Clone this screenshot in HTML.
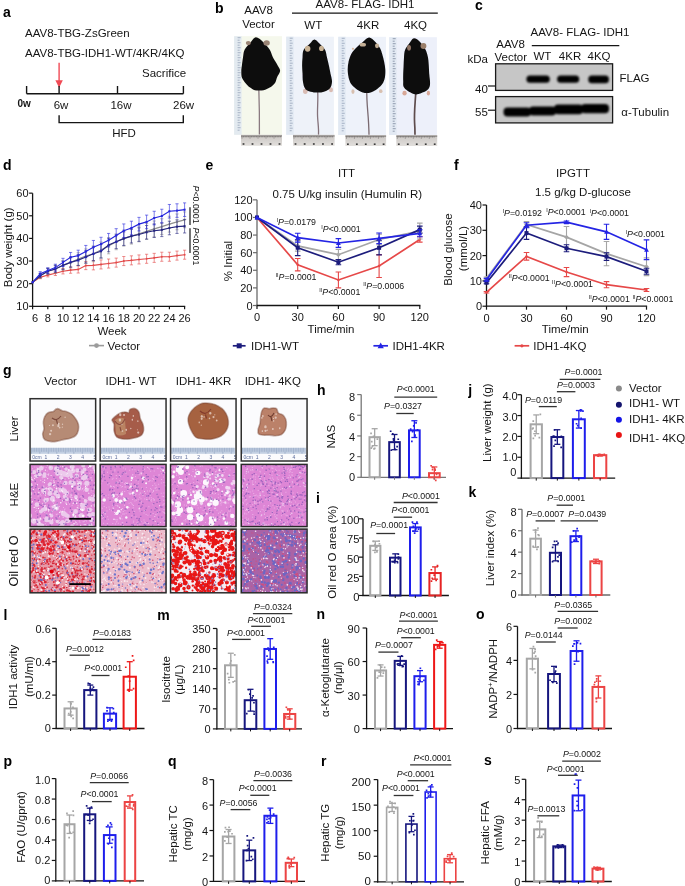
<!DOCTYPE html>
<html><head><meta charset="utf-8"><style>html,body{margin:0;padding:0;background:#fff;}svg{display:block;will-change:transform;}</style></head>
<body>
<svg width="685" height="886" viewBox="0 0 685 886" font-family="'Liberation Sans', sans-serif" fill="#151515">
<rect width="685" height="886" fill="#fff"/>
<defs>
<filter id="blur1" x="-20%" y="-50%" width="140%" height="200%"><feGaussianBlur stdDeviation="0.9"/></filter>
<filter id="blur05"><feGaussianBlur stdDeviation="0.5"/></filter>
<filter id="blur2" x="-20%" y="-50%" width="140%" height="200%"><feGaussianBlur stdDeviation="1.6"/></filter>
<linearGradient id="ruler" x1="0" y1="0" x2="0" y2="1"><stop offset="0" stop-color="#c9c5c2"/><stop offset="1" stop-color="#e2dfdc"/></linearGradient>
</defs>
<text x="3" y="16.8" font-size="14" font-weight="bold" fill="#000">a</text>
<text x="25" y="36.5" font-size="11.5">AAV8-TBG-ZsGreen</text>
<text x="25" y="57" font-size="11.5">AAV8-TBG-IDH1-WT/4KR/4KQ</text>
<line x1="59.1" y1="62.8" x2="59.1" y2="81" stroke="#f04a55" stroke-width="1.4"/>
<path d="M55.4,80.2 L62.8,80.2 L59.1,87.8 Z" fill="#f04a55"/>
<text x="142" y="77" font-size="11.5">Sacrifice</text>
<line x1="26.6" y1="93.7" x2="183.4" y2="93.7" stroke="#151515" stroke-width="1.4"/>
<line x1="26.6" y1="86" x2="26.6" y2="93.7" stroke="#151515" stroke-width="1.4"/>
<line x1="59.1" y1="86" x2="59.1" y2="93.7" stroke="#151515" stroke-width="1.4"/>
<line x1="117.5" y1="86" x2="117.5" y2="93.7" stroke="#151515" stroke-width="1.4"/>
<line x1="183.4" y1="86" x2="183.4" y2="93.7" stroke="#151515" stroke-width="1.4"/>
<text x="17.5" y="107" font-size="10" font-weight="bold">0w</text>
<text x="61" y="108.5" font-size="11.5" text-anchor="middle">6w</text>
<text x="121" y="108.5" font-size="11.5" text-anchor="middle">16w</text>
<text x="183.6" y="108.5" font-size="11.5" text-anchor="middle">26w</text>
<path d="M59.1,115.2 V122.6 H183.3 V115.2" fill="none" stroke="#151515" stroke-width="1.4"/>
<text x="124" y="137.4" font-size="11.5" text-anchor="middle">HFD</text>
<text x="215" y="13.2" font-size="14" font-weight="bold" fill="#000">b</text>
<text x="258.5" y="14.2" font-size="11.5" text-anchor="middle">AAV8</text>
<text x="258.5" y="27.7" font-size="11.5" text-anchor="middle">Vector</text>
<text x="365" y="8.3" font-size="11.5" text-anchor="middle">AAV8- FLAG- IDH1</text>
<line x1="292" y1="13.2" x2="437.8" y2="13.2" stroke="#151515" stroke-width="1.3"/>
<text x="313.3" y="29.2" font-size="11.5" text-anchor="middle">WT</text>
<text x="368" y="29.2" font-size="11.5" text-anchor="middle">4KR</text>
<text x="415.5" y="29.2" font-size="11.5" text-anchor="middle">4KQ</text>
<defs><filter id="msoft" x="-5%" y="-5%" width="110%" height="110%"><feGaussianBlur stdDeviation="0.45"/></filter></defs><rect x="234.1" y="36.2" width="47.9" height="98.6" fill="#f5f8ec"/>
<rect x="234.1" y="36.2" width="7.5" height="98.6" fill="#dfe7f1" opacity="0.85"/>
<line x1="237.6" y1="37.7" x2="240.6" y2="37.7" stroke="#8d9bb2" stroke-width="0.7"/>
<line x1="237.6" y1="40.2" x2="239.6" y2="40.2" stroke="#8d9bb2" stroke-width="0.7"/>
<line x1="237.6" y1="42.7" x2="240.6" y2="42.7" stroke="#8d9bb2" stroke-width="0.7"/>
<line x1="237.6" y1="45.2" x2="239.6" y2="45.2" stroke="#8d9bb2" stroke-width="0.7"/>
<line x1="237.6" y1="47.7" x2="240.6" y2="47.7" stroke="#8d9bb2" stroke-width="0.7"/>
<line x1="237.6" y1="50.2" x2="239.6" y2="50.2" stroke="#8d9bb2" stroke-width="0.7"/>
<line x1="237.6" y1="52.7" x2="240.6" y2="52.7" stroke="#8d9bb2" stroke-width="0.7"/>
<line x1="237.6" y1="55.2" x2="239.6" y2="55.2" stroke="#8d9bb2" stroke-width="0.7"/>
<line x1="237.6" y1="57.7" x2="240.6" y2="57.7" stroke="#8d9bb2" stroke-width="0.7"/>
<line x1="237.6" y1="60.2" x2="239.6" y2="60.2" stroke="#8d9bb2" stroke-width="0.7"/>
<line x1="237.6" y1="62.7" x2="240.6" y2="62.7" stroke="#8d9bb2" stroke-width="0.7"/>
<line x1="237.6" y1="65.2" x2="239.6" y2="65.2" stroke="#8d9bb2" stroke-width="0.7"/>
<line x1="237.6" y1="67.7" x2="240.6" y2="67.7" stroke="#8d9bb2" stroke-width="0.7"/>
<line x1="237.6" y1="70.2" x2="239.6" y2="70.2" stroke="#8d9bb2" stroke-width="0.7"/>
<line x1="237.6" y1="72.7" x2="240.6" y2="72.7" stroke="#8d9bb2" stroke-width="0.7"/>
<line x1="237.6" y1="75.2" x2="239.6" y2="75.2" stroke="#8d9bb2" stroke-width="0.7"/>
<line x1="237.6" y1="77.7" x2="240.6" y2="77.7" stroke="#8d9bb2" stroke-width="0.7"/>
<line x1="237.6" y1="80.2" x2="239.6" y2="80.2" stroke="#8d9bb2" stroke-width="0.7"/>
<line x1="237.6" y1="82.7" x2="240.6" y2="82.7" stroke="#8d9bb2" stroke-width="0.7"/>
<line x1="237.6" y1="85.2" x2="239.6" y2="85.2" stroke="#8d9bb2" stroke-width="0.7"/>
<line x1="237.6" y1="87.7" x2="240.6" y2="87.7" stroke="#8d9bb2" stroke-width="0.7"/>
<line x1="237.6" y1="90.2" x2="239.6" y2="90.2" stroke="#8d9bb2" stroke-width="0.7"/>
<line x1="237.6" y1="92.7" x2="240.6" y2="92.7" stroke="#8d9bb2" stroke-width="0.7"/>
<line x1="237.6" y1="95.2" x2="239.6" y2="95.2" stroke="#8d9bb2" stroke-width="0.7"/>
<line x1="237.6" y1="97.7" x2="240.6" y2="97.7" stroke="#8d9bb2" stroke-width="0.7"/>
<line x1="237.6" y1="100.2" x2="239.6" y2="100.2" stroke="#8d9bb2" stroke-width="0.7"/>
<line x1="237.6" y1="102.7" x2="240.6" y2="102.7" stroke="#8d9bb2" stroke-width="0.7"/>
<line x1="237.6" y1="105.2" x2="239.6" y2="105.2" stroke="#8d9bb2" stroke-width="0.7"/>
<line x1="237.6" y1="107.7" x2="240.6" y2="107.7" stroke="#8d9bb2" stroke-width="0.7"/>
<line x1="237.6" y1="110.2" x2="239.6" y2="110.2" stroke="#8d9bb2" stroke-width="0.7"/>
<line x1="237.6" y1="112.7" x2="240.6" y2="112.7" stroke="#8d9bb2" stroke-width="0.7"/>
<line x1="237.6" y1="115.2" x2="239.6" y2="115.2" stroke="#8d9bb2" stroke-width="0.7"/>
<line x1="237.6" y1="117.7" x2="240.6" y2="117.7" stroke="#8d9bb2" stroke-width="0.7"/>
<line x1="237.6" y1="120.2" x2="239.6" y2="120.2" stroke="#8d9bb2" stroke-width="0.7"/>
<line x1="237.6" y1="122.7" x2="240.6" y2="122.7" stroke="#8d9bb2" stroke-width="0.7"/>
<line x1="237.6" y1="125.2" x2="239.6" y2="125.2" stroke="#8d9bb2" stroke-width="0.7"/>
<line x1="237.6" y1="127.7" x2="240.6" y2="127.7" stroke="#8d9bb2" stroke-width="0.7"/>
<line x1="237.6" y1="130.2" x2="239.6" y2="130.2" stroke="#8d9bb2" stroke-width="0.7"/>
<rect x="241" y="134.8" width="41" height="11" fill="url(#ruler)"/>
<line x1="241" y1="136" x2="282" y2="136" stroke="#6a6664" stroke-width="0.8"/>
<path d="M242.0 136.0v2.6M243.6 136.0v1.4M245.2 136.0v1.4M246.8 136.0v1.4M248.4 136.0v1.4M250.0 136.0v2.6M251.6 136.0v1.4M253.2 136.0v1.4M254.8 136.0v1.4M256.4 136.0v1.4M258.0 136.0v2.6M259.6 136.0v1.4M261.2 136.0v1.4M262.8 136.0v1.4M264.4 136.0v1.4M266.0 136.0v2.6M267.6 136.0v1.4M269.2 136.0v1.4M270.8 136.0v1.4M272.4 136.0v1.4M274.0 136.0v2.6M275.6 136.0v1.4M277.2 136.0v1.4M278.8 136.0v1.4M280.4 136.0v1.4" stroke="#5e5a58" stroke-width="0.5"/>
<rect x="242.6" y="143.2" width="1.8" height="1.6" fill="#3a3a3a"/>
<rect x="251.6" y="143.2" width="1.8" height="1.6" fill="#3a3a3a"/>
<rect x="260.6" y="143.2" width="1.8" height="1.6" fill="#3a3a3a"/>
<rect x="269.6" y="143.2" width="1.8" height="1.6" fill="#3a3a3a"/>
<rect x="278.6" y="143.2" width="1.8" height="1.6" fill="#3a3a3a"/>
<rect x="286.2" y="36.7" width="47.7" height="98.1" fill="#eef2f9"/>
<rect x="286.2" y="36.7" width="7.5" height="98.1" fill="#dfe7f1" opacity="0.85"/>
<line x1="289.7" y1="38.2" x2="292.7" y2="38.2" stroke="#8d9bb2" stroke-width="0.7"/>
<line x1="289.7" y1="40.7" x2="291.7" y2="40.7" stroke="#8d9bb2" stroke-width="0.7"/>
<line x1="289.7" y1="43.2" x2="292.7" y2="43.2" stroke="#8d9bb2" stroke-width="0.7"/>
<line x1="289.7" y1="45.7" x2="291.7" y2="45.7" stroke="#8d9bb2" stroke-width="0.7"/>
<line x1="289.7" y1="48.2" x2="292.7" y2="48.2" stroke="#8d9bb2" stroke-width="0.7"/>
<line x1="289.7" y1="50.7" x2="291.7" y2="50.7" stroke="#8d9bb2" stroke-width="0.7"/>
<line x1="289.7" y1="53.2" x2="292.7" y2="53.2" stroke="#8d9bb2" stroke-width="0.7"/>
<line x1="289.7" y1="55.7" x2="291.7" y2="55.7" stroke="#8d9bb2" stroke-width="0.7"/>
<line x1="289.7" y1="58.2" x2="292.7" y2="58.2" stroke="#8d9bb2" stroke-width="0.7"/>
<line x1="289.7" y1="60.7" x2="291.7" y2="60.7" stroke="#8d9bb2" stroke-width="0.7"/>
<line x1="289.7" y1="63.2" x2="292.7" y2="63.2" stroke="#8d9bb2" stroke-width="0.7"/>
<line x1="289.7" y1="65.7" x2="291.7" y2="65.7" stroke="#8d9bb2" stroke-width="0.7"/>
<line x1="289.7" y1="68.2" x2="292.7" y2="68.2" stroke="#8d9bb2" stroke-width="0.7"/>
<line x1="289.7" y1="70.7" x2="291.7" y2="70.7" stroke="#8d9bb2" stroke-width="0.7"/>
<line x1="289.7" y1="73.2" x2="292.7" y2="73.2" stroke="#8d9bb2" stroke-width="0.7"/>
<line x1="289.7" y1="75.7" x2="291.7" y2="75.7" stroke="#8d9bb2" stroke-width="0.7"/>
<line x1="289.7" y1="78.2" x2="292.7" y2="78.2" stroke="#8d9bb2" stroke-width="0.7"/>
<line x1="289.7" y1="80.7" x2="291.7" y2="80.7" stroke="#8d9bb2" stroke-width="0.7"/>
<line x1="289.7" y1="83.2" x2="292.7" y2="83.2" stroke="#8d9bb2" stroke-width="0.7"/>
<line x1="289.7" y1="85.7" x2="291.7" y2="85.7" stroke="#8d9bb2" stroke-width="0.7"/>
<line x1="289.7" y1="88.2" x2="292.7" y2="88.2" stroke="#8d9bb2" stroke-width="0.7"/>
<line x1="289.7" y1="90.7" x2="291.7" y2="90.7" stroke="#8d9bb2" stroke-width="0.7"/>
<line x1="289.7" y1="93.2" x2="292.7" y2="93.2" stroke="#8d9bb2" stroke-width="0.7"/>
<line x1="289.7" y1="95.7" x2="291.7" y2="95.7" stroke="#8d9bb2" stroke-width="0.7"/>
<line x1="289.7" y1="98.2" x2="292.7" y2="98.2" stroke="#8d9bb2" stroke-width="0.7"/>
<line x1="289.7" y1="100.7" x2="291.7" y2="100.7" stroke="#8d9bb2" stroke-width="0.7"/>
<line x1="289.7" y1="103.2" x2="292.7" y2="103.2" stroke="#8d9bb2" stroke-width="0.7"/>
<line x1="289.7" y1="105.7" x2="291.7" y2="105.7" stroke="#8d9bb2" stroke-width="0.7"/>
<line x1="289.7" y1="108.2" x2="292.7" y2="108.2" stroke="#8d9bb2" stroke-width="0.7"/>
<line x1="289.7" y1="110.7" x2="291.7" y2="110.7" stroke="#8d9bb2" stroke-width="0.7"/>
<line x1="289.7" y1="113.2" x2="292.7" y2="113.2" stroke="#8d9bb2" stroke-width="0.7"/>
<line x1="289.7" y1="115.7" x2="291.7" y2="115.7" stroke="#8d9bb2" stroke-width="0.7"/>
<line x1="289.7" y1="118.2" x2="292.7" y2="118.2" stroke="#8d9bb2" stroke-width="0.7"/>
<line x1="289.7" y1="120.7" x2="291.7" y2="120.7" stroke="#8d9bb2" stroke-width="0.7"/>
<line x1="289.7" y1="123.2" x2="292.7" y2="123.2" stroke="#8d9bb2" stroke-width="0.7"/>
<line x1="289.7" y1="125.7" x2="291.7" y2="125.7" stroke="#8d9bb2" stroke-width="0.7"/>
<line x1="289.7" y1="128.2" x2="292.7" y2="128.2" stroke="#8d9bb2" stroke-width="0.7"/>
<line x1="289.7" y1="130.7" x2="291.7" y2="130.7" stroke="#8d9bb2" stroke-width="0.7"/>
<rect x="293" y="134.8" width="41.6" height="11" fill="url(#ruler)"/>
<line x1="293" y1="136" x2="334.6" y2="136" stroke="#6a6664" stroke-width="0.8"/>
<path d="M294.0 136.0v2.6M295.6 136.0v1.4M297.2 136.0v1.4M298.8 136.0v1.4M300.4 136.0v1.4M302.0 136.0v2.6M303.6 136.0v1.4M305.2 136.0v1.4M306.8 136.0v1.4M308.4 136.0v1.4M310.0 136.0v2.6M311.6 136.0v1.4M313.2 136.0v1.4M314.8 136.0v1.4M316.4 136.0v1.4M318.0 136.0v2.6M319.6 136.0v1.4M321.2 136.0v1.4M322.8 136.0v1.4M324.4 136.0v1.4M326.0 136.0v2.6M327.6 136.0v1.4M329.2 136.0v1.4M330.8 136.0v1.4M332.4 136.0v1.4" stroke="#5e5a58" stroke-width="0.5"/>
<rect x="294.6" y="143.2" width="1.8" height="1.6" fill="#3a3a3a"/>
<rect x="303.75" y="143.2" width="1.8" height="1.6" fill="#3a3a3a"/>
<rect x="312.9" y="143.2" width="1.8" height="1.6" fill="#3a3a3a"/>
<rect x="322.05" y="143.2" width="1.8" height="1.6" fill="#3a3a3a"/>
<rect x="331.2" y="143.2" width="1.8" height="1.6" fill="#3a3a3a"/>
<rect x="338.2" y="36.8" width="47.8" height="98.2" fill="#eef2fa"/>
<rect x="338.2" y="36.8" width="7.5" height="98.2" fill="#dfe7f1" opacity="0.85"/>
<line x1="341.7" y1="38.3" x2="344.7" y2="38.3" stroke="#8d9bb2" stroke-width="0.7"/>
<line x1="341.7" y1="40.8" x2="343.7" y2="40.8" stroke="#8d9bb2" stroke-width="0.7"/>
<line x1="341.7" y1="43.3" x2="344.7" y2="43.3" stroke="#8d9bb2" stroke-width="0.7"/>
<line x1="341.7" y1="45.8" x2="343.7" y2="45.8" stroke="#8d9bb2" stroke-width="0.7"/>
<line x1="341.7" y1="48.3" x2="344.7" y2="48.3" stroke="#8d9bb2" stroke-width="0.7"/>
<line x1="341.7" y1="50.8" x2="343.7" y2="50.8" stroke="#8d9bb2" stroke-width="0.7"/>
<line x1="341.7" y1="53.3" x2="344.7" y2="53.3" stroke="#8d9bb2" stroke-width="0.7"/>
<line x1="341.7" y1="55.8" x2="343.7" y2="55.8" stroke="#8d9bb2" stroke-width="0.7"/>
<line x1="341.7" y1="58.3" x2="344.7" y2="58.3" stroke="#8d9bb2" stroke-width="0.7"/>
<line x1="341.7" y1="60.8" x2="343.7" y2="60.8" stroke="#8d9bb2" stroke-width="0.7"/>
<line x1="341.7" y1="63.3" x2="344.7" y2="63.3" stroke="#8d9bb2" stroke-width="0.7"/>
<line x1="341.7" y1="65.8" x2="343.7" y2="65.8" stroke="#8d9bb2" stroke-width="0.7"/>
<line x1="341.7" y1="68.3" x2="344.7" y2="68.3" stroke="#8d9bb2" stroke-width="0.7"/>
<line x1="341.7" y1="70.8" x2="343.7" y2="70.8" stroke="#8d9bb2" stroke-width="0.7"/>
<line x1="341.7" y1="73.3" x2="344.7" y2="73.3" stroke="#8d9bb2" stroke-width="0.7"/>
<line x1="341.7" y1="75.8" x2="343.7" y2="75.8" stroke="#8d9bb2" stroke-width="0.7"/>
<line x1="341.7" y1="78.3" x2="344.7" y2="78.3" stroke="#8d9bb2" stroke-width="0.7"/>
<line x1="341.7" y1="80.8" x2="343.7" y2="80.8" stroke="#8d9bb2" stroke-width="0.7"/>
<line x1="341.7" y1="83.3" x2="344.7" y2="83.3" stroke="#8d9bb2" stroke-width="0.7"/>
<line x1="341.7" y1="85.8" x2="343.7" y2="85.8" stroke="#8d9bb2" stroke-width="0.7"/>
<line x1="341.7" y1="88.3" x2="344.7" y2="88.3" stroke="#8d9bb2" stroke-width="0.7"/>
<line x1="341.7" y1="90.8" x2="343.7" y2="90.8" stroke="#8d9bb2" stroke-width="0.7"/>
<line x1="341.7" y1="93.3" x2="344.7" y2="93.3" stroke="#8d9bb2" stroke-width="0.7"/>
<line x1="341.7" y1="95.8" x2="343.7" y2="95.8" stroke="#8d9bb2" stroke-width="0.7"/>
<line x1="341.7" y1="98.3" x2="344.7" y2="98.3" stroke="#8d9bb2" stroke-width="0.7"/>
<line x1="341.7" y1="100.8" x2="343.7" y2="100.8" stroke="#8d9bb2" stroke-width="0.7"/>
<line x1="341.7" y1="103.3" x2="344.7" y2="103.3" stroke="#8d9bb2" stroke-width="0.7"/>
<line x1="341.7" y1="105.8" x2="343.7" y2="105.8" stroke="#8d9bb2" stroke-width="0.7"/>
<line x1="341.7" y1="108.3" x2="344.7" y2="108.3" stroke="#8d9bb2" stroke-width="0.7"/>
<line x1="341.7" y1="110.8" x2="343.7" y2="110.8" stroke="#8d9bb2" stroke-width="0.7"/>
<line x1="341.7" y1="113.3" x2="344.7" y2="113.3" stroke="#8d9bb2" stroke-width="0.7"/>
<line x1="341.7" y1="115.8" x2="343.7" y2="115.8" stroke="#8d9bb2" stroke-width="0.7"/>
<line x1="341.7" y1="118.3" x2="344.7" y2="118.3" stroke="#8d9bb2" stroke-width="0.7"/>
<line x1="341.7" y1="120.8" x2="343.7" y2="120.8" stroke="#8d9bb2" stroke-width="0.7"/>
<line x1="341.7" y1="123.3" x2="344.7" y2="123.3" stroke="#8d9bb2" stroke-width="0.7"/>
<line x1="341.7" y1="125.8" x2="343.7" y2="125.8" stroke="#8d9bb2" stroke-width="0.7"/>
<line x1="341.7" y1="128.3" x2="344.7" y2="128.3" stroke="#8d9bb2" stroke-width="0.7"/>
<line x1="341.7" y1="130.8" x2="343.7" y2="130.8" stroke="#8d9bb2" stroke-width="0.7"/>
<rect x="345.4" y="135" width="40.7" height="11" fill="url(#ruler)"/>
<line x1="345.4" y1="136.2" x2="386.1" y2="136.2" stroke="#6a6664" stroke-width="0.8"/>
<path d="M346.4 136.2v2.6M348.0 136.2v1.4M349.6 136.2v1.4M351.2 136.2v1.4M352.8 136.2v1.4M354.4 136.2v2.6M356.0 136.2v1.4M357.6 136.2v1.4M359.2 136.2v1.4M360.8 136.2v1.4M362.4 136.2v2.6M364.0 136.2v1.4M365.6 136.2v1.4M367.2 136.2v1.4M368.8 136.2v1.4M370.4 136.2v2.6M372.0 136.2v1.4M373.6 136.2v1.4M375.2 136.2v1.4M376.8 136.2v1.4M378.4 136.2v2.6M380.0 136.2v1.4M381.6 136.2v1.4M383.2 136.2v1.4" stroke="#5e5a58" stroke-width="0.5"/>
<rect x="347" y="143.4" width="1.8" height="1.6" fill="#3a3a3a"/>
<rect x="355.93" y="143.4" width="1.8" height="1.6" fill="#3a3a3a"/>
<rect x="364.85" y="143.4" width="1.8" height="1.6" fill="#3a3a3a"/>
<rect x="373.78" y="143.4" width="1.8" height="1.6" fill="#3a3a3a"/>
<rect x="382.7" y="143.4" width="1.8" height="1.6" fill="#3a3a3a"/>
<rect x="389.2" y="37.2" width="47.7" height="97.8" fill="#edf0fa"/>
<rect x="389.2" y="37.2" width="7.5" height="97.8" fill="#dfe7f1" opacity="0.85"/>
<line x1="392.7" y1="38.7" x2="395.7" y2="38.7" stroke="#6f7b92" stroke-width="0.7"/>
<line x1="392.7" y1="41.2" x2="394.7" y2="41.2" stroke="#6f7b92" stroke-width="0.7"/>
<line x1="392.7" y1="43.7" x2="395.7" y2="43.7" stroke="#6f7b92" stroke-width="0.7"/>
<line x1="392.7" y1="46.2" x2="394.7" y2="46.2" stroke="#6f7b92" stroke-width="0.7"/>
<line x1="392.7" y1="48.7" x2="395.7" y2="48.7" stroke="#6f7b92" stroke-width="0.7"/>
<line x1="392.7" y1="51.2" x2="394.7" y2="51.2" stroke="#6f7b92" stroke-width="0.7"/>
<line x1="392.7" y1="53.7" x2="395.7" y2="53.7" stroke="#6f7b92" stroke-width="0.7"/>
<line x1="392.7" y1="56.2" x2="394.7" y2="56.2" stroke="#6f7b92" stroke-width="0.7"/>
<line x1="392.7" y1="58.7" x2="395.7" y2="58.7" stroke="#6f7b92" stroke-width="0.7"/>
<line x1="392.7" y1="61.2" x2="394.7" y2="61.2" stroke="#6f7b92" stroke-width="0.7"/>
<line x1="392.7" y1="63.7" x2="395.7" y2="63.7" stroke="#6f7b92" stroke-width="0.7"/>
<line x1="392.7" y1="66.2" x2="394.7" y2="66.2" stroke="#6f7b92" stroke-width="0.7"/>
<line x1="392.7" y1="68.7" x2="395.7" y2="68.7" stroke="#6f7b92" stroke-width="0.7"/>
<line x1="392.7" y1="71.2" x2="394.7" y2="71.2" stroke="#6f7b92" stroke-width="0.7"/>
<line x1="392.7" y1="73.7" x2="395.7" y2="73.7" stroke="#6f7b92" stroke-width="0.7"/>
<line x1="392.7" y1="76.2" x2="394.7" y2="76.2" stroke="#6f7b92" stroke-width="0.7"/>
<line x1="392.7" y1="78.7" x2="395.7" y2="78.7" stroke="#6f7b92" stroke-width="0.7"/>
<line x1="392.7" y1="81.2" x2="394.7" y2="81.2" stroke="#6f7b92" stroke-width="0.7"/>
<line x1="392.7" y1="83.7" x2="395.7" y2="83.7" stroke="#6f7b92" stroke-width="0.7"/>
<line x1="392.7" y1="86.2" x2="394.7" y2="86.2" stroke="#6f7b92" stroke-width="0.7"/>
<line x1="392.7" y1="88.7" x2="395.7" y2="88.7" stroke="#6f7b92" stroke-width="0.7"/>
<line x1="392.7" y1="91.2" x2="394.7" y2="91.2" stroke="#6f7b92" stroke-width="0.7"/>
<line x1="392.7" y1="93.7" x2="395.7" y2="93.7" stroke="#6f7b92" stroke-width="0.7"/>
<line x1="392.7" y1="96.2" x2="394.7" y2="96.2" stroke="#6f7b92" stroke-width="0.7"/>
<line x1="392.7" y1="98.7" x2="395.7" y2="98.7" stroke="#6f7b92" stroke-width="0.7"/>
<line x1="392.7" y1="101.2" x2="394.7" y2="101.2" stroke="#6f7b92" stroke-width="0.7"/>
<line x1="392.7" y1="103.7" x2="395.7" y2="103.7" stroke="#6f7b92" stroke-width="0.7"/>
<line x1="392.7" y1="106.2" x2="394.7" y2="106.2" stroke="#6f7b92" stroke-width="0.7"/>
<line x1="392.7" y1="108.7" x2="395.7" y2="108.7" stroke="#6f7b92" stroke-width="0.7"/>
<line x1="392.7" y1="111.2" x2="394.7" y2="111.2" stroke="#6f7b92" stroke-width="0.7"/>
<line x1="392.7" y1="113.7" x2="395.7" y2="113.7" stroke="#6f7b92" stroke-width="0.7"/>
<line x1="392.7" y1="116.2" x2="394.7" y2="116.2" stroke="#6f7b92" stroke-width="0.7"/>
<line x1="392.7" y1="118.7" x2="395.7" y2="118.7" stroke="#6f7b92" stroke-width="0.7"/>
<line x1="392.7" y1="121.2" x2="394.7" y2="121.2" stroke="#6f7b92" stroke-width="0.7"/>
<line x1="392.7" y1="123.7" x2="395.7" y2="123.7" stroke="#6f7b92" stroke-width="0.7"/>
<line x1="392.7" y1="126.2" x2="394.7" y2="126.2" stroke="#6f7b92" stroke-width="0.7"/>
<line x1="392.7" y1="128.7" x2="395.7" y2="128.7" stroke="#6f7b92" stroke-width="0.7"/>
<line x1="392.7" y1="131.2" x2="394.7" y2="131.2" stroke="#6f7b92" stroke-width="0.7"/>
<rect x="396.3" y="135" width="40.9" height="11" fill="url(#ruler)"/>
<line x1="396.3" y1="136.2" x2="437.2" y2="136.2" stroke="#6a6664" stroke-width="0.8"/>
<path d="M397.3 136.2v2.6M398.9 136.2v1.4M400.5 136.2v1.4M402.1 136.2v1.4M403.7 136.2v1.4M405.3 136.2v2.6M406.9 136.2v1.4M408.5 136.2v1.4M410.1 136.2v1.4M411.7 136.2v1.4M413.3 136.2v2.6M414.9 136.2v1.4M416.5 136.2v1.4M418.1 136.2v1.4M419.7 136.2v1.4M421.3 136.2v2.6M422.9 136.2v1.4M424.5 136.2v1.4M426.1 136.2v1.4M427.7 136.2v1.4M429.3 136.2v2.6M430.9 136.2v1.4M432.5 136.2v1.4M434.1 136.2v1.4" stroke="#5e5a58" stroke-width="0.5"/>
<rect x="397.9" y="143.4" width="1.8" height="1.6" fill="#3a3a3a"/>
<rect x="406.88" y="143.4" width="1.8" height="1.6" fill="#3a3a3a"/>
<rect x="415.85" y="143.4" width="1.8" height="1.6" fill="#3a3a3a"/>
<rect x="424.83" y="143.4" width="1.8" height="1.6" fill="#3a3a3a"/>
<rect x="433.8" y="143.4" width="1.8" height="1.6" fill="#3a3a3a"/>
<path d="M258.8,88 C259.2,100 259.6,115 259.4,134.6" fill="none" stroke="#8a7a80" stroke-width="1.3"/>
<path d="M317.6,90 C318.5,100 316.8,110 317.8,120 C318.3,126 318.8,130 318.5,134.6" fill="none" stroke="#84727a" stroke-width="1.3"/>
<path d="M366.8,90 C366.5,102 368,112 368.5,122 C368.8,128 369,131 369,134.8" fill="none" stroke="#7a6a70" stroke-width="1.3"/>
<path d="M415.8,92 C415.2,103 414,113 414.6,123 C415,128 415,131 415,134.8" fill="none" stroke="#5e4c4c" stroke-width="1.7"/>
<ellipse cx="305.3" cy="91.2" rx="2.3" ry="2.8" fill="#d9bcb4"/>
<ellipse cx="331" cy="89.95" rx="2" ry="2.35" fill="#d9bcb4"/>
<ellipse cx="352.95" cy="91.6" rx="1.55" ry="2.4" fill="#d8c0b0"/>
<ellipse cx="380.75" cy="91.15" rx="1.75" ry="1.95" fill="#d8c0b0"/>
<ellipse cx="404.55" cy="93.15" rx="2.15" ry="2.35" fill="#d8a898"/>
<ellipse cx="428.4" cy="93.15" rx="1.6" ry="2.35" fill="#d8a898"/>
<ellipse cx="352.95" cy="48.8" rx="1.15" ry="1" fill="#d8b8a0"/>
<g filter="url(#msoft)">
<path d="M256,37.2 C258.03,37.2 260.8,39.8 263.1,41.9 C265.4,44 268.15,47.18 269.8,49.8 C271.45,52.42 271.68,54.98 273,57.6 C274.32,60.22 276.52,63.27 277.7,65.5 C278.88,67.73 280.22,69.02 280.1,71 C279.98,72.98 277.85,75.42 277,77.4 C276.15,79.38 276.2,81.2 275,82.9 C273.8,84.6 271.72,86.38 269.8,87.6 C267.88,88.82 265.98,89.77 263.5,90.2 C261.02,90.63 257.13,90.63 254.9,90.2 C252.67,89.77 251.68,88.82 250.1,87.6 C248.52,86.38 246.77,84.6 245.4,82.9 C244.03,81.2 242.58,79.38 241.9,77.4 C241.22,75.42 241.3,72.98 241.3,71 C241.3,69.02 241.62,67.73 241.9,65.5 C242.18,63.27 242.55,60.22 243,57.6 C243.45,54.98 243.28,52.42 244.6,49.8 C245.92,47.18 249,44 250.9,41.9 C252.8,39.8 253.97,37.2 256,37.2Z" fill="#100e11"/>
<path d="M314.4,39.5 C315.98,39.5 317.73,41.78 319.5,43.5 C321.27,45.22 323.75,47.45 325,49.8 C326.25,52.15 326.35,54.98 327,57.6 C327.65,60.22 328.32,62.87 328.9,65.5 C329.48,68.13 329.98,70.77 330.5,73.4 C331.02,76.03 332,78.93 332,81.3 C332,83.67 331.4,86.02 330.5,87.6 C329.6,89.18 328.18,90 326.6,90.8 C325.02,91.6 323.1,92.13 321,92.4 C318.9,92.67 316.23,92.67 314,92.4 C311.77,92.13 309.18,91.6 307.6,90.8 C306.02,90 305.28,89.18 304.5,87.6 C303.72,86.02 303.23,83.67 302.9,81.3 C302.57,78.93 302.63,76.03 302.5,73.4 C302.37,70.77 302.1,68.13 302.1,65.5 C302.1,62.87 302.23,60.22 302.5,57.6 C302.77,54.98 302.45,52.15 303.7,49.8 C304.95,47.45 308.22,45.22 310,43.5 C311.78,41.78 312.82,39.5 314.4,39.5Z" fill="#100e11"/>
<path d="M369.1,37.5 C371.2,37.5 373.57,40.12 375.4,41.9 C377.23,43.68 378.98,46.23 380.1,48.2 C381.22,50.17 381.43,51.47 382.1,53.7 C382.77,55.93 383.57,58.97 384.1,61.6 C384.63,64.23 385.17,66.87 385.3,69.5 C385.43,72.13 385.37,75.03 384.9,77.4 C384.43,79.77 383.68,81.87 382.5,83.7 C381.32,85.53 379.77,86.95 377.8,88.4 C375.83,89.85 373.2,91.73 370.7,92.4 C368.2,93.07 365.3,93.07 362.8,92.4 C360.3,91.73 357.67,89.85 355.7,88.4 C353.73,86.95 352.18,85.53 351,83.7 C349.82,81.87 349.15,79.77 348.6,77.4 C348.05,75.03 347.7,72.13 347.7,69.5 C347.7,66.87 347.98,64.23 348.6,61.6 C349.22,58.97 350.22,55.93 351.4,53.7 C352.58,51.47 353.8,50.17 355.7,48.2 C357.6,46.23 360.57,43.68 362.8,41.9 C365.03,40.12 367,37.5 369.1,37.5Z" fill="#100e11"/>
<path d="M414.2,38.3 C415.83,38.3 418.2,39.98 420.1,41.9 C422,43.82 424.28,47.18 425.6,49.8 C426.92,52.42 427.47,54.98 428,57.6 C428.53,60.22 428.6,62.87 428.8,65.5 C429,68.13 429,70.77 429.2,73.4 C429.4,76.03 429.93,79.07 430,81.3 C430.07,83.53 430.2,85.22 429.6,86.8 C429,88.38 428.25,89.6 426.4,90.8 C424.55,92 420.6,93.47 418.5,94 C416.4,94.53 415.63,94.53 413.8,94 C411.97,93.47 409.2,92 407.5,90.8 C405.8,89.6 404.32,88.38 403.6,86.8 C402.88,85.22 403.27,83.53 403.2,81.3 C403.13,79.07 403.13,76.03 403.2,73.4 C403.27,70.77 403.47,68.13 403.6,65.5 C403.73,62.87 403.75,60.22 404,57.6 C404.25,54.98 404.05,52.42 405.1,49.8 C406.15,47.18 408.78,43.82 410.3,41.9 C411.82,39.98 412.57,38.3 414.2,38.3Z" fill="#100e11"/>
<ellipse cx="248.3" cy="43.1" rx="2.5" ry="2.1" fill="#9a8474"/>
<ellipse cx="266.65" cy="42.9" rx="3.15" ry="2.6" fill="#9a8474"/>
<ellipse cx="307.65" cy="48.75" rx="2.75" ry="2.95" fill="#c8b294"/>
<ellipse cx="321.45" cy="48.4" rx="2.35" ry="2.6" fill="#c8b294"/>
<ellipse cx="362.8" cy="44.65" rx="3.2" ry="1.95" fill="#c4b096"/>
<ellipse cx="377" cy="45.85" rx="2" ry="2.35" fill="#c4b096"/>
<ellipse cx="409.05" cy="47.8" rx="1.95" ry="2.8" fill="#8e7262"/>
<ellipse cx="423.45" cy="46" rx="2.95" ry="3" fill="#9a7e6a"/>
</g>
<text x="475" y="9.8" font-size="14" font-weight="bold" fill="#000">c</text>
<text x="580" y="36.4" font-size="11.5" text-anchor="middle">AAV8- FLAG- IDH1</text>
<line x1="531.8" y1="45.7" x2="619.3" y2="45.7" stroke="#151515" stroke-width="1.3"/>
<text x="510.5" y="47.7" font-size="11.5" text-anchor="middle">AAV8</text>
<text x="510.8" y="61.3" font-size="11.5" text-anchor="middle">Vector</text>
<text x="467.5" y="63.1" font-size="11.5">kDa</text>
<text x="542.4" y="59.6" font-size="11.5" text-anchor="middle">WT</text>
<text x="570" y="59.6" font-size="11.5" text-anchor="middle">4KR</text>
<text x="599" y="59.6" font-size="11.5" text-anchor="middle">4KQ</text>
<rect x="495.6" y="63.8" width="117" height="26.6" fill="#c6c6c6" stroke="#1a1a1a" stroke-width="1.3"/>
<rect x="495.6" y="96.6" width="117" height="26.3" fill="#c6c6c6" stroke="#1a1a1a" stroke-width="1.3"/>
<g filter="url(#blur1)" fill="#050505"><rect x="526.4" y="75.6" width="23.4" height="7.1" rx="3.5"/><rect x="557.1" y="75.4" width="22.1" height="7.3" rx="3.5"/><rect x="588.3" y="75.6" width="20.6" height="7.6" rx="3.5"/><rect x="503.5" y="107.4" width="27.5" height="9" rx="4"/><rect x="529" y="106.4" width="27" height="9" rx="4"/><rect x="554" y="104.6" width="29" height="9.6" rx="4"/><rect x="581" y="104" width="28" height="9.2" rx="4"/></g>
<text x="619.5" y="82.4" font-size="11.5">FLAG</text>
<text x="621.3" y="116.1" font-size="11.5">α-Tubulin</text>
<text x="487.8" y="92.7" font-size="11.5" text-anchor="end">40</text>
<text x="487.8" y="116.3" font-size="11.5" text-anchor="end">55</text>
<line x1="488" y1="86" x2="495" y2="86" stroke="#151515" stroke-width="1.2"/>
<line x1="488" y1="110.2" x2="495" y2="110.2" stroke="#151515" stroke-width="1.2"/>
<text x="3" y="169.8" font-size="14" font-weight="bold" fill="#000">d</text>
<line x1="32.6" y1="193.2" x2="32.6" y2="306.9" stroke="#151515" stroke-width="1.3"/>
<line x1="32" y1="306.3" x2="185.2" y2="306.3" stroke="#151515" stroke-width="1.3"/>
<line x1="29.1" y1="306.3" x2="32.6" y2="306.3" stroke="#151515" stroke-width="1.2"/>
<text x="28.6" y="310.3" font-size="11" text-anchor="end">10</text>
<line x1="29.1" y1="283.67" x2="32.6" y2="283.67" stroke="#151515" stroke-width="1.2"/>
<text x="28.6" y="287.67" font-size="11" text-anchor="end">20</text>
<line x1="29.1" y1="261.04" x2="32.6" y2="261.04" stroke="#151515" stroke-width="1.2"/>
<text x="28.6" y="265.04" font-size="11" text-anchor="end">30</text>
<line x1="29.1" y1="238.41" x2="32.6" y2="238.41" stroke="#151515" stroke-width="1.2"/>
<text x="28.6" y="242.41" font-size="11" text-anchor="end">40</text>
<line x1="29.1" y1="215.78" x2="32.6" y2="215.78" stroke="#151515" stroke-width="1.2"/>
<text x="28.6" y="219.78" font-size="11" text-anchor="end">50</text>
<line x1="29.1" y1="193.15" x2="32.6" y2="193.15" stroke="#151515" stroke-width="1.2"/>
<text x="28.6" y="197.15" font-size="11" text-anchor="end">60</text>
<line x1="32.6" y1="306.3" x2="32.6" y2="309.3" stroke="#151515" stroke-width="1.2"/>
<text x="35.1" y="322.2" font-size="11" text-anchor="middle">6</text>
<line x1="47.8" y1="306.3" x2="47.8" y2="309.3" stroke="#151515" stroke-width="1.2"/>
<text x="47.8" y="322.2" font-size="11" text-anchor="middle">8</text>
<line x1="63" y1="306.3" x2="63" y2="309.3" stroke="#151515" stroke-width="1.2"/>
<text x="63" y="322.2" font-size="11" text-anchor="middle">10</text>
<line x1="78.2" y1="306.3" x2="78.2" y2="309.3" stroke="#151515" stroke-width="1.2"/>
<text x="78.2" y="322.2" font-size="11" text-anchor="middle">12</text>
<line x1="93.4" y1="306.3" x2="93.4" y2="309.3" stroke="#151515" stroke-width="1.2"/>
<text x="93.4" y="322.2" font-size="11" text-anchor="middle">14</text>
<line x1="108.6" y1="306.3" x2="108.6" y2="309.3" stroke="#151515" stroke-width="1.2"/>
<text x="108.6" y="322.2" font-size="11" text-anchor="middle">16</text>
<line x1="123.8" y1="306.3" x2="123.8" y2="309.3" stroke="#151515" stroke-width="1.2"/>
<text x="123.8" y="322.2" font-size="11" text-anchor="middle">18</text>
<line x1="139" y1="306.3" x2="139" y2="309.3" stroke="#151515" stroke-width="1.2"/>
<text x="139" y="322.2" font-size="11" text-anchor="middle">20</text>
<line x1="154.2" y1="306.3" x2="154.2" y2="309.3" stroke="#151515" stroke-width="1.2"/>
<text x="154.2" y="322.2" font-size="11" text-anchor="middle">22</text>
<line x1="169.4" y1="306.3" x2="169.4" y2="309.3" stroke="#151515" stroke-width="1.2"/>
<text x="169.4" y="322.2" font-size="11" text-anchor="middle">24</text>
<line x1="184.6" y1="306.3" x2="184.6" y2="309.3" stroke="#151515" stroke-width="1.2"/>
<text x="184.6" y="322.2" font-size="11" text-anchor="middle">26</text>
<text x="112" y="334.5" font-size="11.5" text-anchor="middle">Week</text>
<text transform="translate(11.6,247.3) rotate(-90)" font-size="11.5" text-anchor="middle">Body weight (g)</text>
<path d="M32.6,282.31 L40.2,277.33 L47.8,275.07 L55.4,273.26 L63,271.22 L70.6,270.09 L78.2,269.41 L85.8,265.57 L93.4,265.34 L101,264.43 L108.6,263.53 L116.2,262.62 L123.8,261.04 L131.4,260.36 L139,259.46 L146.6,258.78 L154.2,257.87 L161.8,256.74 L169.4,256.74 L177,255.61 L184.6,254.7" fill="none" stroke="#e24a4a" stroke-width="1.15"/>
<path d="M40.2,275.98V278.69M38.6,275.98H41.8M38.6,278.69H41.8M47.8,273.26V276.88M46.2,273.26H49.4M46.2,276.88H49.4M55.4,271V275.52M53.8,271H57M53.8,275.52H57M63,268.51V273.94M61.4,268.51H64.6M61.4,273.94H64.6M70.6,266.92V273.26M69,266.92H72.2M69,273.26H72.2M78.2,265.79V273.03M76.6,265.79H79.8M76.6,273.03H79.8M85.8,261.49V269.64M84.2,261.49H87.4M84.2,269.64H87.4M93.4,260.81V269.87M91.8,260.81H95M91.8,269.87H95M101,259.91V268.96M99.4,259.91H102.6M99.4,268.96H102.6M108.6,259V268.06M107,259H110.2M107,268.06H110.2M116.2,258.1V267.15M114.6,258.1H117.8M114.6,267.15H117.8M123.8,256.51V265.57M122.2,256.51H125.4M122.2,265.57H125.4M131.4,255.84V264.89M129.8,255.84H133M129.8,264.89H133M139,254.93V263.98M137.4,254.93H140.6M137.4,263.98H140.6M146.6,254.25V263.3M145,254.25H148.2M145,263.3H148.2M154.2,253.35V262.4M152.6,253.35H155.8M152.6,262.4H155.8M161.8,252.21V261.27M160.2,252.21H163.4M160.2,261.27H163.4M169.4,252.21V261.27M167.8,252.21H171M167.8,261.27H171M177,251.08V260.13M175.4,251.08H178.6M175.4,260.13H178.6M184.6,250.18V259.23M183,250.18H186.2M183,259.23H186.2" stroke="#e24a4a" stroke-width="0.8" opacity="0.75" fill="none"/>
<circle cx="32.6" cy="282.31" r="1" fill="#e24a4a"/>
<circle cx="40.2" cy="277.33" r="1" fill="#e24a4a"/>
<circle cx="47.8" cy="275.07" r="1" fill="#e24a4a"/>
<circle cx="55.4" cy="273.26" r="1" fill="#e24a4a"/>
<circle cx="63" cy="271.22" r="1" fill="#e24a4a"/>
<circle cx="70.6" cy="270.09" r="1" fill="#e24a4a"/>
<circle cx="78.2" cy="269.41" r="1" fill="#e24a4a"/>
<circle cx="85.8" cy="265.57" r="1" fill="#e24a4a"/>
<circle cx="93.4" cy="265.34" r="1" fill="#e24a4a"/>
<circle cx="101" cy="264.43" r="1" fill="#e24a4a"/>
<circle cx="108.6" cy="263.53" r="1" fill="#e24a4a"/>
<circle cx="116.2" cy="262.62" r="1" fill="#e24a4a"/>
<circle cx="123.8" cy="261.04" r="1" fill="#e24a4a"/>
<circle cx="131.4" cy="260.36" r="1" fill="#e24a4a"/>
<circle cx="139" cy="259.46" r="1" fill="#e24a4a"/>
<circle cx="146.6" cy="258.78" r="1" fill="#e24a4a"/>
<circle cx="154.2" cy="257.87" r="1" fill="#e24a4a"/>
<circle cx="161.8" cy="256.74" r="1" fill="#e24a4a"/>
<circle cx="169.4" cy="256.74" r="1" fill="#e24a4a"/>
<circle cx="177" cy="255.61" r="1" fill="#e24a4a"/>
<circle cx="184.6" cy="254.7" r="1" fill="#e24a4a"/>
<path d="M32.6,282.31 L40.2,275.75 L47.8,271.22 L55.4,268.96 L63,265.34 L70.6,262.4 L78.2,259 L85.8,256.06 L93.4,253.8 L101,249.95 L108.6,245.88 L116.2,241.8 L123.8,238.18 L131.4,236.15 L139,233.88 L146.6,231.39 L154.2,228.91 L161.8,226.64 L169.4,224.15 L177,221.89 L184.6,219.85" fill="none" stroke="#8e8e8e" stroke-width="1.15"/>
<path d="M40.2,273.37V278.13M38.6,273.37H41.8M38.6,278.13H41.8M47.8,268.06V274.39M46.2,268.06H49.4M46.2,274.39H49.4M55.4,265V272.92M53.8,265H57M53.8,272.92H57M63,260.59V270.09M61.4,260.59H64.6M61.4,270.09H64.6M70.6,256.85V267.94M69,256.85H72.2M69,267.94H72.2M78.2,252.67V265.34M76.6,252.67H79.8M76.6,265.34H79.8M85.8,248.93V263.19M84.2,248.93H87.4M84.2,263.19H87.4M93.4,245.88V261.72M91.8,245.88H95M91.8,261.72H95M101,242.03V257.87M99.4,242.03H102.6M99.4,257.87H102.6M108.6,237.96V253.8M107,237.96H110.2M107,253.8H110.2M116.2,233.88V249.73M114.6,233.88H117.8M114.6,249.73H117.8M123.8,230.26V246.1M122.2,230.26H125.4M122.2,246.1H125.4M131.4,228.23V244.07M129.8,228.23H133M129.8,244.07H133M139,225.96V241.8M137.4,225.96H140.6M137.4,241.8H140.6M146.6,223.47V239.32M145,223.47H148.2M145,239.32H148.2M154.2,220.98V236.83M152.6,220.98H155.8M152.6,236.83H155.8M161.8,218.72V234.56M160.2,218.72H163.4M160.2,234.56H163.4M169.4,216.23V232.07M167.8,216.23H171M167.8,232.07H171M177,213.97V229.81M175.4,213.97H178.6M175.4,229.81H178.6M184.6,211.93V227.77M183,211.93H186.2M183,227.77H186.2" stroke="#8e8e8e" stroke-width="0.8" opacity="0.75" fill="none"/>
<circle cx="32.6" cy="282.31" r="1" fill="#8e8e8e"/>
<circle cx="40.2" cy="275.75" r="1" fill="#8e8e8e"/>
<circle cx="47.8" cy="271.22" r="1" fill="#8e8e8e"/>
<circle cx="55.4" cy="268.96" r="1" fill="#8e8e8e"/>
<circle cx="63" cy="265.34" r="1" fill="#8e8e8e"/>
<circle cx="70.6" cy="262.4" r="1" fill="#8e8e8e"/>
<circle cx="78.2" cy="259" r="1" fill="#8e8e8e"/>
<circle cx="85.8" cy="256.06" r="1" fill="#8e8e8e"/>
<circle cx="93.4" cy="253.8" r="1" fill="#8e8e8e"/>
<circle cx="101" cy="249.95" r="1" fill="#8e8e8e"/>
<circle cx="108.6" cy="245.88" r="1" fill="#8e8e8e"/>
<circle cx="116.2" cy="241.8" r="1" fill="#8e8e8e"/>
<circle cx="123.8" cy="238.18" r="1" fill="#8e8e8e"/>
<circle cx="131.4" cy="236.15" r="1" fill="#8e8e8e"/>
<circle cx="139" cy="233.88" r="1" fill="#8e8e8e"/>
<circle cx="146.6" cy="231.39" r="1" fill="#8e8e8e"/>
<circle cx="154.2" cy="228.91" r="1" fill="#8e8e8e"/>
<circle cx="161.8" cy="226.64" r="1" fill="#8e8e8e"/>
<circle cx="169.4" cy="224.15" r="1" fill="#8e8e8e"/>
<circle cx="177" cy="221.89" r="1" fill="#8e8e8e"/>
<circle cx="184.6" cy="219.85" r="1" fill="#8e8e8e"/>
<path d="M32.6,282.31 L40.2,275.75 L47.8,271.22 L55.4,268.96 L63,265.34 L70.6,262.4 L78.2,260.13 L85.8,256.97 L93.4,253.8 L101,251.31 L108.6,244.97 L116.2,241.8 L123.8,238.64 L131.4,236.15 L139,234.56 L146.6,232.3 L154.2,230.72 L161.8,229.81 L169.4,228 L177,226.64 L184.6,226.19" fill="none" stroke="#24247e" stroke-width="1.15"/>
<path d="M40.2,273.71V277.79M38.6,273.71H41.8M38.6,277.79H41.8M47.8,268.51V273.94M46.2,268.51H49.4M46.2,273.94H49.4M55.4,265.57V272.36M53.8,265.57H57M53.8,272.36H57M63,261.27V269.41M61.4,261.27H64.6M61.4,269.41H64.6M70.6,257.65V267.15M69,257.65H72.2M69,267.15H72.2M78.2,254.7V265.57M76.6,254.7H79.8M76.6,265.57H79.8M85.8,250.86V263.08M84.2,250.86H87.4M84.2,263.08H87.4M93.4,247.01V260.59M91.8,247.01H95M91.8,260.59H95M101,244.52V258.1M99.4,244.52H102.6M99.4,258.1H102.6M108.6,238.18V251.76M107,238.18H110.2M107,251.76H110.2M116.2,235.02V248.59M114.6,235.02H117.8M114.6,248.59H117.8M123.8,231.85V245.43M122.2,231.85H125.4M122.2,245.43H125.4M131.4,229.36V242.94M129.8,229.36H133M129.8,242.94H133M139,227.77V241.35M137.4,227.77H140.6M137.4,241.35H140.6M146.6,225.51V239.09M145,225.51H148.2M145,239.09H148.2M154.2,223.93V237.5M152.6,223.93H155.8M152.6,237.5H155.8M161.8,223.02V236.6M160.2,223.02H163.4M160.2,236.6H163.4M169.4,221.21V234.79M167.8,221.21H171M167.8,234.79H171M177,219.85V233.43M175.4,219.85H178.6M175.4,233.43H178.6M184.6,219.4V232.98M183,219.4H186.2M183,232.98H186.2" stroke="#24247e" stroke-width="0.8" opacity="0.75" fill="none"/>
<rect x="31.6" y="281.31" width="2" height="2" fill="#24247e"/>
<rect x="39.2" y="274.75" width="2" height="2" fill="#24247e"/>
<rect x="46.8" y="270.22" width="2" height="2" fill="#24247e"/>
<rect x="54.4" y="267.96" width="2" height="2" fill="#24247e"/>
<rect x="62" y="264.34" width="2" height="2" fill="#24247e"/>
<rect x="69.6" y="261.4" width="2" height="2" fill="#24247e"/>
<rect x="77.2" y="259.13" width="2" height="2" fill="#24247e"/>
<rect x="84.8" y="255.97" width="2" height="2" fill="#24247e"/>
<rect x="92.4" y="252.8" width="2" height="2" fill="#24247e"/>
<rect x="100" y="250.31" width="2" height="2" fill="#24247e"/>
<rect x="107.6" y="243.97" width="2" height="2" fill="#24247e"/>
<rect x="115.2" y="240.8" width="2" height="2" fill="#24247e"/>
<rect x="122.8" y="237.64" width="2" height="2" fill="#24247e"/>
<rect x="130.4" y="235.15" width="2" height="2" fill="#24247e"/>
<rect x="138" y="233.56" width="2" height="2" fill="#24247e"/>
<rect x="145.6" y="231.3" width="2" height="2" fill="#24247e"/>
<rect x="153.2" y="229.72" width="2" height="2" fill="#24247e"/>
<rect x="160.8" y="228.81" width="2" height="2" fill="#24247e"/>
<rect x="168.4" y="227" width="2" height="2" fill="#24247e"/>
<rect x="176" y="225.64" width="2" height="2" fill="#24247e"/>
<rect x="183.6" y="225.19" width="2" height="2" fill="#24247e"/>
<path d="M32.6,282.31 L40.2,273.71 L47.8,270.54 L55.4,267.6 L63,262.4 L70.6,257.19 L78.2,255.61 L85.8,251.54 L93.4,247.24 L101,244.07 L108.6,240.22 L116.2,235.47 L123.8,230.72 L131.4,228 L139,224.15 L146.6,221.89 L154.2,218.04 L161.8,216.01 L169.4,211.25 L177,210.58 L184.6,209.67" fill="none" stroke="#2626dc" stroke-width="1.15"/>
<path d="M40.2,271.68V275.75M38.6,271.68H41.8M38.6,275.75H41.8M47.8,267.83V273.26M46.2,267.83H49.4M46.2,273.26H49.4M55.4,264.21V271M53.8,264.21H57M53.8,271H57M63,258.32V266.47M61.4,258.32H64.6M61.4,266.47H64.6M70.6,252.44V261.95M69,252.44H72.2M69,261.95H72.2M78.2,250.18V261.04M76.6,250.18H79.8M76.6,261.04H79.8M85.8,245.43V257.65M84.2,245.43H87.4M84.2,257.65H87.4M93.4,240.45V254.02M91.8,240.45H95M91.8,254.02H95M101,237.28V250.86M99.4,237.28H102.6M99.4,250.86H102.6M108.6,233.43V247.01M107,233.43H110.2M107,247.01H110.2M116.2,228.68V242.26M114.6,228.68H117.8M114.6,242.26H117.8M123.8,223.93V237.5M122.2,223.93H125.4M122.2,237.5H125.4M131.4,221.21V234.79M129.8,221.21H133M129.8,234.79H133M139,217.36V230.94M137.4,217.36H140.6M137.4,230.94H140.6M146.6,215.1V228.68M145,215.1H148.2M145,228.68H148.2M154.2,211.25V224.83M152.6,211.25H155.8M152.6,224.83H155.8M161.8,209.22V222.8M160.2,209.22H163.4M160.2,222.8H163.4M169.4,204.47V218.04M167.8,204.47H171M167.8,218.04H171M177,203.79V217.36M175.4,203.79H178.6M175.4,217.36H178.6M184.6,202.88V216.46M183,202.88H186.2M183,216.46H186.2" stroke="#2626dc" stroke-width="0.8" opacity="0.75" fill="none"/>
<rect x="31.6" y="281.31" width="2" height="2" fill="#2626dc"/>
<rect x="39.2" y="272.71" width="2" height="2" fill="#2626dc"/>
<rect x="46.8" y="269.54" width="2" height="2" fill="#2626dc"/>
<rect x="54.4" y="266.6" width="2" height="2" fill="#2626dc"/>
<rect x="62" y="261.4" width="2" height="2" fill="#2626dc"/>
<rect x="69.6" y="256.19" width="2" height="2" fill="#2626dc"/>
<rect x="77.2" y="254.61" width="2" height="2" fill="#2626dc"/>
<rect x="84.8" y="250.54" width="2" height="2" fill="#2626dc"/>
<rect x="92.4" y="246.24" width="2" height="2" fill="#2626dc"/>
<rect x="100" y="243.07" width="2" height="2" fill="#2626dc"/>
<rect x="107.6" y="239.22" width="2" height="2" fill="#2626dc"/>
<rect x="115.2" y="234.47" width="2" height="2" fill="#2626dc"/>
<rect x="122.8" y="229.72" width="2" height="2" fill="#2626dc"/>
<rect x="130.4" y="227" width="2" height="2" fill="#2626dc"/>
<rect x="138" y="223.15" width="2" height="2" fill="#2626dc"/>
<rect x="145.6" y="220.89" width="2" height="2" fill="#2626dc"/>
<rect x="153.2" y="217.04" width="2" height="2" fill="#2626dc"/>
<rect x="160.8" y="215.01" width="2" height="2" fill="#2626dc"/>
<rect x="168.4" y="210.25" width="2" height="2" fill="#2626dc"/>
<rect x="176" y="209.58" width="2" height="2" fill="#2626dc"/>
<rect x="183.6" y="208.67" width="2" height="2" fill="#2626dc"/>
<line x1="190" y1="207.3" x2="190" y2="225" stroke="#151515" stroke-width="1.2"/>
<line x1="190" y1="228.2" x2="190" y2="253.1" stroke="#151515" stroke-width="1.2"/>
<text transform="translate(193.2,185.6) rotate(90)" font-size="8.8"><tspan font-style="italic">P</tspan>&lt;0.0001</text>
<text transform="translate(193.2,227.4) rotate(90)" font-size="8.8"><tspan font-style="italic">P</tspan>&lt;0.0001</text>
<line x1="89" y1="345.6" x2="104" y2="345.6" stroke="#9b9b9b" stroke-width="1.6"/>
<circle cx="96.5" cy="345.6" r="2.4" fill="#9b9b9b"/>
<text x="107.5" y="349.6" font-size="11.5">Vector</text>
<text x="205.5" y="169.5" font-size="14" font-weight="bold" fill="#000">e</text>
<line x1="257" y1="199.84" x2="257" y2="306.1" stroke="#6a6a6a" stroke-width="1.3"/>
<line x1="256.4" y1="305.5" x2="420.4" y2="305.5" stroke="#151515" stroke-width="1.3"/>
<line x1="253" y1="305.5" x2="257" y2="305.5" stroke="#6a6a6a" stroke-width="1.2"/>
<text x="252.5" y="309.5" font-size="11" text-anchor="end">0</text>
<line x1="253" y1="287.89" x2="257" y2="287.89" stroke="#6a6a6a" stroke-width="1.2"/>
<text x="252.5" y="291.89" font-size="11" text-anchor="end">20</text>
<line x1="253" y1="270.28" x2="257" y2="270.28" stroke="#6a6a6a" stroke-width="1.2"/>
<text x="252.5" y="274.28" font-size="11" text-anchor="end">40</text>
<line x1="253" y1="252.67" x2="257" y2="252.67" stroke="#6a6a6a" stroke-width="1.2"/>
<text x="252.5" y="256.67" font-size="11" text-anchor="end">60</text>
<line x1="253" y1="235.06" x2="257" y2="235.06" stroke="#6a6a6a" stroke-width="1.2"/>
<text x="252.5" y="239.06" font-size="11" text-anchor="end">80</text>
<line x1="253" y1="217.45" x2="257" y2="217.45" stroke="#6a6a6a" stroke-width="1.2"/>
<text x="252.5" y="221.45" font-size="11" text-anchor="end">100</text>
<line x1="253" y1="199.84" x2="257" y2="199.84" stroke="#6a6a6a" stroke-width="1.2"/>
<text x="252.5" y="203.84" font-size="11" text-anchor="end">120</text>
<line x1="257" y1="305.5" x2="257" y2="309" stroke="#151515" stroke-width="1.2"/>
<text x="257" y="321.2" font-size="11" text-anchor="middle">0</text>
<line x1="297.7" y1="305.5" x2="297.7" y2="309" stroke="#151515" stroke-width="1.2"/>
<text x="297.7" y="321.2" font-size="11" text-anchor="middle">30</text>
<line x1="338.4" y1="305.5" x2="338.4" y2="309" stroke="#151515" stroke-width="1.2"/>
<text x="338.4" y="321.2" font-size="11" text-anchor="middle">60</text>
<line x1="379.1" y1="305.5" x2="379.1" y2="309" stroke="#151515" stroke-width="1.2"/>
<text x="379.1" y="321.2" font-size="11" text-anchor="middle">90</text>
<line x1="419.8" y1="305.5" x2="419.8" y2="309" stroke="#151515" stroke-width="1.2"/>
<text x="419.8" y="321.2" font-size="11" text-anchor="middle">120</text>
<text x="331" y="333" font-size="11.5" text-anchor="middle">Time/min</text>
<text x="346.5" y="177.2" font-size="11.5" text-anchor="middle">ITT</text>
<text x="272.5" y="197.6" font-size="11.5">0.75 U/kg insulin (Humulin R)</text>
<text transform="translate(232,261) rotate(-90)" font-size="11.5" text-anchor="middle">%  Initial</text>
<path d="M257,217.45 L297.7,264.73 L338.4,279.97 L379.1,266.05 L419.8,239.46" fill="none" stroke="#e64848" stroke-width="1.7"/>
<path d="M297.7,258.57V270.9M294.9,258.57H300.5M294.9,270.9H300.5M338.4,272.04V287.89M335.6,272.04H341.2M335.6,287.89H341.2M379.1,254.61V277.5M376.3,254.61H381.9M376.3,277.5H381.9M419.8,236.82V242.1M417,236.82H422.6M417,242.1H422.6" stroke="#e64848" stroke-width="1.1" opacity="1.0" fill="none"/>
<circle cx="257" cy="217.45" r="1.2" fill="#e64848"/>
<circle cx="297.7" cy="264.73" r="1.2" fill="#e64848"/>
<circle cx="338.4" cy="279.97" r="1.2" fill="#e64848"/>
<circle cx="379.1" cy="266.05" r="1.2" fill="#e64848"/>
<circle cx="419.8" cy="239.46" r="1.2" fill="#e64848"/>
<path d="M257,217.45 L297.7,245.89 L338.4,254.7 L379.1,239.46 L419.8,231.01" fill="none" stroke="#a5a5a5" stroke-width="1.7"/>
<path d="M297.7,240.61V251.17M294.9,240.61H300.5M294.9,251.17H300.5M338.4,249.41V259.98M335.6,249.41H341.2M335.6,259.98H341.2M379.1,234.18V244.75M376.3,234.18H381.9M376.3,244.75H381.9M419.8,223.09V238.93M417,223.09H422.6M417,238.93H422.6" stroke="#a5a5a5" stroke-width="1.1" opacity="1.0" fill="none"/>
<path d="M257,215.05 L259.4,217.45 L257,219.85 L254.6,217.45 Z" fill="#a5a5a5"/>
<path d="M297.7,243.49 L300.1,245.89 L297.7,248.29 L295.3,245.89 Z" fill="#a5a5a5"/>
<path d="M338.4,252.3 L340.8,254.7 L338.4,257.1 L336,254.7 Z" fill="#a5a5a5"/>
<path d="M379.1,237.06 L381.5,239.46 L379.1,241.86 L376.7,239.46 Z" fill="#a5a5a5"/>
<path d="M419.8,228.61 L422.2,231.01 L419.8,233.41 L417.4,231.01 Z" fill="#a5a5a5"/>
<path d="M257,217.45 L297.7,247.74 L338.4,262.18 L379.1,247.83 L419.8,229.6" fill="none" stroke="#1c1c7c" stroke-width="1.7"/>
<path d="M297.7,239.81V255.66M294.9,239.81H300.5M294.9,255.66H300.5M338.4,259.54V264.82M335.6,259.54H341.2M335.6,264.82H341.2M379.1,240.78V254.87M376.3,240.78H381.9M376.3,254.87H381.9M419.8,226.08V233.12M417,226.08H422.6M417,233.12H422.6" stroke="#1c1c7c" stroke-width="1.1" opacity="1.0" fill="none"/>
<rect x="255" y="215.45" width="4" height="4" fill="#1c1c7c"/>
<rect x="295.7" y="245.74" width="4" height="4" fill="#1c1c7c"/>
<rect x="336.4" y="260.18" width="4" height="4" fill="#1c1c7c"/>
<rect x="377.1" y="245.83" width="4" height="4" fill="#1c1c7c"/>
<rect x="417.8" y="227.6" width="4" height="4" fill="#1c1c7c"/>
<path d="M257,217.45 L297.7,237.7 L338.4,242.98 L379.1,238.32 L419.8,233.3" fill="none" stroke="#2424e4" stroke-width="1.7"/>
<path d="M297.7,233.3V242.1M294.9,233.3H300.5M294.9,242.1H300.5M338.4,238.58V247.39M335.6,238.58H341.2M335.6,247.39H341.2M379.1,233.03V243.6M376.3,233.03H381.9M376.3,243.6H381.9M419.8,229.78V236.82M417,229.78H422.6M417,236.82H422.6" stroke="#2424e4" stroke-width="1.1" opacity="1.0" fill="none"/>
<path d="M257,214.85 L259.4,219.45 L254.6,219.45 Z" fill="#2424e4"/>
<path d="M297.7,235.1 L300.1,239.7 L295.3,239.7 Z" fill="#2424e4"/>
<path d="M338.4,240.38 L340.8,244.98 L336,244.98 Z" fill="#2424e4"/>
<path d="M379.1,235.72 L381.5,240.32 L376.7,240.32 Z" fill="#2424e4"/>
<path d="M419.8,230.7 L422.2,235.3 L417.4,235.3 Z" fill="#2424e4"/>
<text x="276.5" y="224.6" font-size="8.8"><tspan font-size="5.5" baseline-shift="3">I</tspan><tspan font-style="italic">P</tspan>=0.0179</text>
<text x="321.3" y="232.1" font-size="8.8"><tspan font-size="5.5" baseline-shift="3">I</tspan><tspan font-style="italic">P</tspan>&lt;0.0001</text>
<text x="275.5" y="280.4" font-size="8.8"><tspan font-size="5.5" baseline-shift="3">II</tspan><tspan font-style="italic">P</tspan>=0.0001</text>
<text x="319.3" y="295" font-size="8.8"><tspan font-size="5.5" baseline-shift="3">II</tspan><tspan font-style="italic">P</tspan>&lt;0.0001</text>
<text x="363.2" y="288.5" font-size="8.8"><tspan font-size="5.5" baseline-shift="3">II</tspan><tspan font-style="italic">P</tspan>=0.0006</text>
<line x1="232.8" y1="345.8" x2="245.6" y2="345.8" stroke="#1c1c7c" stroke-width="1.7"/>
<rect x="236.7" y="343.3" width="5" height="5" fill="#1c1c7c"/>
<text x="251" y="349.8" font-size="11.5">IDH1-WT</text>
<line x1="373.4" y1="345.8" x2="388" y2="345.8" stroke="#2424e4" stroke-width="1.7"/>
<path d="M380.7,342.6 L383.8,348.2 L377.6,348.2 Z" fill="#2424e4"/>
<text x="392.5" y="349.8" font-size="11.5">IDH1-4KR</text>
<text x="454" y="169.8" font-size="14" font-weight="bold" fill="#000">f</text>
<line x1="486.5" y1="205" x2="486.5" y2="306.8" stroke="#151515" stroke-width="1.3"/>
<line x1="485.9" y1="306.2" x2="647.1" y2="306.2" stroke="#151515" stroke-width="1.3"/>
<line x1="482.5" y1="306.2" x2="486.5" y2="306.2" stroke="#151515" stroke-width="1.2"/>
<text x="482" y="310.2" font-size="11" text-anchor="end">0</text>
<line x1="482.5" y1="280.9" x2="486.5" y2="280.9" stroke="#151515" stroke-width="1.2"/>
<text x="482" y="284.9" font-size="11" text-anchor="end">10</text>
<line x1="482.5" y1="255.6" x2="486.5" y2="255.6" stroke="#151515" stroke-width="1.2"/>
<text x="482" y="259.6" font-size="11" text-anchor="end">20</text>
<line x1="482.5" y1="230.3" x2="486.5" y2="230.3" stroke="#151515" stroke-width="1.2"/>
<text x="482" y="234.3" font-size="11" text-anchor="end">30</text>
<line x1="482.5" y1="205" x2="486.5" y2="205" stroke="#151515" stroke-width="1.2"/>
<text x="482" y="209" font-size="11" text-anchor="end">40</text>
<line x1="486.5" y1="306.2" x2="486.5" y2="309.7" stroke="#151515" stroke-width="1.2"/>
<text x="486.5" y="322" font-size="11" text-anchor="middle">0</text>
<line x1="526.5" y1="306.2" x2="526.5" y2="309.7" stroke="#151515" stroke-width="1.2"/>
<text x="526.5" y="322" font-size="11" text-anchor="middle">30</text>
<line x1="566.5" y1="306.2" x2="566.5" y2="309.7" stroke="#151515" stroke-width="1.2"/>
<text x="566.5" y="322" font-size="11" text-anchor="middle">60</text>
<line x1="606.5" y1="306.2" x2="606.5" y2="309.7" stroke="#151515" stroke-width="1.2"/>
<text x="606.5" y="322" font-size="11" text-anchor="middle">90</text>
<line x1="646.5" y1="306.2" x2="646.5" y2="309.7" stroke="#151515" stroke-width="1.2"/>
<text x="646.5" y="322" font-size="11" text-anchor="middle">120</text>
<text x="565.3" y="333" font-size="11.5" text-anchor="middle">Time/min</text>
<text x="573" y="177.4" font-size="11.5" text-anchor="middle">IPGTT</text>
<text x="535" y="195.9" font-size="11.5">1.5 g/kg D-glucose</text>
<text transform="translate(452,249.5) rotate(-90)" font-size="11.5" text-anchor="middle">Blood glucose</text>
<text transform="translate(466.8,248.5) rotate(-90)" font-size="11.5" text-anchor="middle">(mmol/L)</text>
<path d="M486.5,292.28 L526.5,256.36 L566.5,272.05 L606.5,284.69 L646.5,290.01" fill="none" stroke="#e64848" stroke-width="1.7"/>
<path d="M486.5,291.53V293.04M483.7,291.53H489.3M483.7,293.04H489.3M526.5,252.56V260.15M523.7,252.56H529.3M523.7,260.15H529.3M566.5,267.49V276.6M563.7,267.49H569.3M563.7,276.6H569.3M606.5,281.66V287.73M603.7,281.66H609.3M603.7,287.73H609.3M646.5,288.49V291.53M643.7,288.49H649.3M643.7,291.53H649.3" stroke="#e64848" stroke-width="1.1" opacity="1.0" fill="none"/>
<circle cx="486.5" cy="292.28" r="1.2" fill="#e64848"/>
<circle cx="526.5" cy="256.36" r="1.2" fill="#e64848"/>
<circle cx="566.5" cy="272.05" r="1.2" fill="#e64848"/>
<circle cx="606.5" cy="284.69" r="1.2" fill="#e64848"/>
<circle cx="646.5" cy="290.01" r="1.2" fill="#e64848"/>
<path d="M486.5,278.37 L526.5,224.48 L566.5,237.13 L606.5,253.58 L646.5,266.73" fill="none" stroke="#a5a5a5" stroke-width="1.7"/>
<path d="M486.5,277.11V279.63M483.7,277.11H489.3M483.7,279.63H489.3M526.5,221.44V227.52M523.7,221.44H529.3M523.7,227.52H529.3M566.5,226.5V247.76M563.7,226.5H569.3M563.7,247.76H569.3M606.5,241.43V265.72M603.7,241.43H609.3M603.7,265.72H609.3M646.5,257.88V275.59M643.7,257.88H649.3M643.7,275.59H649.3" stroke="#a5a5a5" stroke-width="1.1" opacity="1.0" fill="none"/>
<path d="M486.5,275.97 L488.9,278.37 L486.5,280.77 L484.1,278.37 Z" fill="#a5a5a5"/>
<path d="M526.5,222.08 L528.9,224.48 L526.5,226.88 L524.1,224.48 Z" fill="#a5a5a5"/>
<path d="M566.5,234.73 L568.9,237.13 L566.5,239.53 L564.1,237.13 Z" fill="#a5a5a5"/>
<path d="M606.5,251.18 L608.9,253.58 L606.5,255.98 L604.1,253.58 Z" fill="#a5a5a5"/>
<path d="M646.5,264.33 L648.9,266.73 L646.5,269.13 L644.1,266.73 Z" fill="#a5a5a5"/>
<path d="M486.5,282.67 L526.5,233.08 L566.5,248.26 L606.5,256.61 L646.5,271.29" fill="none" stroke="#1c1c7c" stroke-width="1.7"/>
<path d="M486.5,281.66V283.68M483.7,281.66H489.3M483.7,283.68H489.3M526.5,226.76V239.41M523.7,226.76H529.3M523.7,239.41H529.3M566.5,244.72V251.81M563.7,244.72H569.3M563.7,251.81H569.3M606.5,252.82V260.41M603.7,252.82H609.3M603.7,260.41H609.3M646.5,268.25V274.32M643.7,268.25H649.3M643.7,274.32H649.3" stroke="#1c1c7c" stroke-width="1.1" opacity="1.0" fill="none"/>
<rect x="484.5" y="280.67" width="4" height="4" fill="#1c1c7c"/>
<rect x="524.5" y="231.08" width="4" height="4" fill="#1c1c7c"/>
<rect x="564.5" y="246.26" width="4" height="4" fill="#1c1c7c"/>
<rect x="604.5" y="254.61" width="4" height="4" fill="#1c1c7c"/>
<rect x="644.5" y="269.29" width="4" height="4" fill="#1c1c7c"/>
<path d="M486.5,279.63 L526.5,225.24 L566.5,222.2 L606.5,231.82 L646.5,249.78" fill="none" stroke="#2424e4" stroke-width="1.7"/>
<path d="M486.5,278.37V280.9M483.7,278.37H489.3M483.7,280.9H489.3M526.5,222.71V227.77M523.7,222.71H529.3M523.7,227.77H529.3M566.5,220.94V223.47M563.7,220.94H569.3M563.7,223.47H569.3M606.5,224.23V239.41M603.7,224.23H609.3M603.7,239.41H609.3M646.5,239.91V259.65M643.7,239.91H649.3M643.7,259.65H649.3" stroke="#2424e4" stroke-width="1.1" opacity="1.0" fill="none"/>
<path d="M486.5,277.03 L488.9,281.63 L484.1,281.63 Z" fill="#2424e4"/>
<path d="M526.5,222.64 L528.9,227.24 L524.1,227.24 Z" fill="#2424e4"/>
<path d="M566.5,219.6 L568.9,224.2 L564.1,224.2 Z" fill="#2424e4"/>
<path d="M606.5,229.22 L608.9,233.82 L604.1,233.82 Z" fill="#2424e4"/>
<path d="M646.5,247.18 L648.9,251.78 L644.1,251.78 Z" fill="#2424e4"/>
<text x="502.5" y="215.7" font-size="8.8"><tspan font-size="5.5" baseline-shift="3">I</tspan><tspan font-style="italic">P</tspan>=0.0192</text>
<text x="546.2" y="214.9" font-size="8.8"><tspan font-size="5.5" baseline-shift="3">I</tspan><tspan font-style="italic">P</tspan>&lt;0.0001</text>
<text x="589.5" y="216.4" font-size="8.8"><tspan font-size="5.5" baseline-shift="3">I</tspan><tspan font-style="italic">P</tspan>&lt;0.0001</text>
<text x="625.5" y="237.2" font-size="8.8"><tspan font-size="5.5" baseline-shift="3">I</tspan><tspan font-style="italic">P</tspan>&lt;0.0001</text>
<text x="508.7" y="281.2" font-size="8.8"><tspan font-size="5.5" baseline-shift="3">II</tspan><tspan font-style="italic">P</tspan>&lt;0.0001</text>
<text x="552" y="286.9" font-size="8.8"><tspan font-size="5.5" baseline-shift="3">II</tspan><tspan font-style="italic">P</tspan>&lt;0.0001</text>
<text x="588.8" y="302.4" font-size="8.8"><tspan font-size="5.5" baseline-shift="3">II</tspan><tspan font-style="italic">P</tspan>&lt;0.0001</text>
<text x="632.4" y="302.4" font-size="8.8"><tspan font-size="5.5" baseline-shift="3">II</tspan><tspan font-style="italic">P</tspan>&lt;0.0001</text>
<line x1="514.6" y1="345.8" x2="529.2" y2="345.8" stroke="#e64848" stroke-width="1.7"/>
<circle cx="521.9" cy="345.8" r="1.6" fill="#e64848"/>
<text x="533.3" y="349.8" font-size="11.5">IDH1-4KQ</text>
<text x="3" y="374.5" font-size="14" font-weight="bold" fill="#000">g</text>
<text x="60.6" y="385.1" font-size="11.5" text-anchor="middle">Vector</text>
<text x="131.1" y="385.1" font-size="11.5" text-anchor="middle">IDH1- WT</text>
<text x="203.5" y="385.2" font-size="11.5" text-anchor="middle">IDH1- 4KR</text>
<text x="272.8" y="385.2" font-size="11.5" text-anchor="middle">IDH1- 4KQ</text>
<text transform="translate(18.2,429) rotate(-90)" font-size="11.5" text-anchor="middle">Liver</text>
<text transform="translate(17.6,494.6) rotate(-90)" font-size="11.5" text-anchor="middle">H&amp;E</text>
<text transform="translate(18.4,560.9) rotate(-90)" font-size="12.8" text-anchor="middle">Oil red O</text>
<defs><clipPath id="c00"><rect x="30.05" y="398.7" width="65.6" height="62.3"/></clipPath><clipPath id="c01"><rect x="30.05" y="464.4" width="65.6" height="62.2"/></clipPath><clipPath id="c02"><rect x="30.05" y="529.1" width="65.6" height="63.7"/></clipPath><clipPath id="c10"><rect x="100.15" y="398.7" width="65.9" height="62.3"/></clipPath><clipPath id="c11"><rect x="100.15" y="464.4" width="65.9" height="62.2"/></clipPath><clipPath id="c12"><rect x="100.15" y="529.1" width="65.9" height="63.7"/></clipPath><clipPath id="c20"><rect x="170.55" y="398.7" width="65.5" height="62.3"/></clipPath><clipPath id="c21"><rect x="170.55" y="464.4" width="65.5" height="62.2"/></clipPath><clipPath id="c22"><rect x="170.55" y="529.1" width="65.5" height="63.7"/></clipPath><clipPath id="c30"><rect x="241.25" y="398.7" width="65.8" height="62.3"/></clipPath><clipPath id="c31"><rect x="241.25" y="464.4" width="65.8" height="62.2"/></clipPath><clipPath id="c32"><rect x="241.25" y="529.1" width="65.8" height="63.7"/></clipPath><filter id="soft" x="0" y="0" width="100%" height="100%"><feGaussianBlur stdDeviation="0.5"/></filter><filter id="lsoft" x="-10%" y="-10%" width="120%" height="120%"><feGaussianBlur stdDeviation="0.55"/></filter></defs>
<rect x="30.05" y="398.7" width="65.6" height="62.3" fill="#fbfbfd"/>
<rect x="30.8" y="447.8" width="64.1" height="6" fill="#c2cfe2"/>
<path d="M31.3 447.8v6M33.0 447.8v4M34.7 447.8v4M36.4 447.8v4M38.1 447.8v4M39.8 447.8v6M41.5 447.8v4M43.2 447.8v4M44.9 447.8v4M46.6 447.8v4M48.3 447.8v6M50.0 447.8v4M51.7 447.8v4M53.4 447.8v4M55.1 447.8v4M56.8 447.8v6M58.5 447.8v4M60.2 447.8v4M61.9 447.8v4M63.6 447.8v4M65.3 447.8v6M67.0 447.8v4M68.7 447.8v4M70.4 447.8v4M72.1 447.8v4M73.8 447.8v6M75.5 447.8v4M77.2 447.8v4M78.9 447.8v4M80.6 447.8v4M82.3 447.8v6M84.0 447.8v4M85.7 447.8v4M87.4 447.8v4M89.1 447.8v4M90.8 447.8v6M92.5 447.8v4" stroke="#8a9cbc" stroke-width="0.55"/>
<text y="459.2" font-size="5" fill="#5a6a9a"><tspan x="32.3">0cm</tspan><tspan x="44.5">1</tspan><tspan x="56.7">2</tspan><tspan x="69.0">3</tspan><tspan x="81.2">4</tspan><tspan x="93.4">5</tspan></text>
<g filter="url(#lsoft)">
<path d="M58.1,408.7 C59.22,408.92 60.85,410.25 62.2,410.7 C63.55,411.15 64.63,410.83 66.2,411.4 C67.77,411.97 70.03,412.87 71.6,414.1 C73.17,415.33 74.48,417.12 75.6,418.8 C76.72,420.48 77.85,422.3 78.3,424.2 C78.75,426.1 78.75,428.3 78.3,430.2 C77.85,432.1 76.95,434.25 75.6,435.6 C74.25,436.95 72.22,437.63 70.2,438.3 C68.18,438.97 65.52,439.15 63.5,439.6 C61.48,440.05 60.12,440.67 58.1,441 C56.08,441.33 53.63,441.83 51.4,441.6 C49.17,441.37 46.15,440.83 44.7,439.6 C43.25,438.37 42.82,435.98 42.7,434.2 C42.58,432.42 43.88,430.92 44,428.9 C44.12,426.88 43.28,424.12 43.4,422.1 C43.52,420.08 43.92,418.37 44.7,416.8 C45.48,415.23 46.65,413.6 48.1,412.7 C49.55,411.8 52.17,411.95 53.4,411.4 C54.63,410.85 54.72,409.85 55.5,409.4 C56.28,408.95 56.98,408.48 58.1,408.7Z" fill="#b68b74" stroke="#7a4838" stroke-opacity="0.45" stroke-width="1.6"/>
<path d="M57.2 426.1a1.1 1.1 0 1 0 2.3 0a1.1 1.1 0 1 0 -2.3 0zM57.7 425.1a0.9 0.9 0 1 0 1.8 0a0.9 0.9 0 1 0 -1.8 0zM52.0 425.2a0.9 0.9 0 1 0 1.9 0a0.9 0.9 0 1 0 -1.9 0zM64.4 417.3a0.7 0.7 0 1 0 1.4 0a0.7 0.7 0 1 0 -1.4 0zM50.1 430.8a1.0 1.0 0 1 0 2.0 0a1.0 1.0 0 1 0 -2.0 0zM48.9 434.1a1.2 1.2 0 1 0 2.4 0a1.2 1.2 0 1 0 -2.4 0zM61.7 427.2a0.6 0.6 0 1 0 1.2 0a0.6 0.6 0 1 0 -1.2 0zM49.0 425.5a0.5 0.5 0 1 0 1.1 0a0.5 0.5 0 1 0 -1.1 0zM52.6 420.1a0.5 0.5 0 1 0 1.0 0a0.5 0.5 0 1 0 -1.0 0zM57.5 423.8a1.1 1.1 0 1 0 2.2 0a1.1 1.1 0 1 0 -2.2 0zM58.8 427.6a0.8 0.8 0 1 0 1.7 0a0.8 0.8 0 1 0 -1.7 0zM61.8 424.2a0.7 0.7 0 1 0 1.4 0a0.7 0.7 0 1 0 -1.4 0z" fill="#efe0d8" opacity="0.7"/>
<path d="M52,418 Q56.5,422.0 61,416 M56.5,420.0 l1,4" stroke="#6e3a30" stroke-width="1.1" fill="none" opacity="0.8"/>
</g>
<rect x="30.05" y="398.7" width="65.6" height="62.3" fill="none" stroke="#2e2e2e" stroke-width="1.5"/>
<rect x="100.15" y="398.7" width="65.9" height="62.3" fill="#fbfbfd"/>
<rect x="100.9" y="447.8" width="64.4" height="6" fill="#c2cfe2"/>
<path d="M101.4 447.8v6M103.1 447.8v4M104.8 447.8v4M106.5 447.8v4M108.2 447.8v4M109.9 447.8v6M111.6 447.8v4M113.3 447.8v4M115.0 447.8v4M116.7 447.8v4M118.4 447.8v6M120.1 447.8v4M121.8 447.8v4M123.5 447.8v4M125.2 447.8v4M126.9 447.8v6M128.6 447.8v4M130.3 447.8v4M132.0 447.8v4M133.7 447.8v4M135.4 447.8v6M137.1 447.8v4M138.8 447.8v4M140.5 447.8v4M142.2 447.8v4M143.9 447.8v6M145.6 447.8v4M147.3 447.8v4M149.0 447.8v4M150.7 447.8v4M152.4 447.8v6M154.1 447.8v4M155.8 447.8v4M157.5 447.8v4M159.2 447.8v4M160.9 447.8v6M162.6 447.8v4" stroke="#8a9cbc" stroke-width="0.55"/>
<text y="459.2" font-size="5" fill="#5a6a9a"><tspan x="102.4">0cm</tspan><tspan x="114.7">1</tspan><tspan x="127.0">2</tspan><tspan x="139.2">3</tspan><tspan x="151.5">4</tspan><tspan x="163.8">5</tspan></text>
<g filter="url(#lsoft)">
<path d="M131.5,408.7 C132.5,408.47 134.27,408.13 135.5,408.7 C136.73,409.27 138.1,410.42 138.9,412.1 C139.7,413.78 139.63,416.78 140.3,418.8 C140.97,420.82 142.35,422.3 142.9,424.2 C143.45,426.1 143.82,428.42 143.6,430.2 C143.38,431.98 142.83,433.67 141.6,434.9 C140.37,436.13 138.22,436.93 136.2,437.6 C134.18,438.27 131.73,438.68 129.5,438.9 C127.27,439.12 124.93,439.23 122.8,438.9 C120.67,438.57 118.15,438.23 116.7,436.9 C115.25,435.57 114.53,433.02 114.1,430.9 C113.67,428.78 114.45,426 114.1,424.2 C113.75,422.4 112,421.23 112,420.1 C112,418.97 112.87,418.52 114.1,417.4 C115.33,416.28 117.62,414.28 119.4,413.4 C121.18,412.52 123.23,412.22 124.8,412.1 C126.37,411.98 128.02,413.03 128.8,412.7 C129.58,412.37 129.05,410.77 129.5,410.1 C129.95,409.43 130.5,408.93 131.5,408.7Z" fill="#a65c4a" stroke="#7a4838" stroke-opacity="0.45" stroke-width="1.6"/>
<path d="M115,420 Q120,416 125,419 L126,434 Q120,437 116,434 Z" fill="#c89c74" opacity="0.6"/>
<path d="M137.1 432.6a1.1 1.1 0 1 0 2.2 0a1.1 1.1 0 1 0 -2.2 0zM131.7 419.7a0.7 0.7 0 1 0 1.3 0a0.7 0.7 0 1 0 -1.3 0zM123.0 415.0a1.0 1.0 0 1 0 2.1 0a1.0 1.0 0 1 0 -2.1 0zM125.5 429.8a0.8 0.8 0 1 0 1.5 0a0.8 0.8 0 1 0 -1.5 0zM136.9 429.8a0.5 0.5 0 1 0 1.0 0a0.5 0.5 0 1 0 -1.0 0zM121.6 431.0a0.8 0.8 0 1 0 1.7 0a0.8 0.8 0 1 0 -1.7 0zM137.3 421.2a0.6 0.6 0 1 0 1.1 0a0.6 0.6 0 1 0 -1.1 0zM130.1 428.5a0.7 0.7 0 1 0 1.4 0a0.7 0.7 0 1 0 -1.4 0zM118.8 420.0a1.2 1.2 0 1 0 2.3 0a1.2 1.2 0 1 0 -2.3 0zM132.7 415.9a0.7 0.7 0 1 0 1.3 0a0.7 0.7 0 1 0 -1.3 0zM119.2 414.8a1.1 1.1 0 1 0 2.1 0a1.1 1.1 0 1 0 -2.1 0zM121.0 424.3a0.8 0.8 0 1 0 1.6 0a0.8 0.8 0 1 0 -1.6 0z" fill="#efe0d8" opacity="0.7"/>
<path d="M115,421 Q120.0,429.0 125,419 M120.0,427.0 l1,4" stroke="#804038" stroke-width="1.1" fill="none" opacity="0.8"/>
</g>
<rect x="100.15" y="398.7" width="65.9" height="62.3" fill="none" stroke="#2e2e2e" stroke-width="1.5"/>
<rect x="170.55" y="398.7" width="65.5" height="62.3" fill="#fbfbfd"/>
<rect x="171.3" y="447.8" width="64" height="6" fill="#c2cfe2"/>
<path d="M171.8 447.8v6M173.5 447.8v4M175.2 447.8v4M176.9 447.8v4M178.6 447.8v4M180.3 447.8v6M182.0 447.8v4M183.7 447.8v4M185.4 447.8v4M187.1 447.8v4M188.8 447.8v6M190.5 447.8v4M192.2 447.8v4M193.9 447.8v4M195.6 447.8v4M197.3 447.8v6M199.0 447.8v4M200.7 447.8v4M202.4 447.8v4M204.1 447.8v4M205.8 447.8v6M207.5 447.8v4M209.2 447.8v4M210.9 447.8v4M212.6 447.8v4M214.3 447.8v6M216.0 447.8v4M217.7 447.8v4M219.4 447.8v4M221.1 447.8v4M222.8 447.8v6M224.5 447.8v4M226.2 447.8v4M227.9 447.8v4M229.6 447.8v4M231.3 447.8v6M233.0 447.8v4" stroke="#8a9cbc" stroke-width="0.55"/>
<text y="459.2" font-size="5" fill="#5a6a9a"><tspan x="172.8">0cm</tspan><tspan x="185.0">1</tspan><tspan x="197.2">2</tspan><tspan x="209.4">3</tspan><tspan x="221.6">4</tspan><tspan x="233.8">5</tspan></text>
<g filter="url(#lsoft)">
<path d="M204.9,403.1 C206.97,403.03 210.02,403.32 212.2,403.8 C214.38,404.28 216.05,404.9 218,406 C219.95,407.1 222.32,408.57 223.9,410.4 C225.48,412.23 226.77,414.68 227.5,417 C228.23,419.32 228.53,422 228.3,424.3 C228.07,426.6 227.32,428.85 226.1,430.8 C224.88,432.75 223.32,434.65 221,436 C218.68,437.35 215.13,438.42 212.2,438.9 C209.27,439.38 206.08,439.15 203.4,438.9 C200.72,438.65 198.03,438.62 196.1,437.4 C194.17,436.18 193.02,433.78 191.8,431.6 C190.58,429.42 189.42,426.5 188.8,424.3 C188.18,422.1 187.85,420.35 188.1,418.4 C188.35,416.45 189.2,414.42 190.3,412.6 C191.4,410.78 193.12,408.9 194.7,407.5 C196.28,406.1 198.1,404.93 199.8,404.2 C201.5,403.47 202.83,403.17 204.9,403.1Z" fill="#a6623f" stroke="#7a4838" stroke-opacity="0.45" stroke-width="1.6"/>
<path d="M200.7 425.2a0.6 0.6 0 1 0 1.2 0a0.6 0.6 0 1 0 -1.2 0zM209.6 413.5a0.8 0.8 0 1 0 1.6 0a0.8 0.8 0 1 0 -1.6 0zM200.6 416.4a1.2 1.2 0 1 0 2.4 0a1.2 1.2 0 1 0 -2.4 0zM212.4 417.1a1.1 1.1 0 1 0 2.2 0a1.1 1.1 0 1 0 -2.2 0zM200.6 418.8a1.1 1.1 0 1 0 2.2 0a1.1 1.1 0 1 0 -2.2 0zM209.1 413.2a1.2 1.2 0 1 0 2.4 0a1.2 1.2 0 1 0 -2.4 0zM200.7 416.2a1.0 1.0 0 1 0 2.1 0a1.0 1.0 0 1 0 -2.1 0zM203.5 416.9a0.6 0.6 0 1 0 1.1 0a0.6 0.6 0 1 0 -1.1 0zM198.6 422.4a0.7 0.7 0 1 0 1.3 0a0.7 0.7 0 1 0 -1.3 0zM208.7 418.4a0.8 0.8 0 1 0 1.6 0a0.8 0.8 0 1 0 -1.6 0zM215.8 420.5a0.9 0.9 0 1 0 1.8 0a0.9 0.9 0 1 0 -1.8 0zM214.2 414.8a0.6 0.6 0 1 0 1.2 0a0.6 0.6 0 1 0 -1.2 0z" fill="#efe0d8" opacity="0.7"/>
<path d="M200,411 Q205.5,416.5 211,409 M205.5,414.5 l1,4" stroke="#7a3028" stroke-width="1.1" fill="none" opacity="0.8"/>
</g>
<rect x="170.55" y="398.7" width="65.5" height="62.3" fill="none" stroke="#2e2e2e" stroke-width="1.5"/>
<rect x="241.25" y="398.7" width="65.8" height="62.3" fill="#fbfbfd"/>
<rect x="242" y="447.8" width="64.3" height="6" fill="#c2cfe2"/>
<path d="M242.5 447.8v6M244.2 447.8v4M245.9 447.8v4M247.6 447.8v4M249.3 447.8v4M251.0 447.8v6M252.7 447.8v4M254.4 447.8v4M256.1 447.8v4M257.8 447.8v4M259.5 447.8v6M261.2 447.8v4M262.9 447.8v4M264.6 447.8v4M266.3 447.8v4M268.0 447.8v6M269.7 447.8v4M271.4 447.8v4M273.1 447.8v4M274.8 447.8v4M276.5 447.8v6M278.2 447.8v4M279.9 447.8v4M281.6 447.8v4M283.3 447.8v4M285.0 447.8v6M286.7 447.8v4M288.4 447.8v4M290.1 447.8v4M291.8 447.8v4M293.5 447.8v6M295.2 447.8v4M296.9 447.8v4M298.6 447.8v4M300.3 447.8v4M302.0 447.8v6M303.7 447.8v4" stroke="#8a9cbc" stroke-width="0.55"/>
<text y="459.2" font-size="5" fill="#5a6a9a"><tspan x="243.5">0cm</tspan><tspan x="255.8">1</tspan><tspan x="268.0">2</tspan><tspan x="280.3">3</tspan><tspan x="292.5">4</tspan><tspan x="304.8">5</tspan></text>
<g filter="url(#lsoft)">
<path d="M264.3,408.1 C265.53,407.68 267.78,408.7 269.2,408.7 C270.62,408.7 271.58,408.1 272.8,408.1 C274.02,408.1 275.57,407.88 276.5,408.7 C277.43,409.52 277.37,411.97 278.4,413 C279.43,414.03 281.48,413.87 282.7,414.9 C283.92,415.93 285.1,417.47 285.7,419.2 C286.3,420.93 286.4,423.47 286.3,425.3 C286.2,427.13 285.92,428.67 285.1,430.2 C284.28,431.73 283.03,433.58 281.4,434.5 C279.77,435.42 277.33,435.6 275.3,435.7 C273.27,435.8 271.25,435.2 269.2,435.1 C267.15,435 264.75,435.3 263,435.1 C261.25,434.9 259.52,434.82 258.7,433.9 C257.88,432.98 257.88,431.33 258.1,429.6 C258.32,427.87 259.58,425.55 260,423.5 C260.42,421.45 260.3,419.35 260.6,417.3 C260.9,415.25 261.18,412.73 261.8,411.2 C262.42,409.67 263.07,408.52 264.3,408.1Z" fill="#bb8169" stroke="#7a4838" stroke-opacity="0.45" stroke-width="1.6"/>
<path d="M279.1 428.3a0.7 0.7 0 1 0 1.3 0a0.7 0.7 0 1 0 -1.3 0zM264.3 426.8a1.2 1.2 0 1 0 2.3 0a1.2 1.2 0 1 0 -2.3 0zM264.4 430.8a1.1 1.1 0 1 0 2.2 0a1.1 1.1 0 1 0 -2.2 0zM273.1 420.8a0.6 0.6 0 1 0 1.1 0a0.6 0.6 0 1 0 -1.1 0zM261.7 431.1a0.7 0.7 0 1 0 1.3 0a0.7 0.7 0 1 0 -1.3 0zM274.6 417.7a1.1 1.1 0 1 0 2.2 0a1.1 1.1 0 1 0 -2.2 0zM272.9 418.4a0.6 0.6 0 1 0 1.2 0a0.6 0.6 0 1 0 -1.2 0zM275.4 414.1a0.7 0.7 0 1 0 1.3 0a0.7 0.7 0 1 0 -1.3 0zM271.9 429.0a0.9 0.9 0 1 0 1.9 0a0.9 0.9 0 1 0 -1.9 0zM266.6 430.2a0.6 0.6 0 1 0 1.3 0a0.6 0.6 0 1 0 -1.3 0zM261.1 417.9a0.8 0.8 0 1 0 1.6 0a0.8 0.8 0 1 0 -1.6 0zM262.1 416.1a0.8 0.8 0 1 0 1.5 0a0.8 0.8 0 1 0 -1.5 0z" fill="#efe0d8" opacity="0.7"/>
<path d="M268,415 Q271.0,419.0 274,413 M271.0,417.0 l1,4" stroke="#5a2a20" stroke-width="1.1" fill="none" opacity="0.8"/>
</g>
<rect x="241.25" y="398.7" width="65.8" height="62.3" fill="none" stroke="#2e2e2e" stroke-width="1.5"/>
<g clip-path="url(#c01)"><g filter="url(#soft)"><rect x="29.3" y="464.4" width="67.1" height="62.2" fill="#de86d6"/><path d="M67.7 472.6h1.0v1.0h-1.0zM53.6 519.8h1.0v1.0h-1.0zM95.1 505.3h1.0v1.0h-1.0zM75.7 500.8h1.0v1.0h-1.0zM38.7 466.6h1.0v1.0h-1.0zM30.5 521.0h1.0v1.0h-1.0zM76.3 524.3h1.0v1.0h-1.0zM30.7 504.0h1.0v1.0h-1.0zM61.7 509.8h1.0v1.0h-1.0zM50.7 526.6h1.0v1.0h-1.0zM34.4 498.4h1.0v1.0h-1.0zM78.8 520.4h1.0v1.0h-1.0zM78.8 508.2h1.0v1.0h-1.0zM82.5 521.3h1.0v1.0h-1.0zM52.9 507.0h1.0v1.0h-1.0zM89.7 518.6h1.0v1.0h-1.0zM57.3 513.6h1.0v1.0h-1.0zM87.2 500.0h1.0v1.0h-1.0zM71.2 488.2h1.0v1.0h-1.0zM68.4 502.3h1.0v1.0h-1.0zM34.7 504.2h1.0v1.0h-1.0zM96.0 519.1h1.0v1.0h-1.0zM78.2 488.6h1.0v1.0h-1.0zM78.6 500.5h1.0v1.0h-1.0zM58.9 516.5h1.0v1.0h-1.0zM34.9 511.1h1.0v1.0h-1.0zM31.3 501.8h1.0v1.0h-1.0zM61.6 478.7h1.0v1.0h-1.0zM76.2 495.3h1.0v1.0h-1.0zM70.5 521.7h1.0v1.0h-1.0zM46.5 465.1h1.0v1.0h-1.0zM49.5 506.6h1.0v1.0h-1.0zM42.9 474.9h1.0v1.0h-1.0zM90.1 505.5h1.0v1.0h-1.0zM59.0 519.9h1.0v1.0h-1.0zM51.2 505.8h1.0v1.0h-1.0zM42.6 491.2h1.0v1.0h-1.0zM83.4 521.3h1.0v1.0h-1.0zM88.4 488.3h1.0v1.0h-1.0zM68.4 484.1h1.0v1.0h-1.0zM38.4 495.3h1.0v1.0h-1.0zM85.5 517.2h1.0v1.0h-1.0zM77.0 523.5h1.0v1.0h-1.0zM47.9 474.9h1.0v1.0h-1.0zM59.5 481.5h1.0v1.0h-1.0zM43.7 490.1h1.0v1.0h-1.0zM71.3 495.1h1.0v1.0h-1.0zM50.5 516.6h1.0v1.0h-1.0zM95.2 492.5h1.0v1.0h-1.0zM34.3 466.4h1.0v1.0h-1.0zM87.9 467.0h1.0v1.0h-1.0zM76.8 499.9h1.0v1.0h-1.0zM50.0 513.6h1.0v1.0h-1.0zM30.6 472.9h1.0v1.0h-1.0zM59.8 465.9h1.0v1.0h-1.0zM85.0 479.2h1.0v1.0h-1.0zM38.8 467.3h1.0v1.0h-1.0zM71.5 492.2h1.0v1.0h-1.0zM71.6 505.1h1.0v1.0h-1.0zM83.5 524.0h1.0v1.0h-1.0zM75.2 476.8h1.0v1.0h-1.0zM61.2 475.5h1.0v1.0h-1.0zM30.0 493.8h1.0v1.0h-1.0zM77.2 475.5h1.0v1.0h-1.0zM47.6 485.9h1.0v1.0h-1.0zM76.1 496.8h1.0v1.0h-1.0zM70.5 511.4h1.0v1.0h-1.0zM55.7 513.7h1.0v1.0h-1.0zM90.1 469.8h1.0v1.0h-1.0zM91.9 509.3h1.0v1.0h-1.0zM38.0 492.6h1.0v1.0h-1.0zM71.3 521.0h1.0v1.0h-1.0zM54.6 499.8h1.0v1.0h-1.0zM88.3 514.0h1.0v1.0h-1.0zM92.7 493.2h1.0v1.0h-1.0zM73.0 477.1h1.0v1.0h-1.0zM77.7 515.3h1.0v1.0h-1.0zM72.4 509.0h1.0v1.0h-1.0zM43.6 520.4h1.0v1.0h-1.0zM95.1 525.2h1.0v1.0h-1.0zM65.3 513.6h1.0v1.0h-1.0zM50.8 521.0h1.0v1.0h-1.0zM86.7 486.1h1.0v1.0h-1.0zM34.9 491.8h1.0v1.0h-1.0zM66.2 512.2h1.0v1.0h-1.0zM62.0 466.2h1.0v1.0h-1.0zM83.6 468.4h1.0v1.0h-1.0zM83.0 475.2h1.0v1.0h-1.0zM51.8 513.4h1.0v1.0h-1.0zM38.7 473.6h1.0v1.0h-1.0zM64.0 509.4h1.0v1.0h-1.0zM85.7 507.3h1.0v1.0h-1.0zM92.8 495.0h1.0v1.0h-1.0zM93.0 469.8h1.0v1.0h-1.0zM44.2 497.2h1.0v1.0h-1.0zM48.8 509.7h1.0v1.0h-1.0zM72.2 496.9h1.0v1.0h-1.0zM85.9 499.2h1.0v1.0h-1.0zM50.2 488.1h1.0v1.0h-1.0zM86.0 520.4h1.0v1.0h-1.0zM43.3 517.3h1.0v1.0h-1.0zM94.3 497.0h1.0v1.0h-1.0zM67.7 476.9h1.0v1.0h-1.0zM65.3 495.7h1.0v1.0h-1.0zM69.9 466.1h1.0v1.0h-1.0zM94.3 496.5h1.0v1.0h-1.0zM56.2 514.2h1.0v1.0h-1.0zM67.1 494.9h1.0v1.0h-1.0zM75.7 468.5h1.0v1.0h-1.0zM65.4 490.1h1.0v1.0h-1.0zM93.5 521.8h1.0v1.0h-1.0zM47.4 493.8h1.0v1.0h-1.0zM37.8 491.4h1.0v1.0h-1.0zM84.0 520.4h1.0v1.0h-1.0zM61.3 484.1h1.0v1.0h-1.0zM42.1 502.8h1.0v1.0h-1.0zM91.4 472.5h1.0v1.0h-1.0zM81.6 465.8h1.0v1.0h-1.0zM42.3 478.5h1.0v1.0h-1.0zM75.4 484.4h1.0v1.0h-1.0zM53.1 502.9h1.0v1.0h-1.0zM36.3 509.9h1.0v1.0h-1.0zM37.5 496.2h1.0v1.0h-1.0zM46.1 476.7h1.0v1.0h-1.0zM64.9 491.6h1.0v1.0h-1.0zM54.5 490.1h1.0v1.0h-1.0zM64.8 474.3h1.0v1.0h-1.0zM43.0 503.7h1.0v1.0h-1.0zM72.1 497.3h1.0v1.0h-1.0zM86.4 502.4h1.0v1.0h-1.0zM86.8 478.9h1.0v1.0h-1.0zM79.0 514.8h1.0v1.0h-1.0zM89.9 484.0h1.0v1.0h-1.0zM50.4 521.8h1.0v1.0h-1.0zM43.9 526.5h1.0v1.0h-1.0zM88.9 472.7h1.0v1.0h-1.0zM45.4 509.6h1.0v1.0h-1.0zM46.7 470.4h1.0v1.0h-1.0zM85.1 490.6h1.0v1.0h-1.0zM82.3 472.2h1.0v1.0h-1.0zM56.3 507.0h1.0v1.0h-1.0zM30.5 476.9h1.0v1.0h-1.0zM75.1 521.1h1.0v1.0h-1.0zM94.3 471.6h1.0v1.0h-1.0zM63.2 511.6h1.0v1.0h-1.0zM63.0 507.0h1.0v1.0h-1.0zM42.0 468.8h1.0v1.0h-1.0zM36.4 466.7h1.0v1.0h-1.0zM66.3 496.4h1.0v1.0h-1.0zM67.5 473.5h1.0v1.0h-1.0zM41.7 477.1h1.0v1.0h-1.0zM85.7 526.0h1.0v1.0h-1.0zM91.5 470.3h1.0v1.0h-1.0zM33.5 523.6h1.0v1.0h-1.0zM60.3 512.0h1.0v1.0h-1.0zM51.2 493.4h1.0v1.0h-1.0zM63.9 491.2h1.0v1.0h-1.0zM69.6 465.2h1.0v1.0h-1.0zM76.3 516.9h1.0v1.0h-1.0zM41.5 492.6h1.0v1.0h-1.0zM78.9 489.6h1.0v1.0h-1.0zM42.4 474.7h1.0v1.0h-1.0zM63.7 465.4h1.0v1.0h-1.0zM89.2 514.3h1.0v1.0h-1.0zM76.6 517.9h1.0v1.0h-1.0zM71.5 489.6h1.0v1.0h-1.0zM69.5 495.8h1.0v1.0h-1.0zM95.2 514.5h1.0v1.0h-1.0zM46.6 521.1h1.0v1.0h-1.0zM79.3 512.8h1.0v1.0h-1.0zM84.0 489.6h1.0v1.0h-1.0zM89.5 519.1h1.0v1.0h-1.0zM75.9 512.1h1.0v1.0h-1.0zM80.6 489.6h1.0v1.0h-1.0zM77.8 468.8h1.0v1.0h-1.0zM52.2 493.6h1.0v1.0h-1.0zM30.0 486.5h1.0v1.0h-1.0zM72.2 503.2h1.0v1.0h-1.0zM44.9 523.2h1.0v1.0h-1.0zM74.0 485.4h1.0v1.0h-1.0zM73.6 499.8h1.0v1.0h-1.0zM65.1 488.6h1.0v1.0h-1.0zM96.4 504.3h1.0v1.0h-1.0zM76.4 511.8h1.0v1.0h-1.0zM95.1 465.8h1.0v1.0h-1.0zM70.6 510.4h1.0v1.0h-1.0zM46.5 489.4h1.0v1.0h-1.0zM32.7 476.6h1.0v1.0h-1.0zM54.5 470.5h1.0v1.0h-1.0zM46.1 520.7h1.0v1.0h-1.0zM66.2 496.0h1.0v1.0h-1.0zM94.2 499.7h1.0v1.0h-1.0zM96.1 504.1h1.0v1.0h-1.0zM83.6 469.1h1.0v1.0h-1.0zM69.4 511.6h1.0v1.0h-1.0zM32.3 522.3h1.0v1.0h-1.0zM40.0 493.7h1.0v1.0h-1.0zM40.6 495.2h1.0v1.0h-1.0zM70.3 468.0h1.0v1.0h-1.0zM92.7 490.6h1.0v1.0h-1.0zM64.6 501.6h1.0v1.0h-1.0zM53.8 482.2h1.0v1.0h-1.0zM73.3 499.3h1.0v1.0h-1.0zM48.3 509.0h1.0v1.0h-1.0zM49.2 465.3h1.0v1.0h-1.0zM45.7 467.1h1.0v1.0h-1.0zM39.8 511.3h1.0v1.0h-1.0zM55.5 520.2h1.0v1.0h-1.0zM79.5 467.5h1.0v1.0h-1.0zM95.6 523.1h1.0v1.0h-1.0zM34.2 520.7h1.0v1.0h-1.0zM58.1 494.1h1.0v1.0h-1.0zM94.6 479.6h1.0v1.0h-1.0zM64.4 522.7h1.0v1.0h-1.0zM77.8 493.5h1.0v1.0h-1.0zM95.0 515.2h1.0v1.0h-1.0zM69.8 471.6h1.0v1.0h-1.0zM71.2 492.7h1.0v1.0h-1.0zM43.0 467.6h1.0v1.0h-1.0zM64.7 472.1h1.0v1.0h-1.0zM59.0 505.9h1.0v1.0h-1.0zM59.9 480.7h1.0v1.0h-1.0zM68.4 490.5h1.0v1.0h-1.0zM81.5 497.4h1.0v1.0h-1.0zM96.2 523.7h1.0v1.0h-1.0zM78.6 479.2h1.0v1.0h-1.0zM36.9 519.9h1.0v1.0h-1.0zM81.9 503.3h1.0v1.0h-1.0zM53.4 481.3h1.0v1.0h-1.0zM75.3 499.5h1.0v1.0h-1.0zM69.0 503.8h1.0v1.0h-1.0zM79.8 476.2h1.0v1.0h-1.0zM46.0 525.3h1.0v1.0h-1.0zM90.7 519.1h1.0v1.0h-1.0zM32.0 468.2h1.0v1.0h-1.0zM47.5 490.8h1.0v1.0h-1.0zM71.1 470.8h1.0v1.0h-1.0zM65.6 468.9h1.0v1.0h-1.0zM35.1 506.5h1.0v1.0h-1.0zM66.2 503.7h1.0v1.0h-1.0zM54.3 494.2h1.0v1.0h-1.0zM43.4 485.8h1.0v1.0h-1.0zM79.3 516.6h1.0v1.0h-1.0zM34.3 471.9h1.0v1.0h-1.0zM83.6 503.2h1.0v1.0h-1.0zM80.9 477.7h1.0v1.0h-1.0zM57.8 480.5h1.0v1.0h-1.0zM83.6 487.3h1.0v1.0h-1.0zM73.2 525.9h1.0v1.0h-1.0zM51.1 498.5h1.0v1.0h-1.0zM79.4 521.7h1.0v1.0h-1.0zM58.0 487.4h1.0v1.0h-1.0zM35.8 518.8h1.0v1.0h-1.0zM34.6 469.6h1.0v1.0h-1.0zM67.2 494.6h1.0v1.0h-1.0zM75.3 483.0h1.0v1.0h-1.0zM81.3 469.1h1.0v1.0h-1.0zM43.6 505.6h1.0v1.0h-1.0zM34.8 483.3h1.0v1.0h-1.0zM77.9 507.6h1.0v1.0h-1.0zM48.3 473.3h1.0v1.0h-1.0zM53.3 509.6h1.0v1.0h-1.0zM53.9 471.7h1.0v1.0h-1.0zM76.9 499.8h1.0v1.0h-1.0zM90.9 522.9h1.0v1.0h-1.0zM90.6 491.6h1.0v1.0h-1.0zM83.2 483.4h1.0v1.0h-1.0zM50.6 489.3h1.0v1.0h-1.0zM92.0 520.1h1.0v1.0h-1.0zM46.0 486.9h1.0v1.0h-1.0zM53.8 487.0h1.0v1.0h-1.0zM55.8 488.5h1.0v1.0h-1.0zM42.4 499.5h1.0v1.0h-1.0zM82.8 498.0h1.0v1.0h-1.0zM85.4 499.4h1.0v1.0h-1.0zM41.1 511.6h1.0v1.0h-1.0zM88.4 481.9h1.0v1.0h-1.0zM30.8 496.5h1.0v1.0h-1.0zM65.8 499.7h1.0v1.0h-1.0zM94.1 504.9h1.0v1.0h-1.0zM83.3 468.4h1.0v1.0h-1.0zM66.0 513.4h1.0v1.0h-1.0zM34.9 469.5h1.0v1.0h-1.0zM78.8 520.3h1.0v1.0h-1.0zM35.0 503.8h1.0v1.0h-1.0zM39.0 510.8h1.0v1.0h-1.0zM72.8 479.7h1.0v1.0h-1.0zM44.1 512.0h1.0v1.0h-1.0zM64.3 512.0h1.0v1.0h-1.0zM55.8 485.4h1.0v1.0h-1.0zM94.3 506.2h1.0v1.0h-1.0zM62.4 497.8h1.0v1.0h-1.0zM77.7 508.4h1.0v1.0h-1.0zM90.7 489.9h1.0v1.0h-1.0zM84.7 505.9h1.0v1.0h-1.0zM86.6 514.5h1.0v1.0h-1.0zM85.2 519.7h1.0v1.0h-1.0zM93.6 504.2h1.0v1.0h-1.0zM64.5 508.6h1.0v1.0h-1.0zM83.1 490.6h1.0v1.0h-1.0z" fill="#f0bcec" opacity="0.8"/><path d="M68.5 521.0h0M61.7 478.1h0M57.3 521.4h0M50.2 483.7h0M53.4 507.1h0M85.0 505.1h0M67.2 492.9h0M51.6 515.8h0M85.5 501.3h0M51.5 490.0h0M71.4 476.7h0M66.1 469.1h0M63.0 489.1h0M67.3 520.6h0M49.4 484.6h0M53.2 500.8h0" stroke="#eccaec" stroke-width="3.6" stroke-linecap="round" fill="none"/><path d="M95.8 487.8h0M43.0 490.8h0M94.4 468.1h0M36.6 475.9h0M44.3 475.9h0M40.9 511.5h0M64.7 496.5h0M95.7 505.3h0M39.9 474.2h0M72.0 526.2h0M84.5 469.5h0M54.6 508.6h0M95.8 514.1h0M55.6 505.9h0M42.7 509.9h0M44.5 474.2h0M66.9 499.3h0M48.7 520.2h0M67.8 516.1h0M83.2 465.4h0M47.0 499.7h0M75.9 497.1h0M49.9 489.0h0M93.1 464.4h0M31.4 520.3h0M61.0 477.2h0M91.2 520.2h0" stroke="#eccaec" stroke-width="4.0" stroke-linecap="round" fill="none"/><path d="M41.3 468.3h0M66.1 515.2h0M92.9 514.2h0M30.0 493.8h0M46.7 518.5h0M77.4 470.4h0M84.7 477.4h0M70.6 482.5h0M65.5 482.9h0M76.8 475.6h0M80.8 515.5h0M30.5 485.0h0M73.0 471.0h0M89.9 498.5h0M51.4 522.2h0M38.4 520.6h0M60.7 473.3h0M67.5 475.2h0M86.7 489.8h0M67.3 520.7h0M34.0 472.1h0M74.0 518.3h0M82.5 472.1h0M89.4 515.1h0" stroke="#eccaec" stroke-width="4.4" stroke-linecap="round" fill="none"/><path d="M57.5 473.5h0M37.0 504.7h0M45.1 509.0h0M82.8 508.8h0M65.2 473.8h0M60.7 523.8h0M49.8 493.5h0M92.7 499.4h0M38.7 470.3h0M58.0 496.2h0M82.3 505.5h0M70.3 474.2h0M62.9 473.2h0M95.5 496.5h0M45.7 500.3h0M73.5 483.5h0M78.8 488.1h0M72.4 466.8h0M39.0 524.1h0M60.8 490.0h0M75.6 511.5h0M50.8 467.8h0M89.7 509.9h0M79.8 483.4h0M83.3 478.2h0" stroke="#eccaec" stroke-width="4.8" stroke-linecap="round" fill="none"/><path d="M46.8 519.6h0M52.3 498.4h0M29.4 515.5h0M86.8 483.3h0M64.6 474.2h0M55.8 493.1h0M56.6 468.9h0M56.2 507.9h0M63.5 513.4h0M85.4 476.7h0M60.4 472.1h0M90.3 526.1h0M69.7 472.0h0M41.4 525.8h0M61.9 526.3h0M64.5 491.3h0M33.9 521.1h0M62.7 522.5h0" stroke="#eccaec" stroke-width="5.2" stroke-linecap="round" fill="none"/><path d="M42.9 503.7h0M88.4 467.5h0M87.6 508.8h0M77.0 476.6h0M46.1 514.4h0M48.4 511.4h0M48.0 498.5h0M89.5 525.8h0M91.7 495.5h0M64.2 523.6h0M82.1 513.6h0M41.4 473.8h0M46.9 514.1h0M82.4 479.2h0M40.8 480.3h0M43.8 524.8h0M57.8 469.2h0M43.8 486.0h0M66.2 474.6h0M47.7 465.6h0M81.0 496.7h0M55.7 479.2h0M39.4 501.4h0M78.0 505.8h0M43.8 466.9h0M45.0 503.7h0M58.0 488.8h0M33.5 489.6h0M51.1 480.2h0M46.9 506.0h0M90.3 466.8h0M94.9 473.7h0M44.6 506.7h0M94.0 515.7h0M65.1 479.1h0M37.8 468.3h0M36.2 508.2h0M74.2 478.8h0M91.9 525.9h0M77.2 471.8h0M37.4 484.9h0M39.2 475.3h0M37.4 484.5h0M53.8 480.5h0M41.1 466.1h0" stroke="#fbf0fb" stroke-width="0.8" stroke-linecap="round" fill="none"/><path d="M85.5 486.4h0M76.0 522.7h0M34.6 478.3h0M68.9 478.6h0M91.5 505.9h0M58.8 497.3h0M32.3 501.7h0M60.3 511.1h0M66.6 504.5h0M73.5 513.1h0M63.2 517.0h0M81.6 474.7h0M62.1 478.2h0M62.8 466.6h0M62.6 491.4h0M90.2 499.8h0M50.2 467.0h0M71.0 497.1h0M33.4 489.9h0M39.0 492.7h0M38.8 488.8h0M96.1 511.9h0M44.7 480.1h0M70.3 466.9h0M72.9 468.0h0M75.9 518.2h0M88.8 493.2h0M43.7 493.5h0M59.3 526.2h0M87.2 477.1h0M34.2 507.4h0M77.3 481.1h0M39.6 522.7h0M30.7 484.4h0M34.9 519.3h0M50.3 490.8h0M38.4 508.4h0M43.0 481.8h0M44.5 482.6h0M94.8 482.9h0M91.0 477.8h0M55.0 484.8h0M48.1 474.3h0M61.2 474.8h0M45.4 470.2h0M57.6 473.8h0M76.4 498.8h0M30.8 488.7h0M62.6 500.8h0M52.6 519.9h0M81.1 503.4h0M56.9 490.2h0M85.0 519.1h0M63.3 483.6h0M29.4 498.2h0M45.4 495.1h0M66.1 503.2h0M85.1 524.7h0M52.6 519.5h0M77.3 507.7h0M71.0 494.9h0M54.1 482.2h0M51.1 475.5h0M59.6 512.4h0M32.9 480.2h0M82.7 488.8h0M46.2 508.9h0M84.9 499.7h0M83.1 472.2h0M94.4 472.7h0M57.4 503.7h0M65.7 494.4h0M48.3 488.8h0M80.7 525.4h0M91.9 480.0h0M67.3 473.3h0M47.7 478.6h0M33.6 519.9h0M34.6 475.8h0M55.9 468.0h0M73.4 503.2h0M59.0 516.3h0M37.3 469.0h0M79.9 483.7h0" stroke="#fbf0fb" stroke-width="1.2" stroke-linecap="round" fill="none"/><path d="M40.8 519.1h0M78.0 483.9h0M45.1 505.7h0M54.3 505.6h0M72.2 470.0h0M45.1 491.8h0M77.3 500.0h0M68.8 469.9h0M75.6 516.1h0M62.1 511.8h0M31.9 479.4h0M45.5 493.1h0M53.7 485.4h0M85.9 488.1h0M46.9 488.8h0M80.7 509.4h0M56.5 488.4h0M71.6 499.6h0M74.0 523.8h0M60.8 502.7h0M53.6 500.2h0M40.2 518.3h0M51.7 511.6h0M76.7 503.2h0M30.2 500.8h0M48.5 509.9h0M50.0 514.2h0M75.9 498.4h0M96.2 477.0h0M61.8 490.2h0M92.3 518.2h0" stroke="#fbf0fb" stroke-width="1.6" stroke-linecap="round" fill="none"/><path d="M82.5 510.1h0M56.3 508.3h0M44.5 488.6h0M73.4 514.8h0M72.1 486.4h0" stroke="#fdf8fd" stroke-width="2.4" stroke-linecap="round" fill="none"/><path d="M30.0 497.2h0M83.2 515.9h0M90.3 465.9h0" stroke="#fdf8fd" stroke-width="2.8" stroke-linecap="round" fill="none"/><path d="M30.0 477.5h0M95.5 470.7h0" stroke="#fdf8fd" stroke-width="3.2" stroke-linecap="round" fill="none"/><path d="M90.0 484.4h1.3v1.3h-1.3zM35.6 485.2h1.3v1.3h-1.3zM79.1 477.5h1.3v1.3h-1.3zM79.2 498.4h1.3v1.3h-1.3zM74.9 475.4h1.3v1.3h-1.3zM36.4 473.3h1.3v1.3h-1.3zM52.8 491.2h1.3v1.3h-1.3zM29.9 495.7h1.3v1.3h-1.3zM56.4 484.4h1.3v1.3h-1.3zM65.3 523.6h1.3v1.3h-1.3zM43.0 519.2h1.3v1.3h-1.3zM50.8 511.3h1.3v1.3h-1.3zM36.6 525.8h1.3v1.3h-1.3zM58.2 524.3h1.3v1.3h-1.3zM44.0 489.8h1.3v1.3h-1.3zM76.7 475.5h1.3v1.3h-1.3zM47.6 506.5h1.3v1.3h-1.3zM92.9 484.4h1.3v1.3h-1.3zM41.6 486.6h1.3v1.3h-1.3zM95.7 473.6h1.3v1.3h-1.3zM71.9 487.9h1.3v1.3h-1.3zM72.5 477.6h1.3v1.3h-1.3zM70.7 519.6h1.3v1.3h-1.3zM86.8 503.5h1.3v1.3h-1.3zM63.2 499.7h1.3v1.3h-1.3zM37.0 516.5h1.3v1.3h-1.3zM75.6 492.6h1.3v1.3h-1.3zM74.0 490.5h1.3v1.3h-1.3zM55.1 478.7h1.3v1.3h-1.3zM69.6 500.0h1.3v1.3h-1.3zM63.9 466.4h1.3v1.3h-1.3zM71.4 492.2h1.3v1.3h-1.3zM69.1 501.4h1.3v1.3h-1.3zM91.8 473.8h1.3v1.3h-1.3zM60.7 526.2h1.3v1.3h-1.3zM78.8 483.9h1.3v1.3h-1.3zM78.7 525.9h1.3v1.3h-1.3zM56.3 518.4h1.3v1.3h-1.3zM37.8 526.0h1.3v1.3h-1.3zM62.3 479.0h1.3v1.3h-1.3zM85.7 504.8h1.3v1.3h-1.3zM92.2 516.0h1.3v1.3h-1.3zM82.8 496.2h1.3v1.3h-1.3zM96.0 468.4h1.3v1.3h-1.3zM87.7 508.7h1.3v1.3h-1.3zM46.1 514.6h1.3v1.3h-1.3zM59.8 497.8h1.3v1.3h-1.3zM87.4 476.6h1.3v1.3h-1.3zM48.1 504.4h1.3v1.3h-1.3zM34.2 498.9h1.3v1.3h-1.3zM82.1 494.9h1.3v1.3h-1.3zM45.5 514.2h1.3v1.3h-1.3zM86.7 512.3h1.3v1.3h-1.3zM66.2 520.7h1.3v1.3h-1.3zM82.8 473.8h1.3v1.3h-1.3zM53.8 470.6h1.3v1.3h-1.3zM31.8 485.9h1.3v1.3h-1.3zM87.3 516.3h1.3v1.3h-1.3zM37.2 475.7h1.3v1.3h-1.3zM55.4 517.2h1.3v1.3h-1.3zM70.7 520.5h1.3v1.3h-1.3zM34.1 525.8h1.3v1.3h-1.3zM43.2 503.5h1.3v1.3h-1.3zM88.1 509.7h1.3v1.3h-1.3zM42.5 506.0h1.3v1.3h-1.3zM58.2 465.4h1.3v1.3h-1.3zM52.1 484.0h1.3v1.3h-1.3zM71.6 481.7h1.3v1.3h-1.3zM69.8 507.6h1.3v1.3h-1.3zM41.4 472.4h1.3v1.3h-1.3zM75.9 493.4h1.3v1.3h-1.3zM38.0 471.6h1.3v1.3h-1.3zM92.4 502.3h1.3v1.3h-1.3zM53.3 476.6h1.3v1.3h-1.3zM96.1 507.4h1.3v1.3h-1.3zM78.7 486.8h1.3v1.3h-1.3zM50.1 489.8h1.3v1.3h-1.3zM39.1 503.7h1.3v1.3h-1.3zM57.8 515.4h1.3v1.3h-1.3zM56.7 492.8h1.3v1.3h-1.3zM63.3 523.0h1.3v1.3h-1.3zM52.5 508.2h1.3v1.3h-1.3zM45.1 500.4h1.3v1.3h-1.3zM48.4 518.7h1.3v1.3h-1.3zM48.5 517.5h1.3v1.3h-1.3zM74.7 492.7h1.3v1.3h-1.3zM92.0 488.5h1.3v1.3h-1.3zM79.2 501.8h1.3v1.3h-1.3zM59.4 468.4h1.3v1.3h-1.3zM57.4 481.9h1.3v1.3h-1.3zM58.9 523.8h1.3v1.3h-1.3zM49.0 507.6h1.3v1.3h-1.3zM74.4 479.6h1.3v1.3h-1.3zM56.9 472.6h1.3v1.3h-1.3zM89.4 480.1h1.3v1.3h-1.3zM57.5 485.6h1.3v1.3h-1.3zM84.4 517.3h1.3v1.3h-1.3zM68.9 498.4h1.3v1.3h-1.3zM36.0 520.2h1.3v1.3h-1.3zM35.2 487.0h1.3v1.3h-1.3zM54.4 509.4h1.3v1.3h-1.3zM74.2 485.8h1.3v1.3h-1.3zM89.5 523.5h1.3v1.3h-1.3zM30.9 503.8h1.3v1.3h-1.3zM60.8 486.9h1.3v1.3h-1.3zM60.5 484.1h1.3v1.3h-1.3zM74.3 502.1h1.3v1.3h-1.3zM94.4 525.1h1.3v1.3h-1.3zM95.9 489.0h1.3v1.3h-1.3zM84.9 504.8h1.3v1.3h-1.3zM76.3 526.5h1.3v1.3h-1.3zM33.8 493.2h1.3v1.3h-1.3zM56.2 505.2h1.3v1.3h-1.3zM43.9 526.0h1.3v1.3h-1.3zM43.4 487.4h1.3v1.3h-1.3zM38.9 488.9h1.3v1.3h-1.3zM79.1 469.6h1.3v1.3h-1.3zM40.5 504.8h1.3v1.3h-1.3zM71.1 510.6h1.3v1.3h-1.3zM46.3 514.9h1.3v1.3h-1.3zM78.3 512.7h1.3v1.3h-1.3zM37.3 493.6h1.3v1.3h-1.3zM30.4 517.9h1.3v1.3h-1.3zM92.7 520.1h1.3v1.3h-1.3zM30.9 486.2h1.3v1.3h-1.3zM65.3 497.6h1.3v1.3h-1.3zM36.8 513.5h1.3v1.3h-1.3zM49.5 496.0h1.3v1.3h-1.3zM37.7 499.7h1.3v1.3h-1.3zM38.0 469.9h1.3v1.3h-1.3zM63.7 482.7h1.3v1.3h-1.3zM81.5 479.7h1.3v1.3h-1.3zM57.1 467.8h1.3v1.3h-1.3zM43.9 492.5h1.3v1.3h-1.3zM66.7 493.0h1.3v1.3h-1.3zM86.4 470.9h1.3v1.3h-1.3zM86.3 474.0h1.3v1.3h-1.3zM94.4 497.1h1.3v1.3h-1.3zM56.6 502.5h1.3v1.3h-1.3zM87.3 524.3h1.3v1.3h-1.3zM57.0 465.1h1.3v1.3h-1.3zM39.6 515.3h1.3v1.3h-1.3zM78.6 508.7h1.3v1.3h-1.3zM39.8 497.4h1.3v1.3h-1.3zM31.2 471.3h1.3v1.3h-1.3zM49.5 524.5h1.3v1.3h-1.3zM72.4 517.1h1.3v1.3h-1.3zM32.4 490.3h1.3v1.3h-1.3zM34.6 480.6h1.3v1.3h-1.3zM36.8 521.6h1.3v1.3h-1.3z" fill="#7e52b4" opacity="0.7"/></g></g>
<rect x="30.05" y="464.4" width="65.6" height="62.2" fill="none" stroke="#2a2a2a" stroke-width="1.5"/>
<g clip-path="url(#c11)"><g filter="url(#soft)"><rect x="99.4" y="464.4" width="67.4" height="62.2" fill="#de86d6"/><path d="M121.6 494.8h1.0v1.0h-1.0zM143.5 519.6h1.0v1.0h-1.0zM163.2 499.7h1.0v1.0h-1.0zM133.2 520.6h1.0v1.0h-1.0zM126.0 483.0h1.0v1.0h-1.0zM149.2 480.5h1.0v1.0h-1.0zM124.2 491.1h1.0v1.0h-1.0zM131.5 486.7h1.0v1.0h-1.0zM128.4 492.4h1.0v1.0h-1.0zM102.7 516.4h1.0v1.0h-1.0zM103.6 497.2h1.0v1.0h-1.0zM136.3 489.3h1.0v1.0h-1.0zM114.4 470.6h1.0v1.0h-1.0zM124.5 484.0h1.0v1.0h-1.0zM132.0 478.7h1.0v1.0h-1.0zM149.9 494.7h1.0v1.0h-1.0zM100.0 489.7h1.0v1.0h-1.0zM164.5 464.8h1.0v1.0h-1.0zM139.4 524.2h1.0v1.0h-1.0zM124.0 501.6h1.0v1.0h-1.0zM124.3 483.1h1.0v1.0h-1.0zM140.5 501.1h1.0v1.0h-1.0zM120.6 495.4h1.0v1.0h-1.0zM134.2 511.3h1.0v1.0h-1.0zM103.0 470.2h1.0v1.0h-1.0zM116.4 481.2h1.0v1.0h-1.0zM153.0 490.9h1.0v1.0h-1.0zM157.4 489.4h1.0v1.0h-1.0zM118.7 506.7h1.0v1.0h-1.0zM105.2 525.6h1.0v1.0h-1.0zM155.4 484.8h1.0v1.0h-1.0zM120.8 515.4h1.0v1.0h-1.0zM152.5 504.3h1.0v1.0h-1.0zM103.2 511.9h1.0v1.0h-1.0zM102.6 503.3h1.0v1.0h-1.0zM136.6 522.1h1.0v1.0h-1.0zM142.4 465.8h1.0v1.0h-1.0zM162.4 511.2h1.0v1.0h-1.0zM138.5 464.7h1.0v1.0h-1.0zM149.1 490.4h1.0v1.0h-1.0zM145.2 525.6h1.0v1.0h-1.0zM161.2 469.1h1.0v1.0h-1.0zM152.1 491.8h1.0v1.0h-1.0zM150.1 487.9h1.0v1.0h-1.0zM129.6 491.6h1.0v1.0h-1.0zM107.4 484.3h1.0v1.0h-1.0zM148.9 468.8h1.0v1.0h-1.0zM107.2 516.3h1.0v1.0h-1.0zM144.3 498.5h1.0v1.0h-1.0zM107.0 471.8h1.0v1.0h-1.0zM120.3 523.7h1.0v1.0h-1.0zM137.2 521.8h1.0v1.0h-1.0zM113.6 490.2h1.0v1.0h-1.0zM135.5 516.6h1.0v1.0h-1.0zM107.7 518.7h1.0v1.0h-1.0zM131.2 466.4h1.0v1.0h-1.0zM128.5 487.9h1.0v1.0h-1.0zM144.9 522.1h1.0v1.0h-1.0zM132.7 507.3h1.0v1.0h-1.0zM125.6 512.8h1.0v1.0h-1.0zM106.5 510.6h1.0v1.0h-1.0zM110.6 500.8h1.0v1.0h-1.0zM113.0 485.9h1.0v1.0h-1.0zM110.4 486.2h1.0v1.0h-1.0zM139.3 496.7h1.0v1.0h-1.0zM125.6 500.1h1.0v1.0h-1.0zM156.2 486.7h1.0v1.0h-1.0zM138.7 494.3h1.0v1.0h-1.0zM165.5 484.8h1.0v1.0h-1.0zM146.4 478.9h1.0v1.0h-1.0zM117.0 509.8h1.0v1.0h-1.0zM138.2 480.4h1.0v1.0h-1.0zM103.7 515.7h1.0v1.0h-1.0zM124.8 509.0h1.0v1.0h-1.0zM128.6 502.8h1.0v1.0h-1.0zM137.1 525.1h1.0v1.0h-1.0zM160.7 492.7h1.0v1.0h-1.0zM132.2 478.8h1.0v1.0h-1.0zM150.2 470.8h1.0v1.0h-1.0zM120.1 517.1h1.0v1.0h-1.0zM101.8 507.8h1.0v1.0h-1.0zM137.7 498.7h1.0v1.0h-1.0zM121.8 473.8h1.0v1.0h-1.0zM163.5 512.0h1.0v1.0h-1.0zM153.7 470.5h1.0v1.0h-1.0zM152.2 478.0h1.0v1.0h-1.0zM112.8 497.7h1.0v1.0h-1.0zM140.5 471.9h1.0v1.0h-1.0zM151.0 500.6h1.0v1.0h-1.0zM160.0 521.9h1.0v1.0h-1.0zM145.9 487.0h1.0v1.0h-1.0zM163.5 509.1h1.0v1.0h-1.0zM119.0 517.7h1.0v1.0h-1.0zM148.4 480.9h1.0v1.0h-1.0zM116.2 465.7h1.0v1.0h-1.0zM135.6 480.2h1.0v1.0h-1.0zM119.2 480.1h1.0v1.0h-1.0zM108.3 494.6h1.0v1.0h-1.0zM117.8 482.1h1.0v1.0h-1.0zM118.1 496.1h1.0v1.0h-1.0zM158.3 474.4h1.0v1.0h-1.0zM157.3 517.6h1.0v1.0h-1.0zM140.5 498.2h1.0v1.0h-1.0zM148.9 497.6h1.0v1.0h-1.0zM143.9 521.6h1.0v1.0h-1.0zM151.6 480.6h1.0v1.0h-1.0zM103.1 522.7h1.0v1.0h-1.0zM123.8 513.4h1.0v1.0h-1.0zM115.1 492.6h1.0v1.0h-1.0zM124.4 509.8h1.0v1.0h-1.0zM163.0 495.9h1.0v1.0h-1.0zM137.5 486.1h1.0v1.0h-1.0zM115.0 523.5h1.0v1.0h-1.0zM106.8 522.9h1.0v1.0h-1.0zM143.7 468.9h1.0v1.0h-1.0zM160.2 470.7h1.0v1.0h-1.0zM137.5 471.8h1.0v1.0h-1.0zM166.0 483.6h1.0v1.0h-1.0zM158.2 468.2h1.0v1.0h-1.0zM144.3 468.6h1.0v1.0h-1.0zM101.4 499.9h1.0v1.0h-1.0zM165.6 507.0h1.0v1.0h-1.0zM157.0 513.2h1.0v1.0h-1.0zM134.5 469.2h1.0v1.0h-1.0zM134.9 475.9h1.0v1.0h-1.0zM134.9 486.4h1.0v1.0h-1.0zM133.0 476.7h1.0v1.0h-1.0zM146.9 490.4h1.0v1.0h-1.0zM132.1 469.3h1.0v1.0h-1.0zM132.2 499.1h1.0v1.0h-1.0zM164.9 499.3h1.0v1.0h-1.0zM108.5 483.1h1.0v1.0h-1.0zM122.0 508.1h1.0v1.0h-1.0zM162.7 525.1h1.0v1.0h-1.0zM163.4 522.0h1.0v1.0h-1.0zM157.3 522.6h1.0v1.0h-1.0zM100.8 494.9h1.0v1.0h-1.0zM139.2 507.1h1.0v1.0h-1.0zM140.7 502.5h1.0v1.0h-1.0zM162.3 469.8h1.0v1.0h-1.0zM134.4 524.1h1.0v1.0h-1.0zM101.5 471.4h1.0v1.0h-1.0zM158.0 523.9h1.0v1.0h-1.0zM101.0 466.4h1.0v1.0h-1.0zM155.3 507.2h1.0v1.0h-1.0zM134.4 500.5h1.0v1.0h-1.0zM150.4 514.6h1.0v1.0h-1.0zM99.4 468.6h1.0v1.0h-1.0zM152.9 525.1h1.0v1.0h-1.0zM155.6 489.8h1.0v1.0h-1.0zM122.0 486.0h1.0v1.0h-1.0zM100.4 512.3h1.0v1.0h-1.0zM117.1 500.8h1.0v1.0h-1.0zM134.9 485.3h1.0v1.0h-1.0zM144.9 492.7h1.0v1.0h-1.0zM115.2 519.3h1.0v1.0h-1.0zM111.2 473.7h1.0v1.0h-1.0zM116.5 494.2h1.0v1.0h-1.0zM152.2 485.1h1.0v1.0h-1.0zM115.5 505.1h1.0v1.0h-1.0zM116.9 496.9h1.0v1.0h-1.0zM116.6 518.9h1.0v1.0h-1.0zM111.8 478.8h1.0v1.0h-1.0zM119.7 484.9h1.0v1.0h-1.0zM148.4 506.3h1.0v1.0h-1.0zM152.7 498.0h1.0v1.0h-1.0zM104.7 511.9h1.0v1.0h-1.0zM115.9 477.9h1.0v1.0h-1.0zM127.3 526.0h1.0v1.0h-1.0zM124.4 486.6h1.0v1.0h-1.0zM160.8 526.0h1.0v1.0h-1.0zM125.5 472.8h1.0v1.0h-1.0zM152.6 513.1h1.0v1.0h-1.0zM122.2 513.6h1.0v1.0h-1.0zM125.0 482.3h1.0v1.0h-1.0zM139.4 510.5h1.0v1.0h-1.0zM131.5 515.3h1.0v1.0h-1.0zM100.3 495.4h1.0v1.0h-1.0zM125.0 468.4h1.0v1.0h-1.0zM161.0 473.3h1.0v1.0h-1.0zM113.3 519.0h1.0v1.0h-1.0zM164.1 522.3h1.0v1.0h-1.0zM122.4 522.3h1.0v1.0h-1.0zM109.0 508.8h1.0v1.0h-1.0zM163.1 476.4h1.0v1.0h-1.0zM108.5 506.6h1.0v1.0h-1.0zM158.9 509.6h1.0v1.0h-1.0zM163.4 492.6h1.0v1.0h-1.0zM124.5 471.9h1.0v1.0h-1.0zM117.8 522.8h1.0v1.0h-1.0zM104.2 475.9h1.0v1.0h-1.0zM122.8 467.5h1.0v1.0h-1.0zM120.1 475.8h1.0v1.0h-1.0zM107.7 497.2h1.0v1.0h-1.0zM135.8 499.7h1.0v1.0h-1.0zM150.8 497.2h1.0v1.0h-1.0zM163.2 469.5h1.0v1.0h-1.0zM114.4 469.2h1.0v1.0h-1.0zM120.3 511.7h1.0v1.0h-1.0zM161.7 495.7h1.0v1.0h-1.0zM110.2 485.0h1.0v1.0h-1.0zM137.7 482.7h1.0v1.0h-1.0zM152.8 524.9h1.0v1.0h-1.0zM130.4 501.9h1.0v1.0h-1.0zM156.4 493.3h1.0v1.0h-1.0zM112.3 523.1h1.0v1.0h-1.0zM165.3 465.9h1.0v1.0h-1.0zM150.8 489.3h1.0v1.0h-1.0zM102.9 474.5h1.0v1.0h-1.0zM111.1 510.2h1.0v1.0h-1.0zM113.7 465.6h1.0v1.0h-1.0zM114.2 514.1h1.0v1.0h-1.0zM133.0 505.0h1.0v1.0h-1.0zM130.7 475.8h1.0v1.0h-1.0zM100.4 483.3h1.0v1.0h-1.0zM102.2 480.6h1.0v1.0h-1.0zM141.1 487.4h1.0v1.0h-1.0zM131.3 503.2h1.0v1.0h-1.0zM120.8 486.6h1.0v1.0h-1.0zM159.0 500.5h1.0v1.0h-1.0zM127.5 498.0h1.0v1.0h-1.0zM130.4 485.1h1.0v1.0h-1.0zM161.0 478.9h1.0v1.0h-1.0zM162.5 517.5h1.0v1.0h-1.0zM158.8 474.5h1.0v1.0h-1.0zM133.7 525.6h1.0v1.0h-1.0zM118.9 475.0h1.0v1.0h-1.0zM148.2 479.0h1.0v1.0h-1.0zM138.7 474.2h1.0v1.0h-1.0zM163.3 482.1h1.0v1.0h-1.0zM105.9 507.2h1.0v1.0h-1.0zM122.8 499.2h1.0v1.0h-1.0zM132.9 521.8h1.0v1.0h-1.0zM134.1 488.0h1.0v1.0h-1.0zM99.5 495.3h1.0v1.0h-1.0zM117.5 500.1h1.0v1.0h-1.0zM142.0 493.2h1.0v1.0h-1.0zM105.5 495.3h1.0v1.0h-1.0zM131.9 504.3h1.0v1.0h-1.0zM164.8 481.8h1.0v1.0h-1.0zM129.2 469.7h1.0v1.0h-1.0zM153.3 479.0h1.0v1.0h-1.0zM155.3 514.0h1.0v1.0h-1.0zM116.6 520.6h1.0v1.0h-1.0zM133.4 490.9h1.0v1.0h-1.0zM136.8 523.2h1.0v1.0h-1.0zM132.4 494.4h1.0v1.0h-1.0zM119.0 516.7h1.0v1.0h-1.0zM133.3 485.7h1.0v1.0h-1.0zM112.6 477.8h1.0v1.0h-1.0zM155.6 514.4h1.0v1.0h-1.0zM165.4 521.4h1.0v1.0h-1.0zM145.6 514.0h1.0v1.0h-1.0zM147.4 514.8h1.0v1.0h-1.0zM153.4 475.4h1.0v1.0h-1.0zM154.3 483.3h1.0v1.0h-1.0zM115.9 521.6h1.0v1.0h-1.0zM100.9 496.2h1.0v1.0h-1.0zM122.5 513.6h1.0v1.0h-1.0zM140.5 521.1h1.0v1.0h-1.0zM162.3 504.5h1.0v1.0h-1.0zM103.7 505.9h1.0v1.0h-1.0zM106.8 525.5h1.0v1.0h-1.0zM158.1 483.7h1.0v1.0h-1.0zM111.9 507.6h1.0v1.0h-1.0zM150.5 525.7h1.0v1.0h-1.0zM141.4 472.2h1.0v1.0h-1.0zM148.4 468.0h1.0v1.0h-1.0zM157.9 512.2h1.0v1.0h-1.0zM152.3 518.7h1.0v1.0h-1.0zM137.8 523.1h1.0v1.0h-1.0zM142.5 495.0h1.0v1.0h-1.0zM125.3 486.4h1.0v1.0h-1.0zM100.9 474.4h1.0v1.0h-1.0zM153.0 478.6h1.0v1.0h-1.0zM143.5 512.6h1.0v1.0h-1.0zM146.2 496.5h1.0v1.0h-1.0zM120.7 481.4h1.0v1.0h-1.0zM112.0 504.7h1.0v1.0h-1.0zM145.7 523.0h1.0v1.0h-1.0zM121.7 522.1h1.0v1.0h-1.0zM160.8 482.5h1.0v1.0h-1.0zM163.6 502.9h1.0v1.0h-1.0zM164.3 512.6h1.0v1.0h-1.0zM121.9 481.8h1.0v1.0h-1.0zM134.6 494.7h1.0v1.0h-1.0zM101.8 518.0h1.0v1.0h-1.0zM135.5 493.8h1.0v1.0h-1.0zM149.6 479.9h1.0v1.0h-1.0zM112.8 500.5h1.0v1.0h-1.0zM115.7 484.8h1.0v1.0h-1.0zM104.1 467.6h1.0v1.0h-1.0zM123.3 497.2h1.0v1.0h-1.0zM163.4 504.2h1.0v1.0h-1.0zM127.3 489.7h1.0v1.0h-1.0zM115.3 493.9h1.0v1.0h-1.0zM164.0 472.0h1.0v1.0h-1.0zM128.6 507.0h1.0v1.0h-1.0zM150.8 498.9h1.0v1.0h-1.0zM142.6 522.8h1.0v1.0h-1.0z" fill="#f0bcec" opacity="0.8"/><path d="M126.3 517.5h0" stroke="#fcf4fc" stroke-width="2.4" stroke-linecap="round" fill="none"/><path d="M127.3 507.3h0M121.6 494.0h0" stroke="#fcf4fc" stroke-width="2.8" stroke-linecap="round" fill="none"/><path d="M118.6 512.3h0M113.2 495.4h0M113.3 496.0h0M116.7 513.4h0" stroke="#fcf4fc" stroke-width="3.2" stroke-linecap="round" fill="none"/><path d="M125.0 499.5h0M104.2 500.0h0M118.6 511.6h0" stroke="#fcf4fc" stroke-width="3.6" stroke-linecap="round" fill="none"/><path d="M116.2 500.1h0M120.6 501.4h0" stroke="#fcf4fc" stroke-width="4.0" stroke-linecap="round" fill="none"/><path d="M131.3 480.2h0" stroke="#fcf4fc" stroke-width="1.6" stroke-linecap="round" fill="none"/><path d="M131.0 486.6h0M146.1 483.3h0M163.2 470.6h0" stroke="#fcf4fc" stroke-width="2.0" stroke-linecap="round" fill="none"/><path d="M131.9 478.0h0M137.0 490.8h0" stroke="#fcf4fc" stroke-width="2.4" stroke-linecap="round" fill="none"/><path d="M133.0 493.2h0" stroke="#fcf4fc" stroke-width="2.8" stroke-linecap="round" fill="none"/><path d="M143.5 478.2h0" stroke="#fcf4fc" stroke-width="3.2" stroke-linecap="round" fill="none"/><path d="M116.9 502.6h0M126.2 526.2h0M153.7 490.5h0M123.2 511.6h0M123.6 497.8h0M124.6 505.3h0M116.2 475.5h0M122.1 519.0h0M165.9 478.3h0M114.7 487.1h0M138.7 470.3h0M157.5 468.3h0M100.8 507.8h0" stroke="#f4dcf4" stroke-width="0.8" stroke-linecap="round" fill="none"/><path d="M116.8 513.6h0M129.6 487.2h0M129.9 484.0h0M165.2 513.3h0M144.6 510.5h0M148.2 523.5h0M144.5 491.5h0M114.6 512.3h0M165.4 485.7h0M160.9 468.1h0M154.8 516.5h0M149.7 500.4h0M146.9 499.3h0M117.9 499.7h0M132.8 474.8h0M159.6 505.7h0M140.2 493.0h0M119.6 507.4h0M155.2 488.0h0M105.2 513.8h0M117.2 494.8h0M113.6 508.2h0M131.3 483.9h0M154.1 499.9h0M122.4 491.8h0M155.2 521.3h0M111.0 486.5h0M147.8 467.3h0M103.6 516.7h0M123.2 525.6h0M117.8 505.9h0M121.1 493.5h0M137.2 486.5h0M116.2 482.6h0M100.5 483.7h0" stroke="#f4dcf4" stroke-width="1.2" stroke-linecap="round" fill="none"/><path d="M127.1 483.3h0M130.1 493.9h0M130.0 487.8h0M100.5 490.3h0M139.2 508.7h0M165.9 472.9h0M121.3 509.6h0M166.2 499.8h0M120.4 518.7h0M101.3 515.3h0M141.2 473.7h0M114.0 519.3h0" stroke="#f4dcf4" stroke-width="1.6" stroke-linecap="round" fill="none"/><path d="M117.5 471.4h1.3v1.3h-1.3zM156.4 493.6h1.3v1.3h-1.3zM133.9 483.8h1.3v1.3h-1.3zM159.2 511.3h1.3v1.3h-1.3zM141.4 505.4h1.3v1.3h-1.3zM146.1 495.5h1.3v1.3h-1.3zM127.2 488.7h1.3v1.3h-1.3zM133.4 493.5h1.3v1.3h-1.3zM135.0 497.6h1.3v1.3h-1.3zM152.6 519.9h1.3v1.3h-1.3zM114.5 465.8h1.3v1.3h-1.3zM119.7 466.4h1.3v1.3h-1.3zM153.1 503.0h1.3v1.3h-1.3zM118.6 476.3h1.3v1.3h-1.3zM157.9 516.4h1.3v1.3h-1.3zM145.5 507.4h1.3v1.3h-1.3zM149.6 492.7h1.3v1.3h-1.3zM126.2 498.8h1.3v1.3h-1.3zM158.7 526.1h1.3v1.3h-1.3zM161.2 516.4h1.3v1.3h-1.3zM104.4 479.8h1.3v1.3h-1.3zM164.8 498.2h1.3v1.3h-1.3zM134.1 483.7h1.3v1.3h-1.3zM157.5 496.5h1.3v1.3h-1.3zM166.1 469.1h1.3v1.3h-1.3zM166.3 465.2h1.3v1.3h-1.3zM109.4 488.6h1.3v1.3h-1.3zM142.5 471.3h1.3v1.3h-1.3zM137.3 522.8h1.3v1.3h-1.3zM128.8 511.8h1.3v1.3h-1.3zM139.3 500.6h1.3v1.3h-1.3zM111.1 493.3h1.3v1.3h-1.3zM160.1 506.3h1.3v1.3h-1.3zM114.0 492.2h1.3v1.3h-1.3zM136.0 485.3h1.3v1.3h-1.3zM138.3 503.7h1.3v1.3h-1.3zM100.6 478.1h1.3v1.3h-1.3zM143.7 477.7h1.3v1.3h-1.3zM104.3 511.8h1.3v1.3h-1.3zM121.9 524.0h1.3v1.3h-1.3zM137.1 470.7h1.3v1.3h-1.3zM142.3 480.7h1.3v1.3h-1.3zM154.3 509.4h1.3v1.3h-1.3zM150.5 468.0h1.3v1.3h-1.3zM101.7 514.0h1.3v1.3h-1.3zM108.9 476.9h1.3v1.3h-1.3zM101.4 474.6h1.3v1.3h-1.3zM131.3 524.0h1.3v1.3h-1.3zM121.1 480.5h1.3v1.3h-1.3zM155.2 475.9h1.3v1.3h-1.3zM142.2 502.7h1.3v1.3h-1.3zM162.4 467.1h1.3v1.3h-1.3zM137.4 488.2h1.3v1.3h-1.3zM154.9 480.1h1.3v1.3h-1.3zM147.6 475.9h1.3v1.3h-1.3zM132.8 524.6h1.3v1.3h-1.3zM115.6 481.7h1.3v1.3h-1.3zM161.2 506.4h1.3v1.3h-1.3zM103.8 476.0h1.3v1.3h-1.3zM115.4 482.4h1.3v1.3h-1.3zM156.3 508.0h1.3v1.3h-1.3zM165.4 506.1h1.3v1.3h-1.3zM141.7 488.2h1.3v1.3h-1.3zM147.8 495.1h1.3v1.3h-1.3zM103.4 495.0h1.3v1.3h-1.3zM125.3 497.4h1.3v1.3h-1.3zM102.7 466.1h1.3v1.3h-1.3zM165.6 487.5h1.3v1.3h-1.3zM121.6 473.6h1.3v1.3h-1.3zM139.3 521.3h1.3v1.3h-1.3zM111.6 495.5h1.3v1.3h-1.3zM133.1 512.0h1.3v1.3h-1.3zM137.5 479.3h1.3v1.3h-1.3zM112.2 509.5h1.3v1.3h-1.3zM104.7 518.2h1.3v1.3h-1.3zM101.7 476.2h1.3v1.3h-1.3zM130.9 516.9h1.3v1.3h-1.3zM141.2 510.8h1.3v1.3h-1.3zM150.7 509.3h1.3v1.3h-1.3zM102.9 515.7h1.3v1.3h-1.3zM109.4 474.5h1.3v1.3h-1.3zM101.9 466.2h1.3v1.3h-1.3zM158.5 488.1h1.3v1.3h-1.3zM105.2 467.3h1.3v1.3h-1.3zM156.4 501.8h1.3v1.3h-1.3zM161.2 466.7h1.3v1.3h-1.3zM107.0 482.2h1.3v1.3h-1.3zM112.3 471.4h1.3v1.3h-1.3zM112.9 504.2h1.3v1.3h-1.3zM110.7 474.9h1.3v1.3h-1.3zM135.5 487.8h1.3v1.3h-1.3zM109.5 499.7h1.3v1.3h-1.3zM133.6 488.5h1.3v1.3h-1.3zM131.4 466.9h1.3v1.3h-1.3zM140.9 476.4h1.3v1.3h-1.3zM122.0 465.0h1.3v1.3h-1.3zM159.2 501.0h1.3v1.3h-1.3zM125.8 498.1h1.3v1.3h-1.3zM162.7 472.6h1.3v1.3h-1.3zM125.2 508.4h1.3v1.3h-1.3zM124.5 508.4h1.3v1.3h-1.3zM160.6 466.9h1.3v1.3h-1.3zM118.6 482.6h1.3v1.3h-1.3zM150.0 513.2h1.3v1.3h-1.3zM146.5 521.9h1.3v1.3h-1.3zM111.9 488.9h1.3v1.3h-1.3zM156.9 512.0h1.3v1.3h-1.3zM107.0 525.3h1.3v1.3h-1.3zM149.3 518.3h1.3v1.3h-1.3zM123.8 502.1h1.3v1.3h-1.3zM164.0 520.3h1.3v1.3h-1.3zM138.3 519.8h1.3v1.3h-1.3zM166.7 516.6h1.3v1.3h-1.3zM143.6 524.1h1.3v1.3h-1.3zM109.1 489.5h1.3v1.3h-1.3zM137.4 472.6h1.3v1.3h-1.3zM152.0 468.3h1.3v1.3h-1.3zM141.8 481.8h1.3v1.3h-1.3zM121.2 502.1h1.3v1.3h-1.3zM112.3 492.2h1.3v1.3h-1.3zM157.2 525.8h1.3v1.3h-1.3zM117.1 487.1h1.3v1.3h-1.3zM146.2 476.2h1.3v1.3h-1.3zM156.6 476.8h1.3v1.3h-1.3zM136.9 485.5h1.3v1.3h-1.3zM99.5 464.5h1.3v1.3h-1.3zM99.5 484.8h1.3v1.3h-1.3zM117.9 526.1h1.3v1.3h-1.3zM142.4 468.5h1.3v1.3h-1.3zM147.7 478.9h1.3v1.3h-1.3zM131.9 509.3h1.3v1.3h-1.3zM157.1 522.6h1.3v1.3h-1.3zM127.8 484.2h1.3v1.3h-1.3zM126.2 483.9h1.3v1.3h-1.3zM149.4 493.2h1.3v1.3h-1.3zM145.6 473.9h1.3v1.3h-1.3zM152.2 524.5h1.3v1.3h-1.3zM113.1 502.8h1.3v1.3h-1.3zM110.3 466.6h1.3v1.3h-1.3zM127.3 475.8h1.3v1.3h-1.3zM148.6 500.0h1.3v1.3h-1.3zM144.9 524.6h1.3v1.3h-1.3zM103.3 470.5h1.3v1.3h-1.3zM101.8 493.0h1.3v1.3h-1.3zM155.0 506.9h1.3v1.3h-1.3zM136.3 517.7h1.3v1.3h-1.3zM124.5 471.4h1.3v1.3h-1.3zM142.6 466.0h1.3v1.3h-1.3zM114.9 466.3h1.3v1.3h-1.3zM110.3 468.4h1.3v1.3h-1.3zM135.2 472.4h1.3v1.3h-1.3zM140.1 515.7h1.3v1.3h-1.3zM122.6 471.9h1.3v1.3h-1.3zM144.6 509.7h1.3v1.3h-1.3zM159.0 498.9h1.3v1.3h-1.3zM138.6 518.1h1.3v1.3h-1.3zM145.0 525.0h1.3v1.3h-1.3zM118.7 512.6h1.3v1.3h-1.3zM142.1 493.5h1.3v1.3h-1.3zM100.1 494.0h1.3v1.3h-1.3zM117.2 501.8h1.3v1.3h-1.3zM133.7 496.1h1.3v1.3h-1.3zM103.4 472.6h1.3v1.3h-1.3zM140.3 506.8h1.3v1.3h-1.3zM166.2 513.7h1.3v1.3h-1.3zM119.0 492.7h1.3v1.3h-1.3zM133.5 514.4h1.3v1.3h-1.3zM126.0 521.7h1.3v1.3h-1.3zM132.0 489.2h1.3v1.3h-1.3zM131.7 486.6h1.3v1.3h-1.3z" fill="#7e52b4" opacity="0.7"/></g></g>
<rect x="100.15" y="464.4" width="65.9" height="62.2" fill="none" stroke="#2a2a2a" stroke-width="1.5"/>
<g clip-path="url(#c21)"><g filter="url(#soft)"><rect x="169.8" y="464.4" width="67" height="62.2" fill="#de86d6"/><path d="M236.8 467.3h1.0v1.0h-1.0zM196.6 469.3h1.0v1.0h-1.0zM215.2 473.8h1.0v1.0h-1.0zM179.8 490.7h1.0v1.0h-1.0zM210.1 511.9h1.0v1.0h-1.0zM199.6 482.8h1.0v1.0h-1.0zM194.4 519.7h1.0v1.0h-1.0zM184.1 465.1h1.0v1.0h-1.0zM229.1 494.4h1.0v1.0h-1.0zM178.7 472.9h1.0v1.0h-1.0zM229.5 511.0h1.0v1.0h-1.0zM174.1 506.4h1.0v1.0h-1.0zM184.1 492.1h1.0v1.0h-1.0zM210.3 467.6h1.0v1.0h-1.0zM232.5 485.2h1.0v1.0h-1.0zM179.4 512.9h1.0v1.0h-1.0zM177.1 466.7h1.0v1.0h-1.0zM213.5 493.6h1.0v1.0h-1.0zM230.1 513.6h1.0v1.0h-1.0zM183.6 467.2h1.0v1.0h-1.0zM210.2 493.7h1.0v1.0h-1.0zM190.0 521.4h1.0v1.0h-1.0zM183.8 504.4h1.0v1.0h-1.0zM174.7 521.8h1.0v1.0h-1.0zM233.4 502.8h1.0v1.0h-1.0zM191.3 509.4h1.0v1.0h-1.0zM230.3 513.8h1.0v1.0h-1.0zM172.5 495.8h1.0v1.0h-1.0zM179.2 498.4h1.0v1.0h-1.0zM233.5 518.2h1.0v1.0h-1.0zM186.5 498.7h1.0v1.0h-1.0zM191.1 474.9h1.0v1.0h-1.0zM219.6 511.6h1.0v1.0h-1.0zM192.4 490.5h1.0v1.0h-1.0zM216.5 509.7h1.0v1.0h-1.0zM200.9 471.8h1.0v1.0h-1.0zM176.2 474.9h1.0v1.0h-1.0zM225.2 495.3h1.0v1.0h-1.0zM213.0 487.1h1.0v1.0h-1.0zM194.5 475.3h1.0v1.0h-1.0zM235.1 502.1h1.0v1.0h-1.0zM178.4 508.1h1.0v1.0h-1.0zM209.9 502.5h1.0v1.0h-1.0zM221.4 502.2h1.0v1.0h-1.0zM228.5 524.7h1.0v1.0h-1.0zM197.1 504.7h1.0v1.0h-1.0zM194.9 489.9h1.0v1.0h-1.0zM194.3 504.7h1.0v1.0h-1.0zM193.4 486.3h1.0v1.0h-1.0zM226.5 514.1h1.0v1.0h-1.0zM215.1 516.9h1.0v1.0h-1.0zM195.7 504.4h1.0v1.0h-1.0zM186.6 484.0h1.0v1.0h-1.0zM176.5 514.1h1.0v1.0h-1.0zM231.5 483.2h1.0v1.0h-1.0zM195.1 471.7h1.0v1.0h-1.0zM179.3 504.1h1.0v1.0h-1.0zM229.6 469.6h1.0v1.0h-1.0zM186.9 511.6h1.0v1.0h-1.0zM184.9 519.0h1.0v1.0h-1.0zM193.4 493.8h1.0v1.0h-1.0zM183.3 482.5h1.0v1.0h-1.0zM198.2 481.7h1.0v1.0h-1.0zM218.6 466.3h1.0v1.0h-1.0zM212.6 514.3h1.0v1.0h-1.0zM191.7 476.3h1.0v1.0h-1.0zM177.8 469.2h1.0v1.0h-1.0zM222.9 501.9h1.0v1.0h-1.0zM170.8 492.6h1.0v1.0h-1.0zM209.9 484.3h1.0v1.0h-1.0zM172.1 490.6h1.0v1.0h-1.0zM193.5 524.9h1.0v1.0h-1.0zM193.9 521.8h1.0v1.0h-1.0zM228.0 500.1h1.0v1.0h-1.0zM178.2 514.6h1.0v1.0h-1.0zM175.8 499.1h1.0v1.0h-1.0zM176.3 470.2h1.0v1.0h-1.0zM197.3 474.1h1.0v1.0h-1.0zM236.3 500.3h1.0v1.0h-1.0zM229.9 523.9h1.0v1.0h-1.0zM220.6 504.6h1.0v1.0h-1.0zM201.5 512.8h1.0v1.0h-1.0zM214.6 474.2h1.0v1.0h-1.0zM205.3 490.1h1.0v1.0h-1.0zM204.3 508.8h1.0v1.0h-1.0zM216.0 499.8h1.0v1.0h-1.0zM222.7 515.7h1.0v1.0h-1.0zM176.0 473.4h1.0v1.0h-1.0zM173.0 474.4h1.0v1.0h-1.0zM234.1 483.7h1.0v1.0h-1.0zM199.2 493.3h1.0v1.0h-1.0zM207.6 481.8h1.0v1.0h-1.0zM222.0 485.0h1.0v1.0h-1.0zM226.5 514.4h1.0v1.0h-1.0zM169.9 498.5h1.0v1.0h-1.0zM176.0 519.4h1.0v1.0h-1.0zM174.4 481.0h1.0v1.0h-1.0zM221.3 501.2h1.0v1.0h-1.0zM214.5 490.1h1.0v1.0h-1.0zM204.7 477.0h1.0v1.0h-1.0zM200.8 480.4h1.0v1.0h-1.0zM215.1 471.0h1.0v1.0h-1.0zM179.0 476.7h1.0v1.0h-1.0zM205.5 500.6h1.0v1.0h-1.0zM170.0 525.8h1.0v1.0h-1.0zM225.8 488.0h1.0v1.0h-1.0zM180.4 515.8h1.0v1.0h-1.0zM235.3 475.5h1.0v1.0h-1.0zM220.5 515.3h1.0v1.0h-1.0zM232.6 477.4h1.0v1.0h-1.0zM177.9 474.6h1.0v1.0h-1.0zM185.3 520.4h1.0v1.0h-1.0zM230.8 493.9h1.0v1.0h-1.0zM178.3 486.3h1.0v1.0h-1.0zM186.0 504.7h1.0v1.0h-1.0zM218.0 512.7h1.0v1.0h-1.0zM199.1 492.8h1.0v1.0h-1.0zM201.1 487.4h1.0v1.0h-1.0zM200.3 507.0h1.0v1.0h-1.0zM217.5 484.7h1.0v1.0h-1.0zM207.8 473.4h1.0v1.0h-1.0zM172.8 488.5h1.0v1.0h-1.0zM193.9 466.4h1.0v1.0h-1.0zM175.1 490.9h1.0v1.0h-1.0zM232.9 516.5h1.0v1.0h-1.0zM171.8 484.1h1.0v1.0h-1.0zM194.5 483.8h1.0v1.0h-1.0zM179.0 501.1h1.0v1.0h-1.0zM226.0 488.1h1.0v1.0h-1.0zM181.6 470.9h1.0v1.0h-1.0zM170.8 512.0h1.0v1.0h-1.0zM185.3 509.4h1.0v1.0h-1.0zM222.8 469.6h1.0v1.0h-1.0zM182.5 484.0h1.0v1.0h-1.0zM221.3 510.2h1.0v1.0h-1.0zM190.1 492.5h1.0v1.0h-1.0zM193.6 493.7h1.0v1.0h-1.0zM223.0 480.7h1.0v1.0h-1.0zM224.1 521.6h1.0v1.0h-1.0zM210.1 524.1h1.0v1.0h-1.0zM232.6 475.0h1.0v1.0h-1.0zM236.2 476.9h1.0v1.0h-1.0zM223.7 471.9h1.0v1.0h-1.0zM190.1 491.9h1.0v1.0h-1.0zM226.0 506.7h1.0v1.0h-1.0zM183.5 520.2h1.0v1.0h-1.0zM227.8 496.1h1.0v1.0h-1.0zM173.2 482.2h1.0v1.0h-1.0zM189.4 490.4h1.0v1.0h-1.0zM233.0 501.4h1.0v1.0h-1.0zM224.7 468.8h1.0v1.0h-1.0zM186.2 509.9h1.0v1.0h-1.0zM192.6 478.5h1.0v1.0h-1.0zM174.0 467.6h1.0v1.0h-1.0zM197.4 498.4h1.0v1.0h-1.0zM196.6 499.5h1.0v1.0h-1.0zM189.3 465.4h1.0v1.0h-1.0zM215.0 485.3h1.0v1.0h-1.0zM202.7 487.9h1.0v1.0h-1.0zM187.9 467.6h1.0v1.0h-1.0zM189.7 482.9h1.0v1.0h-1.0zM177.5 466.2h1.0v1.0h-1.0zM202.0 465.6h1.0v1.0h-1.0zM228.7 486.8h1.0v1.0h-1.0zM199.5 497.1h1.0v1.0h-1.0zM171.4 470.7h1.0v1.0h-1.0zM222.4 499.0h1.0v1.0h-1.0zM202.8 485.8h1.0v1.0h-1.0zM220.1 495.7h1.0v1.0h-1.0zM222.9 516.4h1.0v1.0h-1.0zM229.7 509.5h1.0v1.0h-1.0zM215.0 493.1h1.0v1.0h-1.0zM205.5 500.4h1.0v1.0h-1.0zM205.0 515.3h1.0v1.0h-1.0zM227.3 467.6h1.0v1.0h-1.0zM220.2 502.7h1.0v1.0h-1.0zM209.9 520.9h1.0v1.0h-1.0zM173.1 493.9h1.0v1.0h-1.0zM194.9 523.4h1.0v1.0h-1.0zM180.8 499.4h1.0v1.0h-1.0zM179.5 511.3h1.0v1.0h-1.0zM202.6 510.1h1.0v1.0h-1.0zM190.4 519.3h1.0v1.0h-1.0zM170.3 478.4h1.0v1.0h-1.0zM218.9 519.1h1.0v1.0h-1.0zM221.9 481.5h1.0v1.0h-1.0zM175.2 508.5h1.0v1.0h-1.0zM218.8 468.2h1.0v1.0h-1.0zM232.4 497.2h1.0v1.0h-1.0zM172.0 494.2h1.0v1.0h-1.0zM192.5 470.9h1.0v1.0h-1.0zM229.1 522.5h1.0v1.0h-1.0zM178.1 492.1h1.0v1.0h-1.0zM188.1 506.2h1.0v1.0h-1.0zM177.2 485.1h1.0v1.0h-1.0zM197.3 493.8h1.0v1.0h-1.0zM199.0 501.5h1.0v1.0h-1.0zM232.8 522.3h1.0v1.0h-1.0zM230.6 516.0h1.0v1.0h-1.0zM185.1 479.6h1.0v1.0h-1.0zM200.6 504.4h1.0v1.0h-1.0zM210.4 486.1h1.0v1.0h-1.0zM236.2 483.8h1.0v1.0h-1.0zM171.1 470.0h1.0v1.0h-1.0zM183.8 509.9h1.0v1.0h-1.0zM226.1 467.0h1.0v1.0h-1.0zM185.7 479.5h1.0v1.0h-1.0zM222.5 520.2h1.0v1.0h-1.0zM187.4 470.8h1.0v1.0h-1.0zM234.6 524.8h1.0v1.0h-1.0zM217.8 493.8h1.0v1.0h-1.0zM219.8 512.1h1.0v1.0h-1.0zM203.9 481.3h1.0v1.0h-1.0zM205.0 505.6h1.0v1.0h-1.0zM191.5 504.2h1.0v1.0h-1.0zM179.6 524.8h1.0v1.0h-1.0zM184.0 478.5h1.0v1.0h-1.0zM234.1 523.5h1.0v1.0h-1.0zM231.8 516.7h1.0v1.0h-1.0zM226.7 515.5h1.0v1.0h-1.0zM207.8 469.0h1.0v1.0h-1.0zM218.8 516.4h1.0v1.0h-1.0zM225.9 467.1h1.0v1.0h-1.0zM173.9 509.8h1.0v1.0h-1.0zM202.5 520.0h1.0v1.0h-1.0zM236.2 492.2h1.0v1.0h-1.0zM215.1 505.8h1.0v1.0h-1.0zM216.3 487.3h1.0v1.0h-1.0zM212.6 468.6h1.0v1.0h-1.0zM230.1 509.4h1.0v1.0h-1.0zM223.6 493.2h1.0v1.0h-1.0zM183.5 492.5h1.0v1.0h-1.0zM215.4 498.5h1.0v1.0h-1.0zM177.1 464.6h1.0v1.0h-1.0zM196.5 479.6h1.0v1.0h-1.0zM185.0 478.2h1.0v1.0h-1.0zM197.7 507.6h1.0v1.0h-1.0zM231.0 506.5h1.0v1.0h-1.0zM171.2 518.4h1.0v1.0h-1.0zM210.6 509.9h1.0v1.0h-1.0zM210.9 486.4h1.0v1.0h-1.0zM192.5 468.8h1.0v1.0h-1.0zM214.3 467.8h1.0v1.0h-1.0zM215.4 521.1h1.0v1.0h-1.0zM214.5 502.1h1.0v1.0h-1.0zM223.9 524.1h1.0v1.0h-1.0zM224.2 526.0h1.0v1.0h-1.0zM200.6 465.3h1.0v1.0h-1.0zM211.0 504.1h1.0v1.0h-1.0zM227.6 502.5h1.0v1.0h-1.0zM194.1 464.7h1.0v1.0h-1.0zM225.5 503.3h1.0v1.0h-1.0zM235.8 501.3h1.0v1.0h-1.0zM226.9 512.4h1.0v1.0h-1.0zM236.2 493.2h1.0v1.0h-1.0zM229.9 489.1h1.0v1.0h-1.0zM170.6 484.7h1.0v1.0h-1.0zM193.3 526.1h1.0v1.0h-1.0zM196.3 481.5h1.0v1.0h-1.0zM216.1 470.5h1.0v1.0h-1.0zM190.3 489.0h1.0v1.0h-1.0zM178.1 501.6h1.0v1.0h-1.0zM198.1 514.3h1.0v1.0h-1.0zM192.5 525.2h1.0v1.0h-1.0zM182.9 497.4h1.0v1.0h-1.0zM185.0 465.3h1.0v1.0h-1.0zM190.0 520.1h1.0v1.0h-1.0zM189.3 494.8h1.0v1.0h-1.0zM204.9 480.9h1.0v1.0h-1.0zM205.6 468.5h1.0v1.0h-1.0zM193.2 482.1h1.0v1.0h-1.0zM224.4 512.3h1.0v1.0h-1.0zM216.8 501.4h1.0v1.0h-1.0zM227.9 510.5h1.0v1.0h-1.0zM173.5 472.5h1.0v1.0h-1.0zM219.9 516.6h1.0v1.0h-1.0zM236.1 512.6h1.0v1.0h-1.0zM180.4 499.7h1.0v1.0h-1.0zM211.6 502.0h1.0v1.0h-1.0zM178.8 524.6h1.0v1.0h-1.0zM204.0 481.1h1.0v1.0h-1.0zM235.5 488.3h1.0v1.0h-1.0zM174.5 506.0h1.0v1.0h-1.0zM187.2 478.0h1.0v1.0h-1.0zM190.1 502.2h1.0v1.0h-1.0zM191.2 505.7h1.0v1.0h-1.0zM230.5 526.0h1.0v1.0h-1.0zM229.4 521.7h1.0v1.0h-1.0zM186.8 515.7h1.0v1.0h-1.0zM175.8 500.6h1.0v1.0h-1.0zM174.9 470.6h1.0v1.0h-1.0zM233.4 472.3h1.0v1.0h-1.0zM217.9 497.2h1.0v1.0h-1.0zM169.9 513.7h1.0v1.0h-1.0zM173.9 519.6h1.0v1.0h-1.0zM224.6 495.3h1.0v1.0h-1.0zM199.7 466.1h1.0v1.0h-1.0zM216.7 466.8h1.0v1.0h-1.0zM205.0 522.0h1.0v1.0h-1.0zM215.2 471.6h1.0v1.0h-1.0z" fill="#f0bcec" opacity="0.8"/><path d="M210.2 478.5h0M204.1 477.1h0M217.2 475.7h0M220.4 500.4h0M233.6 489.7h0M210.3 501.5h0M211.3 497.8h0M212.3 474.0h0M195.0 476.4h0M203.9 483.5h0" stroke="#f2d6f2" stroke-width="2.0" stroke-linecap="round" fill="none"/><path d="M225.1 494.9h0M216.9 481.2h0M219.5 474.4h0M234.9 481.9h0M215.5 485.8h0M229.8 495.7h0M209.7 475.0h0M205.8 498.7h0M234.6 494.6h0M203.2 487.8h0M211.2 503.9h0M225.3 502.5h0M199.6 493.0h0M228.4 498.9h0" stroke="#f2d6f2" stroke-width="2.4" stroke-linecap="round" fill="none"/><path d="M227.2 490.9h0M196.9 492.0h0M203.4 486.3h0M222.4 475.5h0M228.5 491.8h0M207.6 477.0h0M233.6 481.1h0M216.0 477.1h0" stroke="#f2d6f2" stroke-width="2.8" stroke-linecap="round" fill="none"/><path d="M232.1 483.6h0M234.7 482.4h0M224.3 479.8h0M197.2 486.5h0M218.1 489.6h0M218.0 475.3h0M200.4 491.4h0M196.0 500.2h0M229.9 498.9h0M207.0 486.2h0" stroke="#f2d6f2" stroke-width="3.2" stroke-linecap="round" fill="none"/><path d="M235.3 496.5h0M201.4 503.3h0M207.2 473.8h0M234.1 499.6h0M228.8 488.0h0M226.9 487.5h0M235.5 496.6h0M197.5 494.1h0" stroke="#f2d6f2" stroke-width="3.6" stroke-linecap="round" fill="none"/><path d="M174.2 493.1h0M174.0 471.9h0M183.5 465.4h0M223.9 518.6h0M213.1 483.7h0M176.5 512.7h0" stroke="#fdf7fd" stroke-width="2.8" stroke-linecap="round" fill="none"/><path d="M197.2 522.3h0M170.8 500.2h0M188.6 502.1h0M215.2 519.9h0M233.7 500.6h0M172.5 502.4h0M220.4 481.4h0M211.5 500.6h0M195.2 499.8h0" stroke="#fdf7fd" stroke-width="3.2" stroke-linecap="round" fill="none"/><path d="M227.0 492.8h0M197.1 473.4h0M173.0 476.8h0" stroke="#fdf7fd" stroke-width="3.6" stroke-linecap="round" fill="none"/><path d="M173.5 513.5h0M210.7 518.3h0M209.0 504.6h0M226.4 523.1h0M187.2 467.3h0" stroke="#fdf7fd" stroke-width="4.0" stroke-linecap="round" fill="none"/><path d="M197.8 515.3h0M198.3 472.9h0M180.5 481.6h0M211.0 521.1h0M220.7 480.5h0M232.3 515.9h0" stroke="#fdf7fd" stroke-width="4.4" stroke-linecap="round" fill="none"/><path d="M235.5 501.9h0" stroke="#fdf7fd" stroke-width="4.8" stroke-linecap="round" fill="none"/><path d="M178.2 513.5h0M180.5 481.7h0" stroke="#fdf7fd" stroke-width="5.2" stroke-linecap="round" fill="none"/><path d="M211.5 523.3h0" stroke="#fdf7fd" stroke-width="5.6" stroke-linecap="round" fill="none"/><path d="M180.4 466.1h0M180.9 472.1h0M196.8 496.6h0M205.9 482.3h0" stroke="#fdf7fd" stroke-width="6.0" stroke-linecap="round" fill="none"/><path d="M190.2 517.1h0M194.1 502.1h0M201.7 499.1h0M178.9 469.4h0M177.9 504.4h0M199.2 494.3h0M179.9 510.0h0M215.6 502.7h0" stroke="#fdf7fd" stroke-width="6.4" stroke-linecap="round" fill="none"/><path d="M200.0 518.1h0M183.7 493.3h0M190.1 510.1h0" stroke="#fdf7fd" stroke-width="6.8" stroke-linecap="round" fill="none"/><path d="M195.6 469.8h0M214.5 499.2h0M234.8 494.3h0M204.1 486.7h0M175.7 517.8h0M212.5 493.0h0M203.0 516.9h0M180.9 465.2h0M194.7 494.2h0" stroke="#f8e8f8" stroke-width="1.2" stroke-linecap="round" fill="none"/><path d="M215.0 508.2h0M235.3 520.9h0M177.4 497.9h0M172.9 504.7h0M189.1 474.3h0M187.9 503.0h0M223.1 514.4h0M235.3 498.4h0M186.9 508.7h0M187.5 518.5h0M188.3 466.2h0M230.8 506.3h0" stroke="#f8e8f8" stroke-width="1.6" stroke-linecap="round" fill="none"/><path d="M203.0 526.3h0M209.4 509.1h0M222.2 491.5h0M210.3 503.8h0M229.3 475.4h0M206.8 513.7h0M191.5 523.8h0M199.1 490.6h0M196.7 500.3h0M170.8 467.7h0M213.2 517.6h0" stroke="#f8e8f8" stroke-width="2.0" stroke-linecap="round" fill="none"/><path d="M182.2 523.7h0M181.2 496.6h0M193.6 491.8h0M188.0 498.5h0M215.6 480.3h0M206.5 499.3h0M219.6 470.1h0M190.9 494.9h0" stroke="#f8e8f8" stroke-width="2.4" stroke-linecap="round" fill="none"/><path d="M231.7 494.4h1.3v1.3h-1.3zM183.2 495.0h1.3v1.3h-1.3zM223.8 481.4h1.3v1.3h-1.3zM209.2 470.1h1.3v1.3h-1.3zM186.0 476.1h1.3v1.3h-1.3zM203.7 507.2h1.3v1.3h-1.3zM185.0 507.2h1.3v1.3h-1.3zM209.1 511.1h1.3v1.3h-1.3zM236.5 485.1h1.3v1.3h-1.3zM236.6 492.7h1.3v1.3h-1.3zM203.9 475.4h1.3v1.3h-1.3zM175.5 504.5h1.3v1.3h-1.3zM176.7 466.6h1.3v1.3h-1.3zM175.4 498.1h1.3v1.3h-1.3zM182.9 480.8h1.3v1.3h-1.3zM221.2 492.2h1.3v1.3h-1.3zM179.7 506.7h1.3v1.3h-1.3zM236.4 503.1h1.3v1.3h-1.3zM199.6 497.9h1.3v1.3h-1.3zM216.9 516.5h1.3v1.3h-1.3zM222.4 479.8h1.3v1.3h-1.3zM222.1 470.8h1.3v1.3h-1.3zM178.4 496.0h1.3v1.3h-1.3zM182.2 499.3h1.3v1.3h-1.3zM188.8 523.1h1.3v1.3h-1.3zM198.8 515.1h1.3v1.3h-1.3zM233.1 492.5h1.3v1.3h-1.3zM221.3 495.0h1.3v1.3h-1.3zM196.6 472.1h1.3v1.3h-1.3zM213.9 521.7h1.3v1.3h-1.3zM215.9 484.1h1.3v1.3h-1.3zM205.0 486.6h1.3v1.3h-1.3zM196.0 512.5h1.3v1.3h-1.3zM170.2 494.4h1.3v1.3h-1.3zM204.1 473.5h1.3v1.3h-1.3zM218.9 480.2h1.3v1.3h-1.3zM196.8 479.8h1.3v1.3h-1.3zM209.8 491.2h1.3v1.3h-1.3zM215.6 490.8h1.3v1.3h-1.3zM222.3 498.7h1.3v1.3h-1.3zM176.8 495.0h1.3v1.3h-1.3zM186.7 482.9h1.3v1.3h-1.3zM233.3 494.3h1.3v1.3h-1.3zM219.3 474.1h1.3v1.3h-1.3zM212.0 471.8h1.3v1.3h-1.3zM184.6 472.3h1.3v1.3h-1.3zM171.5 520.8h1.3v1.3h-1.3zM234.4 487.3h1.3v1.3h-1.3zM170.6 510.1h1.3v1.3h-1.3zM214.2 467.2h1.3v1.3h-1.3zM221.2 468.6h1.3v1.3h-1.3zM185.4 512.8h1.3v1.3h-1.3zM221.2 479.0h1.3v1.3h-1.3zM203.9 514.2h1.3v1.3h-1.3zM210.2 497.1h1.3v1.3h-1.3zM182.2 468.6h1.3v1.3h-1.3zM182.4 497.0h1.3v1.3h-1.3zM209.7 493.0h1.3v1.3h-1.3zM212.4 499.5h1.3v1.3h-1.3zM213.1 490.0h1.3v1.3h-1.3zM226.2 497.5h1.3v1.3h-1.3zM228.8 525.7h1.3v1.3h-1.3zM225.3 512.4h1.3v1.3h-1.3zM216.0 498.8h1.3v1.3h-1.3zM186.4 470.8h1.3v1.3h-1.3zM214.1 479.8h1.3v1.3h-1.3zM210.8 498.6h1.3v1.3h-1.3zM210.5 491.1h1.3v1.3h-1.3zM185.8 483.3h1.3v1.3h-1.3zM216.5 519.5h1.3v1.3h-1.3zM191.2 483.9h1.3v1.3h-1.3zM199.8 491.1h1.3v1.3h-1.3zM212.2 511.4h1.3v1.3h-1.3zM221.2 514.7h1.3v1.3h-1.3zM218.4 524.8h1.3v1.3h-1.3zM199.9 492.2h1.3v1.3h-1.3zM213.4 483.9h1.3v1.3h-1.3zM225.4 490.4h1.3v1.3h-1.3zM207.1 496.7h1.3v1.3h-1.3zM194.2 465.1h1.3v1.3h-1.3zM188.4 494.0h1.3v1.3h-1.3zM233.5 472.9h1.3v1.3h-1.3zM230.3 524.9h1.3v1.3h-1.3zM222.8 481.8h1.3v1.3h-1.3zM171.1 519.2h1.3v1.3h-1.3zM174.4 483.0h1.3v1.3h-1.3zM232.7 506.3h1.3v1.3h-1.3zM225.0 516.3h1.3v1.3h-1.3zM181.7 495.8h1.3v1.3h-1.3zM176.1 488.0h1.3v1.3h-1.3zM203.0 515.2h1.3v1.3h-1.3zM189.2 505.9h1.3v1.3h-1.3zM179.2 480.4h1.3v1.3h-1.3zM173.7 500.5h1.3v1.3h-1.3zM209.1 508.7h1.3v1.3h-1.3zM197.9 522.7h1.3v1.3h-1.3zM218.2 499.8h1.3v1.3h-1.3zM228.3 475.6h1.3v1.3h-1.3zM189.4 498.7h1.3v1.3h-1.3zM210.0 523.8h1.3v1.3h-1.3zM215.3 467.3h1.3v1.3h-1.3zM233.1 493.5h1.3v1.3h-1.3zM183.6 511.8h1.3v1.3h-1.3zM211.9 517.6h1.3v1.3h-1.3zM206.7 480.3h1.3v1.3h-1.3zM201.3 493.4h1.3v1.3h-1.3zM193.4 500.5h1.3v1.3h-1.3zM179.8 480.1h1.3v1.3h-1.3zM177.7 466.1h1.3v1.3h-1.3zM205.0 510.3h1.3v1.3h-1.3zM196.8 520.5h1.3v1.3h-1.3zM210.6 505.4h1.3v1.3h-1.3zM189.0 520.3h1.3v1.3h-1.3zM193.1 517.0h1.3v1.3h-1.3zM186.2 523.6h1.3v1.3h-1.3zM215.6 475.5h1.3v1.3h-1.3zM218.8 474.1h1.3v1.3h-1.3zM195.6 487.9h1.3v1.3h-1.3zM192.2 486.9h1.3v1.3h-1.3zM180.6 489.3h1.3v1.3h-1.3zM176.1 513.9h1.3v1.3h-1.3zM193.5 508.7h1.3v1.3h-1.3zM198.5 525.0h1.3v1.3h-1.3zM228.7 508.3h1.3v1.3h-1.3zM226.1 521.2h1.3v1.3h-1.3zM232.1 490.1h1.3v1.3h-1.3zM209.5 468.7h1.3v1.3h-1.3zM194.2 484.8h1.3v1.3h-1.3zM211.5 464.9h1.3v1.3h-1.3zM220.3 469.0h1.3v1.3h-1.3z" fill="#7e52b4" opacity="0.7"/></g></g>
<rect x="170.55" y="464.4" width="65.5" height="62.2" fill="none" stroke="#2a2a2a" stroke-width="1.5"/>
<g clip-path="url(#c31)"><g filter="url(#soft)"><rect x="240.5" y="464.4" width="67.3" height="62.2" fill="#de86d6"/><path d="M269.0 494.6h1.0v1.0h-1.0zM297.2 503.7h1.0v1.0h-1.0zM250.4 505.9h1.0v1.0h-1.0zM256.3 502.8h1.0v1.0h-1.0zM268.3 523.9h1.0v1.0h-1.0zM270.7 481.3h1.0v1.0h-1.0zM261.4 524.0h1.0v1.0h-1.0zM263.9 479.5h1.0v1.0h-1.0zM276.5 506.1h1.0v1.0h-1.0zM303.8 469.4h1.0v1.0h-1.0zM262.7 509.4h1.0v1.0h-1.0zM273.8 507.4h1.0v1.0h-1.0zM285.9 470.1h1.0v1.0h-1.0zM243.9 475.4h1.0v1.0h-1.0zM261.0 475.7h1.0v1.0h-1.0zM259.8 471.5h1.0v1.0h-1.0zM242.3 497.0h1.0v1.0h-1.0zM291.5 474.3h1.0v1.0h-1.0zM246.8 509.7h1.0v1.0h-1.0zM245.8 473.1h1.0v1.0h-1.0zM273.5 482.9h1.0v1.0h-1.0zM293.3 495.9h1.0v1.0h-1.0zM275.7 487.7h1.0v1.0h-1.0zM242.4 515.5h1.0v1.0h-1.0zM266.7 515.8h1.0v1.0h-1.0zM247.6 491.3h1.0v1.0h-1.0zM276.8 474.0h1.0v1.0h-1.0zM245.5 522.6h1.0v1.0h-1.0zM303.7 526.6h1.0v1.0h-1.0zM277.1 510.0h1.0v1.0h-1.0zM281.0 494.1h1.0v1.0h-1.0zM252.1 504.3h1.0v1.0h-1.0zM270.3 506.6h1.0v1.0h-1.0zM243.3 482.7h1.0v1.0h-1.0zM248.1 511.9h1.0v1.0h-1.0zM272.7 482.2h1.0v1.0h-1.0zM293.1 496.8h1.0v1.0h-1.0zM260.0 488.8h1.0v1.0h-1.0zM240.6 468.2h1.0v1.0h-1.0zM243.0 524.2h1.0v1.0h-1.0zM299.6 498.3h1.0v1.0h-1.0zM303.8 498.0h1.0v1.0h-1.0zM286.4 470.9h1.0v1.0h-1.0zM269.9 502.4h1.0v1.0h-1.0zM268.0 505.0h1.0v1.0h-1.0zM263.6 505.1h1.0v1.0h-1.0zM254.5 494.9h1.0v1.0h-1.0zM269.3 497.1h1.0v1.0h-1.0zM244.2 479.5h1.0v1.0h-1.0zM288.7 474.7h1.0v1.0h-1.0zM272.6 526.3h1.0v1.0h-1.0zM281.5 510.1h1.0v1.0h-1.0zM292.4 524.6h1.0v1.0h-1.0zM266.6 489.0h1.0v1.0h-1.0zM291.3 466.0h1.0v1.0h-1.0zM272.0 481.3h1.0v1.0h-1.0zM278.0 510.0h1.0v1.0h-1.0zM298.5 495.9h1.0v1.0h-1.0zM287.1 469.3h1.0v1.0h-1.0zM284.9 522.2h1.0v1.0h-1.0zM281.9 494.9h1.0v1.0h-1.0zM274.9 490.0h1.0v1.0h-1.0zM252.5 476.7h1.0v1.0h-1.0zM294.0 496.5h1.0v1.0h-1.0zM243.1 502.7h1.0v1.0h-1.0zM296.4 504.9h1.0v1.0h-1.0zM252.6 523.6h1.0v1.0h-1.0zM252.7 496.0h1.0v1.0h-1.0zM271.5 474.7h1.0v1.0h-1.0zM258.5 476.0h1.0v1.0h-1.0zM251.8 467.0h1.0v1.0h-1.0zM283.9 505.8h1.0v1.0h-1.0zM257.4 523.6h1.0v1.0h-1.0zM269.0 492.8h1.0v1.0h-1.0zM302.9 504.8h1.0v1.0h-1.0zM271.9 510.9h1.0v1.0h-1.0zM290.3 483.6h1.0v1.0h-1.0zM245.2 509.9h1.0v1.0h-1.0zM290.8 501.7h1.0v1.0h-1.0zM248.4 510.7h1.0v1.0h-1.0zM252.3 514.0h1.0v1.0h-1.0zM282.4 504.0h1.0v1.0h-1.0zM245.5 487.1h1.0v1.0h-1.0zM289.8 471.3h1.0v1.0h-1.0zM243.1 490.1h1.0v1.0h-1.0zM297.9 503.6h1.0v1.0h-1.0zM256.0 469.5h1.0v1.0h-1.0zM296.8 516.8h1.0v1.0h-1.0zM287.7 477.3h1.0v1.0h-1.0zM291.0 465.0h1.0v1.0h-1.0zM252.1 484.3h1.0v1.0h-1.0zM304.9 466.6h1.0v1.0h-1.0zM251.3 510.1h1.0v1.0h-1.0zM291.8 481.1h1.0v1.0h-1.0zM245.6 517.5h1.0v1.0h-1.0zM305.8 520.9h1.0v1.0h-1.0zM278.6 469.7h1.0v1.0h-1.0zM290.3 504.8h1.0v1.0h-1.0zM296.5 511.6h1.0v1.0h-1.0zM274.3 525.1h1.0v1.0h-1.0zM271.6 492.1h1.0v1.0h-1.0zM283.4 513.4h1.0v1.0h-1.0zM280.0 522.9h1.0v1.0h-1.0zM258.8 520.2h1.0v1.0h-1.0zM299.6 485.9h1.0v1.0h-1.0zM242.4 501.8h1.0v1.0h-1.0zM282.2 524.1h1.0v1.0h-1.0zM278.1 509.4h1.0v1.0h-1.0zM291.6 474.9h1.0v1.0h-1.0zM285.4 491.7h1.0v1.0h-1.0zM255.0 481.5h1.0v1.0h-1.0zM264.9 510.1h1.0v1.0h-1.0zM277.7 484.3h1.0v1.0h-1.0zM244.2 513.4h1.0v1.0h-1.0zM291.2 516.4h1.0v1.0h-1.0zM293.4 468.3h1.0v1.0h-1.0zM259.4 493.2h1.0v1.0h-1.0zM260.5 515.6h1.0v1.0h-1.0zM254.3 465.3h1.0v1.0h-1.0zM270.9 467.5h1.0v1.0h-1.0zM242.4 502.1h1.0v1.0h-1.0zM281.2 498.1h1.0v1.0h-1.0zM245.2 499.3h1.0v1.0h-1.0zM275.7 483.3h1.0v1.0h-1.0zM255.5 474.1h1.0v1.0h-1.0zM273.0 487.2h1.0v1.0h-1.0zM279.9 506.3h1.0v1.0h-1.0zM259.1 502.2h1.0v1.0h-1.0zM257.9 510.8h1.0v1.0h-1.0zM254.2 501.4h1.0v1.0h-1.0zM290.0 514.1h1.0v1.0h-1.0zM276.2 521.1h1.0v1.0h-1.0zM306.9 513.7h1.0v1.0h-1.0zM264.6 481.0h1.0v1.0h-1.0zM282.7 472.4h1.0v1.0h-1.0zM252.4 470.3h1.0v1.0h-1.0zM284.3 488.5h1.0v1.0h-1.0zM302.5 514.6h1.0v1.0h-1.0zM276.3 485.6h1.0v1.0h-1.0zM262.1 467.7h1.0v1.0h-1.0zM248.0 518.6h1.0v1.0h-1.0zM260.6 464.9h1.0v1.0h-1.0zM306.5 488.0h1.0v1.0h-1.0zM292.6 492.6h1.0v1.0h-1.0zM305.7 469.4h1.0v1.0h-1.0zM272.4 504.7h1.0v1.0h-1.0zM242.1 521.5h1.0v1.0h-1.0zM263.3 506.6h1.0v1.0h-1.0zM245.8 469.3h1.0v1.0h-1.0zM246.3 513.5h1.0v1.0h-1.0zM303.9 521.4h1.0v1.0h-1.0zM276.2 470.1h1.0v1.0h-1.0zM292.8 495.9h1.0v1.0h-1.0zM293.2 503.8h1.0v1.0h-1.0zM278.6 475.0h1.0v1.0h-1.0zM250.1 469.5h1.0v1.0h-1.0zM269.6 482.4h1.0v1.0h-1.0zM304.7 467.4h1.0v1.0h-1.0zM291.6 471.9h1.0v1.0h-1.0zM247.4 521.8h1.0v1.0h-1.0zM255.3 501.4h1.0v1.0h-1.0zM279.9 489.2h1.0v1.0h-1.0zM264.1 473.1h1.0v1.0h-1.0zM287.3 487.5h1.0v1.0h-1.0zM280.9 515.3h1.0v1.0h-1.0zM245.6 490.7h1.0v1.0h-1.0zM264.2 522.4h1.0v1.0h-1.0zM282.3 476.7h1.0v1.0h-1.0zM271.4 465.3h1.0v1.0h-1.0zM275.1 468.7h1.0v1.0h-1.0zM249.8 496.0h1.0v1.0h-1.0zM276.7 477.6h1.0v1.0h-1.0zM279.8 483.8h1.0v1.0h-1.0zM287.8 467.7h1.0v1.0h-1.0zM297.1 492.3h1.0v1.0h-1.0zM252.1 482.5h1.0v1.0h-1.0zM282.8 470.3h1.0v1.0h-1.0zM301.9 478.2h1.0v1.0h-1.0zM268.1 468.9h1.0v1.0h-1.0zM271.2 524.2h1.0v1.0h-1.0zM253.1 475.5h1.0v1.0h-1.0zM277.3 504.2h1.0v1.0h-1.0zM250.1 478.0h1.0v1.0h-1.0zM281.2 479.3h1.0v1.0h-1.0zM242.4 507.6h1.0v1.0h-1.0zM298.9 514.5h1.0v1.0h-1.0zM298.1 477.6h1.0v1.0h-1.0zM261.4 501.7h1.0v1.0h-1.0zM281.9 503.3h1.0v1.0h-1.0zM277.7 478.9h1.0v1.0h-1.0zM256.5 469.7h1.0v1.0h-1.0zM244.4 500.5h1.0v1.0h-1.0zM246.3 518.9h1.0v1.0h-1.0zM305.0 473.5h1.0v1.0h-1.0zM305.5 503.2h1.0v1.0h-1.0zM240.9 488.2h1.0v1.0h-1.0zM264.8 483.6h1.0v1.0h-1.0zM245.0 479.5h1.0v1.0h-1.0zM241.7 492.3h1.0v1.0h-1.0zM272.9 478.8h1.0v1.0h-1.0zM302.7 519.5h1.0v1.0h-1.0zM274.1 514.3h1.0v1.0h-1.0zM264.3 511.2h1.0v1.0h-1.0zM292.8 486.3h1.0v1.0h-1.0zM290.3 486.3h1.0v1.0h-1.0zM252.2 490.5h1.0v1.0h-1.0zM248.1 509.1h1.0v1.0h-1.0zM257.4 495.4h1.0v1.0h-1.0zM294.9 501.6h1.0v1.0h-1.0zM301.7 509.5h1.0v1.0h-1.0zM287.1 510.5h1.0v1.0h-1.0zM287.0 521.5h1.0v1.0h-1.0zM280.5 505.5h1.0v1.0h-1.0zM277.5 497.6h1.0v1.0h-1.0zM303.8 483.1h1.0v1.0h-1.0zM253.3 495.6h1.0v1.0h-1.0zM261.5 508.8h1.0v1.0h-1.0zM283.3 464.5h1.0v1.0h-1.0zM254.6 502.9h1.0v1.0h-1.0zM267.2 506.7h1.0v1.0h-1.0zM272.1 471.3h1.0v1.0h-1.0zM286.9 525.0h1.0v1.0h-1.0zM246.7 502.7h1.0v1.0h-1.0zM281.8 502.5h1.0v1.0h-1.0zM274.5 495.9h1.0v1.0h-1.0zM307.1 518.6h1.0v1.0h-1.0zM269.8 515.0h1.0v1.0h-1.0zM285.4 514.5h1.0v1.0h-1.0zM307.7 468.8h1.0v1.0h-1.0zM254.8 478.8h1.0v1.0h-1.0zM295.6 521.9h1.0v1.0h-1.0zM255.7 494.6h1.0v1.0h-1.0zM300.4 509.3h1.0v1.0h-1.0zM280.0 520.0h1.0v1.0h-1.0zM302.7 470.1h1.0v1.0h-1.0zM305.5 482.5h1.0v1.0h-1.0zM281.8 511.2h1.0v1.0h-1.0zM260.3 483.5h1.0v1.0h-1.0zM301.4 513.6h1.0v1.0h-1.0zM306.2 470.2h1.0v1.0h-1.0zM282.7 510.4h1.0v1.0h-1.0zM304.9 509.5h1.0v1.0h-1.0zM259.4 470.7h1.0v1.0h-1.0zM252.2 480.5h1.0v1.0h-1.0zM278.9 484.5h1.0v1.0h-1.0zM250.5 469.8h1.0v1.0h-1.0zM286.6 515.1h1.0v1.0h-1.0zM248.8 496.4h1.0v1.0h-1.0zM306.5 486.8h1.0v1.0h-1.0zM276.5 514.8h1.0v1.0h-1.0zM242.1 518.7h1.0v1.0h-1.0zM292.6 510.2h1.0v1.0h-1.0zM263.6 495.0h1.0v1.0h-1.0zM303.8 468.2h1.0v1.0h-1.0zM246.0 504.2h1.0v1.0h-1.0zM304.6 473.7h1.0v1.0h-1.0zM253.2 493.0h1.0v1.0h-1.0zM293.6 499.5h1.0v1.0h-1.0zM284.9 467.6h1.0v1.0h-1.0zM253.9 500.8h1.0v1.0h-1.0zM289.3 470.1h1.0v1.0h-1.0zM246.6 484.0h1.0v1.0h-1.0zM268.4 485.1h1.0v1.0h-1.0zM252.0 469.0h1.0v1.0h-1.0zM283.9 523.7h1.0v1.0h-1.0zM283.2 521.6h1.0v1.0h-1.0zM249.0 502.7h1.0v1.0h-1.0zM265.1 517.1h1.0v1.0h-1.0zM280.8 502.6h1.0v1.0h-1.0zM302.0 523.8h1.0v1.0h-1.0zM249.7 491.6h1.0v1.0h-1.0zM246.2 499.3h1.0v1.0h-1.0zM255.6 507.9h1.0v1.0h-1.0zM264.4 464.9h1.0v1.0h-1.0zM300.3 472.3h1.0v1.0h-1.0zM258.6 496.8h1.0v1.0h-1.0zM244.3 512.4h1.0v1.0h-1.0zM288.7 471.7h1.0v1.0h-1.0zM282.3 472.4h1.0v1.0h-1.0zM276.2 470.2h1.0v1.0h-1.0zM259.5 492.4h1.0v1.0h-1.0zM277.1 505.1h1.0v1.0h-1.0zM302.9 485.3h1.0v1.0h-1.0zM264.1 477.4h1.0v1.0h-1.0zM290.1 487.2h1.0v1.0h-1.0zM254.8 476.4h1.0v1.0h-1.0zM268.8 516.4h1.0v1.0h-1.0zM270.0 515.0h1.0v1.0h-1.0zM272.2 500.6h1.0v1.0h-1.0zM257.7 489.9h1.0v1.0h-1.0zM289.3 469.6h1.0v1.0h-1.0zM271.1 480.1h1.0v1.0h-1.0zM260.1 485.4h1.0v1.0h-1.0zM253.8 500.3h1.0v1.0h-1.0zM243.2 479.2h1.0v1.0h-1.0zM258.2 475.7h1.0v1.0h-1.0zM296.7 507.1h1.0v1.0h-1.0zM300.2 472.7h1.0v1.0h-1.0zM253.1 483.9h1.0v1.0h-1.0zM274.7 516.3h1.0v1.0h-1.0z" fill="#f0bcec" opacity="0.8"/><path d="M296.7 517.9h0M240.9 486.2h0M252.3 517.2h0M283.3 478.5h0M306.8 502.5h0M290.3 505.6h0M292.5 482.7h0M269.2 500.4h0M288.0 477.9h0M269.4 474.2h0M260.4 511.6h0M281.6 493.2h0M272.0 514.1h0M241.7 496.7h0M272.5 478.0h0M299.7 465.4h0" stroke="#eccdf0" stroke-width="0.8" stroke-linecap="round" fill="none"/><path d="M242.3 485.3h0M299.3 477.5h0M270.1 478.1h0M307.7 515.2h0M276.8 494.8h0M302.3 516.3h0M297.9 475.3h0M262.1 467.3h0M272.8 468.2h0M267.9 526.1h0M289.0 499.7h0M304.1 468.6h0M300.0 476.5h0M246.6 489.7h0M247.6 520.5h0M256.9 469.5h0M286.8 502.5h0M261.7 485.0h0M277.9 508.8h0M247.4 484.1h0M276.8 518.2h0M254.5 503.0h0M299.9 512.4h0M299.4 517.2h0M283.6 503.6h0M246.6 484.9h0M301.8 464.4h0M264.4 514.1h0M280.2 507.7h0M282.4 488.6h0M246.4 471.7h0M290.4 477.2h0M248.3 471.9h0M302.0 472.9h0M279.0 466.0h0M299.1 508.5h0" stroke="#eccdf0" stroke-width="1.2" stroke-linecap="round" fill="none"/><path d="M307.4 508.8h0M264.4 525.2h0M277.2 494.7h0M254.5 524.0h0M303.5 482.9h0M240.6 524.7h0M265.9 499.0h0M291.0 469.3h0M277.2 475.2h0M299.9 472.5h0M305.0 486.5h0M261.6 515.1h0M300.6 513.0h0M262.9 491.7h0M246.8 509.4h0M271.7 523.7h0M260.2 495.4h0M307.2 521.0h0M306.2 510.0h0M263.2 523.4h0M274.6 489.9h0M244.2 478.8h0M289.6 486.5h0M247.4 469.0h0M266.1 525.0h0M283.0 505.2h0M247.2 487.4h0M289.6 501.7h0M242.5 486.8h0M265.8 481.7h0M260.1 478.5h0M307.1 513.0h0M248.7 523.5h0M284.2 524.4h0M297.3 484.2h0M303.5 520.4h0M291.8 513.3h0M269.0 500.0h0" stroke="#eccdf0" stroke-width="1.6" stroke-linecap="round" fill="none"/><path d="M303.4 511.4h1.3v1.3h-1.3zM255.6 508.0h1.3v1.3h-1.3zM299.0 464.8h1.3v1.3h-1.3zM303.6 491.3h1.3v1.3h-1.3zM297.6 465.2h1.3v1.3h-1.3zM262.0 483.3h1.3v1.3h-1.3zM255.1 505.3h1.3v1.3h-1.3zM294.1 504.8h1.3v1.3h-1.3zM301.7 471.5h1.3v1.3h-1.3zM259.8 489.4h1.3v1.3h-1.3zM293.9 510.3h1.3v1.3h-1.3zM307.2 518.7h1.3v1.3h-1.3zM276.2 510.4h1.3v1.3h-1.3zM295.6 496.8h1.3v1.3h-1.3zM286.2 517.5h1.3v1.3h-1.3zM296.5 474.2h1.3v1.3h-1.3zM242.5 508.4h1.3v1.3h-1.3zM295.4 476.2h1.3v1.3h-1.3zM297.8 511.5h1.3v1.3h-1.3zM251.6 474.0h1.3v1.3h-1.3zM284.8 503.2h1.3v1.3h-1.3zM251.3 520.9h1.3v1.3h-1.3zM255.0 516.2h1.3v1.3h-1.3zM304.1 471.9h1.3v1.3h-1.3zM287.7 498.6h1.3v1.3h-1.3zM302.1 492.0h1.3v1.3h-1.3zM268.2 478.9h1.3v1.3h-1.3zM297.5 484.3h1.3v1.3h-1.3zM301.8 466.5h1.3v1.3h-1.3zM300.3 465.6h1.3v1.3h-1.3zM289.2 523.5h1.3v1.3h-1.3zM262.1 501.2h1.3v1.3h-1.3zM268.4 468.5h1.3v1.3h-1.3zM297.0 495.1h1.3v1.3h-1.3zM294.5 466.6h1.3v1.3h-1.3zM251.5 478.7h1.3v1.3h-1.3zM295.4 465.8h1.3v1.3h-1.3zM242.0 487.9h1.3v1.3h-1.3zM266.5 517.0h1.3v1.3h-1.3zM298.3 479.3h1.3v1.3h-1.3zM290.4 486.6h1.3v1.3h-1.3zM292.1 505.4h1.3v1.3h-1.3zM245.2 493.6h1.3v1.3h-1.3zM269.0 493.0h1.3v1.3h-1.3zM277.9 507.4h1.3v1.3h-1.3zM267.6 496.7h1.3v1.3h-1.3zM296.2 506.7h1.3v1.3h-1.3zM253.5 473.0h1.3v1.3h-1.3zM258.8 523.6h1.3v1.3h-1.3zM266.6 519.1h1.3v1.3h-1.3zM305.4 507.9h1.3v1.3h-1.3zM265.3 510.7h1.3v1.3h-1.3zM274.3 523.6h1.3v1.3h-1.3zM274.2 504.0h1.3v1.3h-1.3zM286.6 503.6h1.3v1.3h-1.3zM252.5 499.8h1.3v1.3h-1.3zM269.3 506.7h1.3v1.3h-1.3zM292.6 477.2h1.3v1.3h-1.3zM265.4 480.3h1.3v1.3h-1.3zM305.2 494.9h1.3v1.3h-1.3zM270.8 524.4h1.3v1.3h-1.3zM293.2 517.8h1.3v1.3h-1.3zM274.4 472.3h1.3v1.3h-1.3zM265.5 469.6h1.3v1.3h-1.3zM267.4 492.4h1.3v1.3h-1.3zM272.8 525.2h1.3v1.3h-1.3zM276.3 474.7h1.3v1.3h-1.3zM252.5 506.7h1.3v1.3h-1.3zM275.2 489.9h1.3v1.3h-1.3zM273.7 489.9h1.3v1.3h-1.3zM286.1 501.3h1.3v1.3h-1.3zM243.8 495.2h1.3v1.3h-1.3zM257.3 500.6h1.3v1.3h-1.3zM271.7 511.7h1.3v1.3h-1.3zM305.4 510.6h1.3v1.3h-1.3zM282.1 496.0h1.3v1.3h-1.3zM248.1 509.8h1.3v1.3h-1.3zM253.7 488.0h1.3v1.3h-1.3zM279.8 480.9h1.3v1.3h-1.3zM298.6 498.4h1.3v1.3h-1.3zM306.0 465.8h1.3v1.3h-1.3zM271.7 484.5h1.3v1.3h-1.3zM279.2 504.7h1.3v1.3h-1.3zM280.3 522.9h1.3v1.3h-1.3zM270.2 487.4h1.3v1.3h-1.3zM291.0 498.9h1.3v1.3h-1.3zM258.6 521.7h1.3v1.3h-1.3zM255.7 469.1h1.3v1.3h-1.3zM276.7 521.0h1.3v1.3h-1.3zM298.0 515.2h1.3v1.3h-1.3zM281.6 496.2h1.3v1.3h-1.3zM260.1 474.7h1.3v1.3h-1.3zM270.3 516.2h1.3v1.3h-1.3zM277.8 525.4h1.3v1.3h-1.3zM294.3 498.2h1.3v1.3h-1.3zM280.3 490.4h1.3v1.3h-1.3zM301.5 516.2h1.3v1.3h-1.3zM252.5 520.5h1.3v1.3h-1.3zM286.1 486.8h1.3v1.3h-1.3zM290.6 490.6h1.3v1.3h-1.3zM287.2 495.8h1.3v1.3h-1.3zM283.0 521.7h1.3v1.3h-1.3zM300.4 494.3h1.3v1.3h-1.3zM266.6 508.9h1.3v1.3h-1.3zM285.4 470.3h1.3v1.3h-1.3zM274.8 481.8h1.3v1.3h-1.3zM284.1 474.8h1.3v1.3h-1.3zM260.6 480.1h1.3v1.3h-1.3zM259.4 499.6h1.3v1.3h-1.3zM298.6 504.3h1.3v1.3h-1.3zM284.0 511.8h1.3v1.3h-1.3zM266.8 491.0h1.3v1.3h-1.3zM284.3 477.3h1.3v1.3h-1.3zM291.2 521.7h1.3v1.3h-1.3zM299.8 468.5h1.3v1.3h-1.3zM302.1 478.3h1.3v1.3h-1.3zM249.3 502.8h1.3v1.3h-1.3zM263.8 475.6h1.3v1.3h-1.3zM281.4 497.8h1.3v1.3h-1.3zM276.6 496.2h1.3v1.3h-1.3zM282.0 512.8h1.3v1.3h-1.3zM289.0 508.3h1.3v1.3h-1.3zM296.2 493.6h1.3v1.3h-1.3zM283.5 471.4h1.3v1.3h-1.3zM246.0 492.6h1.3v1.3h-1.3zM286.3 479.0h1.3v1.3h-1.3zM305.1 482.4h1.3v1.3h-1.3zM273.6 493.5h1.3v1.3h-1.3zM305.8 474.0h1.3v1.3h-1.3zM257.4 503.8h1.3v1.3h-1.3zM264.9 485.7h1.3v1.3h-1.3zM249.4 521.4h1.3v1.3h-1.3zM270.3 500.4h1.3v1.3h-1.3zM257.0 522.6h1.3v1.3h-1.3zM247.6 507.8h1.3v1.3h-1.3zM244.9 497.5h1.3v1.3h-1.3zM262.4 523.5h1.3v1.3h-1.3zM270.0 516.6h1.3v1.3h-1.3zM242.5 479.1h1.3v1.3h-1.3zM306.9 487.4h1.3v1.3h-1.3zM243.1 480.5h1.3v1.3h-1.3zM264.9 497.2h1.3v1.3h-1.3zM266.2 483.4h1.3v1.3h-1.3zM272.4 493.6h1.3v1.3h-1.3zM252.8 496.6h1.3v1.3h-1.3zM279.3 500.1h1.3v1.3h-1.3zM290.3 492.6h1.3v1.3h-1.3zM254.8 523.1h1.3v1.3h-1.3zM248.4 483.3h1.3v1.3h-1.3zM268.6 490.1h1.3v1.3h-1.3zM254.7 517.9h1.3v1.3h-1.3zM260.9 498.4h1.3v1.3h-1.3zM281.5 472.5h1.3v1.3h-1.3zM269.5 472.7h1.3v1.3h-1.3zM277.0 509.8h1.3v1.3h-1.3zM298.0 522.8h1.3v1.3h-1.3zM248.1 492.9h1.3v1.3h-1.3zM285.3 487.7h1.3v1.3h-1.3zM304.1 495.2h1.3v1.3h-1.3zM299.0 468.6h1.3v1.3h-1.3zM266.7 507.7h1.3v1.3h-1.3zM296.9 495.2h1.3v1.3h-1.3zM298.3 511.7h1.3v1.3h-1.3zM268.3 508.5h1.3v1.3h-1.3zM275.2 471.4h1.3v1.3h-1.3zM301.0 516.9h1.3v1.3h-1.3zM300.5 479.0h1.3v1.3h-1.3zM292.8 466.8h1.3v1.3h-1.3zM274.1 483.2h1.3v1.3h-1.3zM274.5 488.2h1.3v1.3h-1.3zM277.5 491.4h1.3v1.3h-1.3zM291.6 505.3h1.3v1.3h-1.3zM259.2 476.7h1.3v1.3h-1.3zM256.5 484.7h1.3v1.3h-1.3zM269.1 495.8h1.3v1.3h-1.3zM292.0 525.5h1.3v1.3h-1.3zM258.1 482.8h1.3v1.3h-1.3zM275.4 464.8h1.3v1.3h-1.3zM283.2 466.7h1.3v1.3h-1.3zM280.5 500.9h1.3v1.3h-1.3zM266.3 526.0h1.3v1.3h-1.3zM261.5 465.5h1.3v1.3h-1.3zM247.7 479.4h1.3v1.3h-1.3zM290.2 510.4h1.3v1.3h-1.3zM264.3 519.3h1.3v1.3h-1.3zM251.5 478.6h1.3v1.3h-1.3zM278.9 497.5h1.3v1.3h-1.3zM293.7 483.6h1.3v1.3h-1.3zM301.2 503.7h1.3v1.3h-1.3zM286.9 500.1h1.3v1.3h-1.3zM254.7 499.4h1.3v1.3h-1.3zM304.0 465.3h1.3v1.3h-1.3zM262.7 483.6h1.3v1.3h-1.3zM257.7 512.4h1.3v1.3h-1.3zM284.1 472.8h1.3v1.3h-1.3zM287.9 519.0h1.3v1.3h-1.3zM244.9 465.6h1.3v1.3h-1.3zM281.0 519.2h1.3v1.3h-1.3zM277.5 495.9h1.3v1.3h-1.3zM267.9 499.6h1.3v1.3h-1.3zM301.9 501.6h1.3v1.3h-1.3zM290.7 493.4h1.3v1.3h-1.3zM300.0 512.2h1.3v1.3h-1.3zM274.7 483.2h1.3v1.3h-1.3zM260.7 525.3h1.3v1.3h-1.3zM283.6 468.8h1.3v1.3h-1.3zM275.5 491.0h1.3v1.3h-1.3zM280.8 482.0h1.3v1.3h-1.3zM301.4 494.4h1.3v1.3h-1.3zM296.3 480.6h1.3v1.3h-1.3zM300.2 498.4h1.3v1.3h-1.3zM277.2 491.4h1.3v1.3h-1.3zM303.9 499.4h1.3v1.3h-1.3zM276.5 487.0h1.3v1.3h-1.3zM271.3 481.2h1.3v1.3h-1.3zM270.4 480.8h1.3v1.3h-1.3zM245.7 487.1h1.3v1.3h-1.3zM242.3 505.7h1.3v1.3h-1.3zM246.9 520.7h1.3v1.3h-1.3zM261.8 481.3h1.3v1.3h-1.3zM277.5 482.5h1.3v1.3h-1.3zM289.2 483.3h1.3v1.3h-1.3zM302.5 467.0h1.3v1.3h-1.3zM244.3 519.3h1.3v1.3h-1.3zM286.8 480.8h1.3v1.3h-1.3zM283.8 486.8h1.3v1.3h-1.3zM274.7 481.5h1.3v1.3h-1.3zM276.8 504.8h1.3v1.3h-1.3zM297.4 480.3h1.3v1.3h-1.3zM278.9 499.7h1.3v1.3h-1.3zM299.3 494.3h1.3v1.3h-1.3zM298.7 521.9h1.3v1.3h-1.3zM268.0 489.6h1.3v1.3h-1.3zM305.7 500.4h1.3v1.3h-1.3zM276.2 512.8h1.3v1.3h-1.3zM281.2 496.6h1.3v1.3h-1.3zM284.8 480.7h1.3v1.3h-1.3zM265.9 464.9h1.3v1.3h-1.3zM289.0 515.6h1.3v1.3h-1.3zM290.0 524.8h1.3v1.3h-1.3z" fill="#7e52b4" opacity="0.7"/></g></g>
<rect x="241.25" y="464.4" width="65.8" height="62.2" fill="none" stroke="#2a2a2a" stroke-width="1.5"/>
<g clip-path="url(#c02)"><g filter="url(#soft)"><rect x="29.3" y="529.1" width="67.1" height="63.7" fill="#e79aa8"/><path d="M82.8 538.5h0M78.4 570.7h0M66.8 536.5h0M91.8 555.2h0M95.1 572.7h0M48.9 553.4h0M31.9 542.8h0M32.2 591.8h0M85.0 551.9h0M70.3 551.8h0M52.3 562.0h0M56.9 587.3h0M67.8 547.4h0M90.6 539.3h0M48.7 541.1h0M31.8 571.0h0M58.6 532.1h0M92.1 539.7h0M54.4 549.5h0M58.1 592.2h0M64.6 554.9h0M53.9 555.4h0M75.7 552.5h0M32.0 581.7h0M88.6 561.3h0M31.9 534.5h0M41.1 548.0h0M83.0 541.5h0M85.9 556.8h0M79.3 537.6h0M43.2 571.9h0M45.7 578.7h0M59.2 561.0h0M39.6 540.4h0M67.5 537.5h0M41.1 535.3h0M86.8 563.3h0M53.2 569.3h0M72.2 530.6h0M85.0 583.0h0M91.6 580.9h0M32.4 590.6h0M67.0 557.8h0M72.6 574.9h0M67.2 570.8h0M72.0 583.6h0M40.6 555.8h0M47.5 546.9h0M75.7 570.9h0M77.5 561.5h0M58.6 530.7h0M81.8 536.2h0M52.2 590.7h0M57.2 563.0h0M53.0 543.7h0M82.1 548.1h0M95.5 574.1h0M65.8 569.0h0M95.9 557.5h0M96.4 591.4h0M71.5 534.0h0M83.4 590.2h0M38.4 542.1h0M40.4 569.8h0M42.1 579.0h0M41.2 573.5h0M85.7 585.7h0M53.2 535.4h0M60.1 559.0h0M45.3 541.0h0M65.8 545.5h0M58.7 557.9h0M36.5 537.3h0M46.9 548.6h0M78.2 560.3h0M37.3 553.3h0M70.9 581.4h0M85.0 531.9h0M87.1 548.4h0M44.1 538.5h0M57.1 533.0h0M66.3 544.8h0M31.0 536.7h0M38.0 538.8h0M34.5 558.4h0M60.9 591.4h0M72.9 530.6h0M83.9 531.9h0M76.9 544.7h0M61.8 546.0h0M68.1 537.0h0M41.0 573.7h0M69.9 557.4h0M93.4 573.3h0M64.3 557.2h0M95.5 536.9h0M86.4 530.8h0M31.0 571.7h0M43.9 564.4h0M75.9 564.6h0M85.3 562.8h0M66.3 542.7h0M46.4 591.8h0M74.3 548.7h0M77.3 567.2h0M82.7 584.6h0M84.1 582.8h0M88.0 581.5h0M89.6 535.0h0M71.4 551.2h0M93.9 589.3h0M69.1 535.2h0M78.5 543.7h0M88.5 574.5h0M34.1 577.2h0M91.5 580.1h0M90.4 541.6h0M65.5 549.6h0M43.2 551.5h0M50.9 548.4h0M35.8 555.0h0M33.6 580.8h0M45.8 582.6h0M46.1 563.7h0M50.6 561.9h0M56.4 585.6h0M82.1 576.9h0M41.3 586.9h0M69.2 576.3h0M48.7 552.0h0M35.1 583.1h0M84.9 544.4h0M61.9 578.0h0M95.8 585.6h0M50.1 552.2h0M35.3 569.8h0M53.9 529.2h0M68.9 534.8h0M82.0 583.4h0M95.2 542.5h0M60.7 578.8h0M62.1 551.5h0M46.4 581.9h0M81.2 537.0h0M58.8 532.9h0M31.8 587.0h0M84.6 555.3h0M46.2 567.8h0M79.1 563.7h0M60.2 582.5h0M57.0 566.2h0M79.6 582.7h0M48.2 582.6h0M95.6 541.5h0M93.7 577.2h0M55.9 564.1h0M62.9 571.8h0M55.8 570.9h0M38.9 542.6h0M48.3 534.2h0M51.7 547.9h0M53.9 546.8h0M49.6 561.1h0M68.4 557.2h0M52.6 587.5h0M77.5 577.5h0M41.3 564.1h0M94.5 570.4h0M94.6 581.9h0M82.4 588.4h0M40.7 545.8h0M52.0 538.0h0M32.3 576.2h0M94.6 574.0h0M44.9 587.5h0M36.2 571.9h0M47.9 549.0h0M45.4 563.1h0M45.1 569.0h0M43.4 533.0h0M60.2 552.5h0" stroke="#d82838" stroke-width="1.2" stroke-linecap="round" fill="none"/><path d="M80.0 535.9h0M65.3 529.9h0M78.3 537.0h0M41.3 563.9h0M37.5 587.2h0M73.8 559.0h0M56.2 564.1h0M57.8 587.0h0M83.9 563.1h0M77.6 570.7h0M77.7 574.3h0M61.8 536.8h0M79.8 539.6h0M85.9 530.4h0M44.4 533.2h0M92.3 584.5h0M40.5 576.2h0M79.8 529.5h0M38.2 549.1h0M60.8 589.7h0M93.1 549.3h0M67.6 534.4h0M51.4 534.6h0M38.2 589.7h0M44.9 557.7h0M84.0 563.3h0M64.1 540.4h0M86.4 552.0h0M81.9 540.6h0M47.2 579.7h0M79.0 570.6h0M50.4 546.7h0M85.1 529.4h0M88.7 530.0h0M43.3 542.5h0M83.0 569.1h0M81.1 583.9h0M32.4 540.7h0M36.4 540.2h0M71.4 534.7h0M44.8 592.3h0M67.1 533.6h0M50.9 592.6h0M49.4 550.1h0M86.2 590.8h0M30.6 539.4h0M76.1 539.5h0M47.2 587.3h0M77.6 554.0h0M41.2 569.0h0M30.9 529.6h0M32.2 547.5h0M59.9 574.0h0M76.4 533.4h0M47.7 559.8h0M45.5 587.9h0M53.1 561.5h0M63.9 530.7h0M37.0 559.6h0M54.0 563.4h0M89.8 583.5h0M73.9 568.6h0M74.4 529.5h0M41.9 543.0h0M87.5 588.4h0M53.4 540.5h0M87.3 563.1h0M92.2 544.1h0M83.3 559.8h0M83.8 579.2h0M49.8 554.3h0M66.7 587.5h0M72.8 550.1h0M54.8 530.6h0M57.1 542.2h0M34.2 589.0h0M55.4 580.7h0M75.4 571.4h0M69.4 559.3h0M66.0 556.8h0M37.4 534.5h0M58.9 584.7h0M72.8 543.9h0M49.5 578.5h0M35.1 585.7h0M81.1 539.9h0M64.8 544.2h0M33.4 560.4h0M48.8 539.8h0M31.3 529.7h0M77.0 588.5h0M91.6 578.2h0M60.0 573.8h0M83.4 540.1h0M82.2 582.0h0M67.7 562.6h0M40.1 583.8h0M62.3 568.8h0M39.8 566.2h0M82.8 578.9h0M72.2 563.6h0M69.3 557.4h0M87.7 591.3h0M69.6 553.6h0M53.8 560.6h0M52.7 563.4h0M85.4 577.3h0M91.3 534.2h0M30.7 538.6h0M32.4 558.8h0M92.1 545.5h0M61.7 547.3h0M46.4 541.1h0M79.7 575.7h0M72.2 580.3h0M68.1 574.4h0M69.7 538.9h0M48.1 529.5h0M71.1 531.5h0M95.6 570.7h0M86.2 566.3h0M37.9 592.1h0M58.8 567.9h0M82.2 542.5h0M42.2 583.9h0M34.9 581.1h0M38.1 529.3h0M96.1 553.5h0M57.6 562.5h0M69.3 586.3h0M66.2 557.6h0M94.3 570.3h0M60.9 542.6h0M44.1 543.4h0M36.1 583.0h0M43.5 578.3h0M92.2 560.6h0M87.2 569.3h0M87.2 547.7h0M63.8 564.9h0M46.4 551.7h0M66.2 582.9h0M67.1 577.9h0M49.0 567.2h0M32.6 563.4h0M44.0 590.4h0M93.4 532.9h0M46.9 537.9h0M63.1 587.0h0M90.9 541.4h0M47.8 538.2h0M75.3 564.2h0M32.2 571.7h0M30.0 536.6h0M33.2 541.3h0M61.0 556.7h0M94.4 554.4h0M78.5 578.5h0M52.1 566.3h0M39.7 548.4h0M63.2 576.8h0M95.3 568.7h0M50.1 549.3h0M30.4 552.2h0M64.1 591.5h0M69.7 549.0h0M73.5 563.4h0M71.3 541.6h0M43.0 539.9h0M43.5 535.6h0M56.4 533.6h0M85.3 556.2h0M52.9 570.7h0M69.5 546.3h0M66.1 557.5h0M69.9 542.1h0M43.4 541.3h0M46.0 550.3h0M91.7 566.7h0M90.2 530.8h0M70.9 559.9h0M73.9 576.5h0M82.6 546.5h0M43.2 569.4h0M68.9 575.3h0" stroke="#d82838" stroke-width="1.6" stroke-linecap="round" fill="none"/><path d="M47.0 570.5h0M72.9 551.4h0M53.8 581.9h0M44.0 538.8h0M69.8 576.7h0M73.3 556.5h0M38.1 572.4h0M96.0 545.2h0M96.3 534.9h0M79.5 531.9h0M87.4 555.1h0M76.0 561.1h0M52.9 552.2h0M77.5 573.4h0M56.3 587.6h0M66.3 558.9h0M33.4 552.0h0M90.3 589.8h0M88.9 540.6h0M50.1 578.5h0M60.3 588.9h0M41.9 569.6h0M77.9 561.4h0M51.6 589.5h0M66.9 564.1h0M86.2 540.7h0M90.3 592.1h0M61.9 540.4h0M59.6 581.1h0M44.8 568.3h0M67.3 548.4h0M63.0 560.8h0M93.8 580.7h0M91.1 541.2h0M67.0 572.7h0M57.1 536.4h0M46.9 535.9h0M71.3 546.9h0M65.9 537.4h0M31.2 572.5h0M66.9 560.7h0M95.6 558.7h0M40.3 552.0h0M46.7 560.3h0M64.3 540.3h0M40.2 549.2h0M34.0 582.4h0M30.5 547.4h0M43.5 540.6h0M30.7 542.8h0M93.7 536.5h0M50.3 552.9h0M71.1 538.6h0M81.2 570.4h0M94.8 581.9h0M33.6 531.8h0M62.9 549.2h0M44.0 580.2h0M75.8 551.9h0M56.6 582.3h0M56.2 564.6h0M82.1 531.9h0M40.1 584.4h0M43.2 591.4h0M59.8 564.3h0M95.3 529.9h0M69.1 541.7h0M62.5 547.1h0M59.2 547.9h0M41.8 582.4h0M65.9 557.4h0M54.0 549.3h0M75.8 575.6h0M96.3 560.9h0M70.3 591.4h0M47.5 543.6h0M94.4 536.2h0M66.2 576.7h0M50.9 566.2h0M95.3 564.8h0M48.5 564.0h0M91.2 577.9h0M78.3 563.9h0M39.8 559.1h0M35.2 575.9h0M89.0 590.7h0M69.7 550.6h0M76.9 582.4h0M34.5 559.3h0M89.7 570.2h0M48.7 535.6h0M54.6 545.5h0M57.2 567.9h0M44.0 542.1h0M74.5 576.7h0M41.9 568.0h0M44.2 576.5h0M30.3 563.4h0M88.9 591.1h0M32.8 532.2h0M85.5 531.0h0M63.1 560.8h0M94.3 530.9h0M36.8 560.8h0M34.6 566.0h0M72.0 563.6h0M78.8 531.2h0M43.0 546.8h0M90.9 558.8h0M34.2 586.6h0M30.4 536.3h0M59.3 561.7h0M80.3 546.4h0M41.9 563.6h0M75.4 572.8h0M94.7 558.8h0M64.9 549.4h0M67.4 533.0h0M35.4 571.6h0M30.4 534.4h0M60.3 560.7h0M94.5 543.9h0M53.6 550.2h0M86.8 531.7h0M82.3 579.7h0M36.5 572.2h0M88.5 565.0h0M37.3 545.1h0M74.2 579.8h0M52.7 578.5h0M84.5 556.0h0M68.9 590.7h0M41.6 542.1h0M61.1 559.1h0M75.6 538.6h0M43.5 548.3h0M37.9 546.5h0M41.2 592.3h0M40.6 529.3h0M93.5 546.8h0M81.5 549.0h0M61.0 565.2h0M43.1 557.6h0M61.0 563.1h0M48.1 540.4h0M70.3 550.3h0M40.7 577.3h0M88.1 554.7h0M61.9 574.3h0M73.1 579.7h0M81.6 574.4h0M39.2 551.4h0M60.8 537.8h0M34.9 577.7h0M76.7 557.0h0M56.2 556.5h0M75.3 588.3h0M51.5 540.3h0M40.2 583.9h0M58.6 534.1h0M57.6 536.6h0M31.0 580.4h0M77.1 575.4h0M43.2 588.4h0M29.9 568.4h0M37.3 587.3h0M39.5 559.1h0M48.9 529.9h0M38.0 568.3h0" stroke="#d82838" stroke-width="2.0" stroke-linecap="round" fill="none"/><path d="M91.2 535.9h0M64.8 541.1h0M30.0 586.8h0M77.5 529.2h0M70.3 532.9h0M57.8 553.3h0M85.3 529.9h0M57.5 585.8h0M51.4 552.6h0M74.9 536.5h0M83.0 563.5h0M91.9 569.1h0M32.1 560.0h0M77.0 585.8h0M41.1 552.1h0M67.9 541.1h0M75.1 551.5h0M46.7 592.6h0M67.2 590.4h0M76.1 544.8h0M61.2 540.3h0M74.6 531.0h0M53.5 529.9h0M52.7 546.2h0M74.0 577.4h0M58.7 566.7h0M76.7 570.4h0M62.5 552.5h0M41.7 571.1h0M85.5 537.7h0M36.7 533.5h0M33.0 570.3h0M90.4 584.7h0M83.8 576.6h0M61.0 589.4h0M44.4 588.1h0M89.2 551.4h0M73.6 529.8h0M49.7 559.2h0M73.3 576.4h0M91.7 532.3h0M67.2 545.2h0M40.2 573.9h0M29.4 571.5h0M33.9 564.9h0M48.8 575.5h0M43.9 544.4h0M68.3 579.8h0M73.6 544.9h0M89.2 529.3h0M40.9 580.8h0M67.8 571.5h0M67.3 550.9h0M42.3 548.0h0M79.2 561.0h0M57.3 559.1h0M58.2 576.0h0M55.0 591.8h0M90.5 580.9h0M57.0 573.4h0M72.9 591.7h0M62.0 578.3h0M80.5 570.3h0M72.0 573.2h0M95.5 562.0h0M39.5 545.3h0M86.5 548.9h0M72.0 579.6h0M84.3 540.9h0M30.9 542.0h0M94.4 551.0h0M34.4 552.7h0M70.0 545.3h0M90.0 571.7h0M70.1 532.6h0M36.4 584.7h0M33.3 568.1h0M34.7 529.3h0M57.8 575.2h0M43.5 561.8h0M32.1 551.6h0M44.7 577.3h0M54.5 569.4h0M34.6 552.4h0M54.5 585.1h0M63.8 587.5h0M29.9 566.7h0M58.5 572.1h0M47.3 561.7h0M45.0 582.0h0M74.1 569.6h0M40.4 551.4h0M80.2 555.5h0M53.0 533.0h0M39.0 580.4h0M31.8 591.2h0M85.3 555.3h0M93.4 548.5h0M64.1 542.2h0M76.6 551.4h0M34.5 531.0h0M53.5 575.3h0M42.2 588.1h0M52.5 553.5h0M58.0 538.7h0M43.2 574.0h0M82.1 583.8h0M39.5 531.2h0M42.4 539.6h0M96.3 533.0h0M82.6 591.3h0M54.5 549.7h0M85.1 588.1h0M63.4 538.2h0M90.7 572.2h0" stroke="#d82838" stroke-width="2.4" stroke-linecap="round" fill="none"/><path d="M67.1 562.1h0M50.9 552.3h0M47.7 540.8h0M34.8 537.9h0M38.9 529.4h0M48.1 530.8h0M67.7 553.9h0M30.8 569.7h0M42.1 552.8h0M62.5 564.9h0M83.9 545.8h0M87.0 574.5h0M73.2 539.7h0M84.9 570.8h0M74.9 560.0h0M47.7 589.8h0M36.2 583.7h0M52.6 548.0h0M53.7 573.4h0M72.5 567.5h0M60.3 561.0h0M85.2 581.9h0M52.7 588.9h0M43.1 561.5h0M90.3 580.2h0M39.1 566.2h0M56.7 561.9h0M31.7 559.9h0M37.7 563.2h0M57.9 559.7h0M50.1 536.1h0M45.1 560.7h0M80.8 547.0h0M82.2 565.7h0M81.7 569.6h0M45.1 545.6h0M44.2 546.8h0M91.8 552.1h0M43.2 581.3h0M48.8 583.1h0M76.5 554.1h0M92.8 583.8h0M38.2 564.4h0M92.8 550.0h0M56.6 558.1h0M90.5 591.7h0M43.1 534.6h0M42.4 573.7h0M85.6 536.7h0M43.6 561.7h0M92.2 588.2h0M66.3 584.6h0M57.4 562.8h0M78.4 563.2h0M92.3 546.8h0M88.0 539.5h0M52.2 551.8h0M47.7 552.2h0M45.7 532.8h0M30.4 580.9h0M83.2 545.0h0M40.6 583.3h0M61.6 561.7h0M70.0 574.0h0M55.2 556.4h0M34.7 588.1h0M75.8 565.3h0" stroke="#f8e8ee" stroke-width="1.2" stroke-linecap="round" fill="none"/><path d="M87.4 549.7h0M53.4 555.9h0M92.4 533.2h0M77.2 579.2h0M66.9 586.1h0M94.4 559.3h0M70.9 589.6h0M84.9 574.0h0M66.1 576.0h0M45.0 532.5h0M45.9 545.6h0M78.9 587.8h0M94.6 571.4h0M37.6 560.2h0M42.7 576.8h0M81.0 541.4h0M37.1 540.1h0M53.3 535.4h0M34.1 571.7h0M82.9 587.9h0M83.5 558.4h0M39.2 541.1h0M59.0 592.7h0M43.7 552.8h0M31.1 539.9h0M92.9 544.3h0M83.3 589.4h0M59.6 582.6h0M37.3 542.9h0M70.0 587.6h0M57.9 552.1h0M34.4 551.7h0M40.9 558.3h0M38.6 566.6h0M69.4 529.3h0M58.2 569.9h0M62.7 586.6h0M46.3 539.2h0M93.3 578.8h0M70.8 547.0h0M83.8 558.5h0M80.7 558.1h0M64.2 577.7h0M77.6 561.0h0M94.8 552.3h0M63.6 555.8h0M85.4 551.4h0M63.6 589.5h0M33.0 560.2h0M37.8 573.7h0M58.7 551.2h0M39.3 535.6h0M84.4 551.1h0M56.8 557.3h0M45.3 587.5h0M65.8 584.6h0M89.5 542.4h0M62.4 579.8h0M85.4 582.2h0M54.8 529.9h0M37.5 561.3h0M87.9 531.8h0M68.6 571.0h0M36.1 546.2h0M57.2 568.1h0M86.2 578.8h0M40.8 543.5h0M95.7 565.5h0M37.8 584.0h0M75.4 584.2h0M30.6 567.0h0M67.9 544.5h0M74.0 545.5h0M34.0 572.0h0M43.9 529.6h0M95.6 574.5h0M42.9 553.6h0" stroke="#f8e8ee" stroke-width="1.6" stroke-linecap="round" fill="none"/><path d="M66.1 581.9h0M80.5 567.2h0M66.6 556.9h0M77.9 588.3h0M36.7 571.0h0M41.3 589.4h0M69.4 553.5h0M64.9 545.3h0M34.3 555.9h0M54.3 576.7h0M48.4 568.7h0M76.7 583.7h0M75.0 579.3h0M41.4 589.9h0M58.3 547.2h0M38.7 532.4h0M86.4 532.2h0M71.0 567.4h0M63.7 535.0h0M47.8 570.5h0M33.7 587.3h0M38.0 556.6h0M74.9 536.1h0M87.8 556.1h0M67.6 579.1h0M33.5 587.2h0M39.3 557.4h0M29.5 533.1h0M58.3 552.3h0M75.3 592.4h0M72.9 570.1h0M64.7 533.9h0M81.8 589.1h0M59.9 558.6h0M67.5 549.4h0M80.2 550.6h0M87.1 588.1h0M49.0 545.8h0M82.0 569.3h0M30.2 562.4h0M67.4 565.6h0M54.9 536.5h0M56.5 530.2h0M79.8 541.9h0M32.6 538.3h0M43.8 570.4h0M56.3 539.0h0M84.4 587.7h0M93.3 530.6h0M56.5 549.3h0M87.5 548.4h0M54.6 589.2h0M67.3 547.9h0M77.8 555.9h0M57.9 564.4h0M61.5 538.9h0M43.5 547.1h0M30.8 581.3h0M59.6 558.6h0M94.2 542.7h0M48.7 556.2h0M38.2 561.5h0M62.0 575.1h0M66.1 576.9h0M77.0 584.6h0M94.0 549.1h0M49.1 574.2h0M60.3 541.3h0M85.8 577.7h0M43.9 574.3h0M93.2 534.7h0M55.9 531.8h0M81.3 537.5h0M63.1 575.3h0M58.9 573.1h0M45.7 551.9h0" stroke="#f8e8ee" stroke-width="2.0" stroke-linecap="round" fill="none"/><path d="M88.3 554.0h0M72.5 530.9h0M33.5 560.6h0M71.7 568.2h0M57.8 585.8h0M54.7 544.6h0M53.7 578.2h0M37.8 578.9h0M72.4 574.6h0M29.7 547.6h0M43.3 575.7h0M44.5 561.7h0M78.1 580.9h0M32.7 552.9h0M72.6 581.3h0M85.6 585.1h0M85.2 582.0h0M42.4 564.0h0M41.2 550.7h0M79.5 554.8h0M86.8 552.1h0M51.8 588.1h0M95.6 575.1h0M55.2 577.9h0M38.8 556.2h0M60.6 582.6h0M32.6 563.4h0M85.1 548.9h0M91.4 548.2h0M88.5 566.6h0M90.9 533.5h0M32.8 577.9h0M82.7 567.3h0M35.6 557.3h0M78.0 585.6h0M87.2 550.2h0M89.0 562.0h0M90.5 574.9h0M55.6 580.7h0M76.8 574.8h0M30.2 548.8h0M73.9 534.0h0M36.6 559.0h0M80.0 586.0h0M69.7 586.0h0" stroke="#6c6cc4" stroke-width="1.2" stroke-linecap="round" fill="none"/><path d="M70.7 546.4h0M80.8 584.1h0M37.4 533.1h0M39.4 575.8h0M51.0 530.2h0M32.6 563.4h0M88.5 546.3h0M60.5 577.1h0M86.3 589.8h0M64.4 566.6h0M49.1 538.5h0M32.6 549.0h0M84.7 535.5h0M85.6 588.8h0M41.8 550.7h0M94.7 560.4h0M63.7 547.3h0M63.6 536.9h0M94.9 568.3h0M44.4 579.0h0M67.3 531.8h0M31.9 536.0h0M32.7 547.8h0M45.7 590.7h0M59.9 589.6h0M57.5 577.7h0M32.6 565.7h0M80.4 568.1h0M36.8 544.5h0M59.4 547.1h0M33.1 560.0h0M69.5 575.2h0M31.9 545.3h0M39.7 549.8h0M38.9 547.0h0M77.7 531.6h0M54.2 550.5h0M57.7 568.7h0M32.9 555.1h0M65.6 558.5h0" stroke="#6c6cc4" stroke-width="1.6" stroke-linecap="round" fill="none"/><path d="M49.2 590.7h0M82.2 540.6h0M41.9 580.1h0M95.4 549.6h0M95.3 544.9h0M90.0 580.5h0M65.6 568.2h0M86.7 566.6h0M82.0 591.8h0M51.4 540.5h0M78.9 555.0h0M85.7 545.9h0M54.8 590.2h0M40.2 539.8h0M67.5 529.7h0M41.6 534.5h0M92.6 592.5h0M77.0 583.6h0M69.4 582.6h0M91.2 586.8h0M29.6 547.1h0M36.8 563.3h0M50.0 570.9h0M59.8 556.6h0M33.6 544.6h0M84.8 583.7h0M40.7 579.8h0M35.9 568.5h0M74.0 588.2h0M41.2 534.5h0M45.8 584.9h0M58.0 546.0h0M45.0 559.4h0M83.2 588.8h0M74.7 545.4h0M89.5 558.8h0M94.5 533.6h0M82.4 587.6h0M87.5 576.6h0M70.9 563.2h0M83.2 559.0h0M73.1 583.3h0M70.8 539.5h0M52.2 579.7h0M67.5 572.7h0" stroke="#6c6cc4" stroke-width="2.0" stroke-linecap="round" fill="none"/><path d="M31.5 538.0h0M35.3 541.6h0M44.1 547.8h0" stroke="#e41c28" stroke-width="1.6" stroke-linecap="round" fill="none"/><path d="M35.1 540.4h0M36.6 534.4h0M42.1 541.1h0M49.9 553.8h0M49.7 549.0h0M53.5 546.9h0M37.3 545.3h0" stroke="#e41c28" stroke-width="2.0" stroke-linecap="round" fill="none"/><path d="M44.8 545.0h0M39.5 545.0h0M47.6 548.1h0M33.5 532.6h0M45.9 531.4h0M57.6 531.1h0" stroke="#e41c28" stroke-width="2.4" stroke-linecap="round" fill="none"/><path d="M30.8 541.9h0M55.6 542.4h0M50.5 542.0h0M54.9 531.8h0M57.8 535.2h0M37.6 548.3h0M30.6 533.8h0" stroke="#e41c28" stroke-width="2.8" stroke-linecap="round" fill="none"/><path d="M49.5 536.5h0M51.1 550.1h0M45.4 531.9h0M48.3 544.1h0M36.3 540.4h0" stroke="#e41c28" stroke-width="3.2" stroke-linecap="round" fill="none"/><path d="M44.7 534.0h0M42.6 549.0h0" stroke="#e41c28" stroke-width="3.6" stroke-linecap="round" fill="none"/><path d="M73.0 588.1h0" stroke="#ffffff" stroke-width="3.2" stroke-linecap="round" fill="none"/><path d="M57.6 582.8h0M72.2 537.0h0" stroke="#ffffff" stroke-width="3.6" stroke-linecap="round" fill="none"/><path d="M62.3 542.3h0M46.6 577.4h0M95.3 542.3h0" stroke="#ffffff" stroke-width="4.0" stroke-linecap="round" fill="none"/><path d="M68.9 547.3h0" stroke="#e00010" stroke-width="3.6" stroke-linecap="round" fill="none"/><path d="M51.7 571.4h0" stroke="#e00010" stroke-width="4.0" stroke-linecap="round" fill="none"/></g></g>
<rect x="30.05" y="529.1" width="65.6" height="63.7" fill="none" stroke="#2a2a2a" stroke-width="1.5"/>
<g clip-path="url(#c12)"><g filter="url(#soft)"><rect x="99.4" y="529.1" width="67.4" height="63.7" fill="#ecbccc"/><path d="M165.6 552.6h0M162.8 573.4h0M100.3 547.9h0M124.5 556.7h0M110.5 555.2h0M112.0 552.2h0M164.7 533.5h0M121.6 581.6h0M154.8 573.6h0M165.2 571.1h0M135.1 575.6h0M113.5 583.6h0M162.2 556.8h0M125.8 573.5h0M100.2 574.2h0M125.5 590.8h0M142.8 581.1h0M123.5 561.1h0M154.3 549.3h0M124.2 571.2h0M145.6 561.8h0M108.1 545.0h0M135.8 589.4h0M112.5 562.9h0M143.3 561.6h0M129.1 535.0h0M130.7 587.3h0M132.2 543.1h0M130.4 575.2h0M103.7 576.0h0M136.2 577.9h0M124.9 571.3h0M118.8 541.7h0M128.1 558.4h0M149.5 545.1h0M151.6 530.5h0M127.2 530.3h0M122.7 591.6h0M120.2 559.9h0M111.6 532.7h0M116.3 533.5h0M111.8 532.8h0M155.9 556.2h0M157.8 540.1h0M134.3 530.7h0M163.2 547.7h0M123.8 545.7h0M161.2 538.0h0M132.2 562.0h0M136.8 549.0h0M130.8 583.2h0M113.8 552.5h0M161.5 550.7h0M122.7 547.2h0M104.8 540.1h0M110.9 550.8h0M131.5 533.8h0M166.6 529.6h0M126.6 592.0h0M158.4 573.0h0M160.2 586.9h0M159.0 571.2h0M163.2 555.2h0M121.3 561.4h0M123.5 535.9h0M101.8 547.6h0M101.4 532.5h0M114.1 535.2h0M124.7 572.7h0M103.2 535.6h0M113.0 552.9h0M120.2 578.6h0M155.0 564.3h0M109.6 548.6h0M138.9 591.8h0M108.7 544.7h0M149.8 563.8h0M150.4 553.5h0M134.2 551.6h0M153.3 579.0h0M117.5 586.9h0M115.1 553.6h0M108.3 549.0h0M139.9 564.0h0M159.0 561.0h0M122.0 579.0h0M114.4 549.2h0M163.2 565.3h0M105.2 577.0h0M143.7 546.3h0M142.5 562.3h0M147.3 539.8h0M140.8 584.6h0M151.3 569.9h0M146.9 547.5h0M129.5 532.6h0M157.2 592.0h0M102.2 561.0h0M105.4 554.9h0M147.9 567.6h0M108.2 591.3h0M144.8 591.8h0M140.1 583.2h0M117.0 540.3h0M112.7 574.3h0M129.9 537.2h0M159.2 536.2h0M128.2 540.3h0M117.0 563.7h0M102.9 558.0h0M100.3 587.5h0M115.9 549.6h0M158.3 580.3h0M141.9 576.8h0M148.1 543.5h0M159.1 579.8h0M153.2 582.6h0M106.9 586.6h0M102.7 551.8h0M162.7 580.6h0M137.8 541.5h0M100.4 530.1h0M130.8 591.9h0M159.9 536.5h0M164.9 567.0h0M105.1 589.9h0M153.8 536.2h0M103.5 535.8h0M129.6 539.8h0M126.4 551.2h0M128.8 535.5h0M109.0 533.0h0M125.8 560.9h0M106.9 581.4h0M140.1 559.5h0M122.3 587.5h0M114.2 562.7h0M100.9 529.5h0M135.7 576.0h0" stroke="#f8eaf0" stroke-width="1.2" stroke-linecap="round" fill="none"/><path d="M124.8 542.7h0M151.4 531.1h0M113.9 568.5h0M145.5 559.9h0M103.2 535.7h0M143.1 587.7h0M119.3 560.4h0M164.2 561.0h0M156.3 529.8h0M164.7 547.2h0M153.4 529.4h0M144.6 530.7h0M139.3 556.1h0M121.0 554.4h0M140.1 560.5h0M114.8 534.8h0M102.9 579.8h0M143.8 543.6h0M137.6 562.6h0M166.0 581.4h0M104.8 537.4h0M99.7 561.3h0M148.8 568.2h0M116.2 569.8h0M162.7 567.6h0M116.5 530.7h0M146.5 542.6h0M102.3 582.4h0M160.2 580.1h0M165.8 556.4h0M162.3 560.2h0M135.5 584.7h0M105.5 580.1h0M140.8 581.5h0M106.6 545.6h0M149.5 557.7h0M142.6 572.7h0M123.9 562.3h0M108.6 558.4h0M148.1 568.7h0M118.9 560.0h0M162.2 548.7h0M151.9 582.1h0M160.9 552.8h0M159.2 578.9h0M153.9 549.1h0M151.6 536.3h0M136.7 572.3h0M115.8 585.7h0M106.6 539.1h0M143.3 547.0h0M116.8 529.3h0M128.5 550.6h0M166.7 534.1h0M131.4 536.6h0M160.1 565.8h0M144.2 557.7h0M159.2 531.5h0M157.9 558.1h0M101.8 535.5h0M99.8 537.6h0M117.3 591.2h0M127.8 576.2h0M115.9 561.1h0M149.3 555.3h0M115.4 533.6h0M138.9 529.8h0M109.5 563.2h0M120.5 563.7h0M144.0 584.5h0M126.0 537.5h0M102.4 552.7h0M100.3 584.5h0M127.5 551.2h0M111.3 582.4h0M118.2 540.9h0M158.6 550.2h0M130.0 563.6h0M151.1 553.3h0M158.4 561.6h0M130.6 540.8h0M118.9 550.3h0M154.3 574.8h0M144.9 537.3h0M137.7 550.1h0M112.7 533.8h0M105.8 561.6h0M146.6 582.8h0M137.1 554.1h0M164.7 544.1h0M128.2 552.5h0M116.3 540.6h0M154.3 590.8h0M160.8 560.7h0M123.3 564.1h0M119.8 541.0h0M156.2 531.3h0M101.4 548.9h0M139.7 582.1h0M130.0 578.6h0M146.0 552.8h0M107.2 543.3h0M122.7 551.7h0M109.0 541.6h0M109.2 538.4h0M137.6 546.8h0M137.8 538.1h0M127.2 581.2h0M114.0 585.8h0" stroke="#f8eaf0" stroke-width="1.6" stroke-linecap="round" fill="none"/><path d="M102.0 557.9h0M151.0 551.2h0M139.6 556.4h0M142.6 533.8h0M148.9 531.7h0M131.4 588.2h0M136.6 563.0h0M122.0 590.2h0M104.5 590.8h0M106.7 570.1h0M157.3 586.9h0M134.7 549.4h0M142.0 537.7h0M160.5 544.4h0M127.7 576.2h0M139.7 571.0h0M164.3 557.3h0M129.3 530.2h0M99.5 537.6h0M100.2 577.1h0M103.6 591.1h0M138.5 561.7h0M146.4 542.9h0M140.8 544.8h0M148.3 538.7h0M143.5 540.8h0M145.5 577.9h0M150.7 547.3h0M154.7 587.3h0M116.5 534.9h0M160.1 573.8h0M166.7 549.9h0M119.3 548.8h0M140.3 592.3h0M155.1 578.1h0M104.3 578.6h0M147.3 590.2h0M121.9 538.9h0M134.0 586.1h0M140.2 529.9h0M162.3 549.1h0M116.9 558.2h0M165.3 545.7h0M161.7 540.1h0M130.3 531.3h0M101.8 591.8h0M159.4 567.1h0M110.3 572.9h0M166.2 565.5h0M120.0 537.4h0M117.1 552.8h0M126.0 578.1h0M158.6 568.3h0M130.7 534.5h0M144.9 556.2h0M163.9 590.3h0M157.8 587.4h0M124.6 536.0h0M130.9 535.8h0M140.5 559.1h0M105.5 565.7h0M144.2 554.5h0M99.8 586.2h0M135.3 542.3h0M102.6 548.7h0M129.1 584.7h0M130.4 591.9h0M112.6 591.9h0M124.7 581.1h0M151.3 536.0h0M160.4 552.2h0M129.9 567.8h0" stroke="#f8eaf0" stroke-width="2.0" stroke-linecap="round" fill="none"/><path d="M104.1 529.3h0M124.4 552.2h0M113.0 582.8h0M117.3 532.9h0M164.9 587.8h0M134.9 591.6h0M166.7 532.0h0M137.4 550.5h0M158.5 575.3h0M163.6 547.8h0M160.0 530.3h0M136.1 531.8h0M165.2 551.3h0M115.0 590.4h0M162.6 563.3h0M153.0 567.5h0M107.7 534.7h0M139.8 557.8h0M122.8 547.9h0M157.2 584.5h0M156.8 549.3h0M155.5 586.2h0M112.7 567.6h0M101.8 590.0h0M161.9 591.5h0M139.1 562.2h0M125.4 539.6h0M111.3 532.9h0M99.4 545.3h0M146.3 582.5h0M109.2 555.8h0M136.4 530.0h0M101.7 550.0h0M133.0 581.9h0M118.7 543.3h0M111.5 550.8h0M106.9 556.0h0M127.3 585.4h0M153.4 578.1h0M112.4 562.0h0M159.1 543.7h0M132.0 565.8h0M141.3 565.6h0" stroke="#d05070" stroke-width="0.8" stroke-linecap="round" fill="none"/><path d="M113.3 589.3h0M117.3 540.8h0M115.8 542.6h0M127.6 591.2h0M119.4 540.5h0M163.7 586.0h0M149.5 548.6h0M137.1 583.7h0M136.5 548.5h0M146.7 592.6h0M144.8 556.6h0M161.8 537.7h0M107.1 530.3h0M133.8 584.0h0M156.0 544.3h0M114.7 553.1h0M165.7 577.1h0M159.6 534.8h0M120.0 544.1h0M113.7 559.6h0M106.3 539.2h0M164.2 581.0h0M122.3 586.2h0M132.2 591.8h0M142.9 567.8h0M143.4 560.6h0M100.1 536.0h0M160.5 579.6h0M117.4 544.4h0M101.2 567.2h0M156.2 583.0h0M140.2 589.3h0M156.2 538.7h0M139.6 566.0h0M119.0 591.6h0M129.8 548.8h0M151.3 577.1h0M101.6 536.0h0M118.6 563.8h0M157.8 558.7h0M161.5 533.8h0M101.8 558.0h0M107.0 573.1h0M131.3 537.8h0M165.1 548.9h0M161.9 559.4h0M144.0 535.0h0M143.2 581.9h0M120.2 533.3h0M149.2 531.1h0M147.5 541.7h0M153.6 573.7h0M103.2 585.8h0M108.8 543.0h0M160.1 569.2h0M101.3 563.4h0M158.2 569.8h0M100.4 586.6h0M103.4 571.9h0M131.2 559.3h0M125.5 544.1h0M124.4 574.8h0M110.2 578.1h0M126.2 578.8h0M154.4 566.3h0M159.6 536.7h0M117.3 577.1h0M122.2 567.1h0M108.8 543.5h0M155.2 546.4h0M107.9 565.1h0M134.8 588.0h0M156.9 541.1h0M145.4 530.4h0M127.4 589.5h0M129.4 575.0h0M128.9 550.0h0M108.8 584.6h0M118.6 554.7h0M156.0 577.7h0M149.9 580.3h0M148.4 551.1h0M106.9 538.3h0M159.2 552.4h0M113.5 583.8h0M128.4 538.8h0M105.1 548.7h0M141.1 590.4h0M158.2 539.7h0" stroke="#d05070" stroke-width="1.2" stroke-linecap="round" fill="none"/><path d="M102.3 532.9h0M135.0 566.9h0M113.6 567.3h0M152.6 574.2h0M147.9 547.7h0M133.9 578.4h0M106.2 585.2h0M120.5 564.6h0M118.5 575.7h0M111.4 580.2h0M139.5 578.6h0M127.5 590.3h0M163.4 553.4h0M132.2 530.7h0M137.7 570.0h0M119.4 555.9h0M157.7 540.2h0M124.9 545.9h0M103.4 538.2h0M111.1 577.7h0M100.8 538.2h0M138.5 589.0h0M121.3 557.0h0M102.7 587.5h0M132.3 557.0h0M159.6 540.6h0M125.9 574.8h0M143.4 552.3h0M107.9 531.0h0M152.8 560.2h0M123.8 576.5h0M103.3 566.7h0M152.3 579.8h0M152.8 530.2h0M137.1 548.2h0M132.4 583.4h0M159.7 587.7h0M100.0 561.6h0M126.6 577.8h0M166.3 552.0h0M133.9 573.6h0M155.2 555.1h0M142.0 565.7h0M125.7 559.5h0M104.1 566.3h0M160.8 566.5h0M101.9 567.6h0M107.3 554.8h0M140.0 552.1h0M145.3 554.1h0M126.9 539.0h0M147.1 573.4h0M134.9 567.7h0M101.2 553.1h0M149.9 532.0h0M118.5 559.8h0M158.8 529.8h0M138.3 532.4h0M117.4 551.6h0M105.2 550.9h0M166.4 569.6h0M152.0 532.6h0M128.3 536.2h0M132.1 553.1h0M163.9 558.4h0M100.9 549.4h0M134.1 557.8h0M163.1 567.1h0" stroke="#d05070" stroke-width="1.6" stroke-linecap="round" fill="none"/><path d="M120.7 591.9h0M100.7 541.9h0M107.2 572.0h0M117.5 529.6h0M147.4 554.5h0M156.2 547.2h0M132.4 551.1h0M113.2 580.1h0M128.5 542.9h0M111.2 589.6h0M117.8 565.0h0M129.9 571.6h0M101.7 555.0h0M129.3 551.5h0M134.3 543.9h0M144.2 574.9h0M117.3 546.0h0M128.6 571.5h0M113.8 588.7h0M151.7 536.7h0M152.9 578.6h0M122.7 584.1h0M119.1 587.3h0M156.7 565.6h0M162.2 542.0h0M100.4 565.7h0M112.7 535.6h0M120.7 569.1h0M139.6 570.7h0M109.3 561.2h0M135.3 589.6h0" stroke="#6e74cc" stroke-width="1.2" stroke-linecap="round" fill="none"/><path d="M111.7 562.2h0M99.6 551.7h0M109.1 550.4h0M99.6 580.3h0M113.5 558.0h0M106.1 530.8h0M106.3 536.9h0M166.6 591.6h0M115.6 554.2h0M110.2 553.9h0M101.7 555.9h0M145.8 588.9h0M103.9 572.9h0M127.3 576.3h0M157.4 562.4h0M155.1 583.6h0M143.8 543.0h0M108.9 579.4h0M159.9 541.3h0M110.1 545.8h0M127.6 556.6h0M133.0 545.3h0M132.2 572.2h0M108.0 570.7h0M153.2 563.2h0M101.9 555.2h0M158.0 587.0h0M153.5 578.4h0M150.1 562.8h0M115.4 570.7h0M114.0 552.5h0M120.3 555.7h0M126.8 530.4h0M118.2 553.5h0M122.2 564.7h0M143.7 576.5h0M146.2 548.2h0M133.1 577.7h0M118.4 581.5h0M149.1 549.0h0M125.5 588.0h0M137.5 562.8h0M99.5 546.6h0" stroke="#6e74cc" stroke-width="1.6" stroke-linecap="round" fill="none"/><path d="M126.7 572.3h0M101.1 555.9h0M111.1 551.7h0M115.0 578.1h0M150.0 531.0h0M149.6 559.6h0M103.7 565.6h0M115.4 552.2h0M118.5 580.4h0M111.7 589.3h0M104.5 559.9h0M136.7 586.9h0M107.7 561.0h0M108.8 544.8h0M142.2 553.8h0M124.4 569.8h0M166.2 581.9h0M108.8 589.4h0M163.3 565.0h0M129.8 562.2h0M116.2 538.1h0M136.1 535.0h0M146.9 589.2h0M151.7 532.5h0M134.5 566.7h0M160.1 559.6h0M166.5 589.3h0M153.7 569.1h0M154.0 535.8h0M158.5 581.0h0M108.7 584.1h0M101.9 561.8h0M128.2 539.4h0M130.2 584.5h0M163.9 584.8h0M122.1 531.2h0M163.1 571.8h0M158.2 537.5h0M112.6 532.8h0M142.5 580.4h0M100.7 584.3h0M130.0 562.3h0M149.7 559.5h0M139.0 572.6h0M105.7 556.4h0" stroke="#6e74cc" stroke-width="2.0" stroke-linecap="round" fill="none"/><path d="M119.3 550.9h0M119.1 569.2h0M164.8 583.9h0M161.5 587.3h0M125.7 563.8h0M127.4 565.0h0M140.3 564.9h0M162.4 573.1h0M126.3 577.7h0M114.9 574.4h0M121.4 566.4h0M165.8 551.9h0M163.6 563.7h0M141.2 542.9h0M107.4 589.6h0M108.6 568.9h0M108.9 577.5h0M111.4 557.7h0M145.3 554.9h0M143.7 563.8h0M120.8 550.6h0M151.1 569.8h0M153.2 539.6h0M150.2 573.0h0M118.9 585.1h0M131.4 579.0h0M126.6 571.4h0M150.2 554.4h0M135.4 577.3h0M124.4 536.2h0M125.6 533.0h0" stroke="#6e74cc" stroke-width="2.4" stroke-linecap="round" fill="none"/></g></g>
<rect x="100.15" y="529.1" width="65.9" height="63.7" fill="none" stroke="#2a2a2a" stroke-width="1.5"/>
<g clip-path="url(#c22)"><g filter="url(#soft)"><rect x="169.8" y="529.1" width="67" height="63.7" fill="#f6ecf2"/><path d="M204.2 556.8h0M230.6 548.6h0M193.3 563.4h0M219.8 546.1h0M191.3 559.3h0M200.3 563.0h0M236.5 581.1h0M214.7 543.6h0M200.7 568.0h0M226.7 583.4h0M184.4 549.0h0M212.8 564.3h0M233.1 561.1h0M194.2 585.1h0M222.9 566.9h0M230.6 591.5h0M224.1 566.8h0M190.1 536.6h0M204.8 587.1h0" stroke="#8a80c8" stroke-width="0.8" stroke-linecap="round" fill="none"/><path d="M177.8 569.2h0M209.3 545.5h0M234.9 590.6h0M215.5 532.9h0M227.6 562.6h0M194.4 569.7h0M197.8 569.7h0M172.1 546.8h0M183.2 558.8h0M173.2 530.1h0M210.3 535.3h0M228.4 534.7h0M199.7 581.4h0M206.5 573.2h0M231.9 583.5h0M185.8 590.9h0M207.7 590.5h0M217.3 568.1h0M188.4 584.2h0M222.6 569.4h0M189.7 534.9h0M214.2 544.9h0M229.0 571.8h0M182.4 550.5h0M205.7 577.6h0M185.0 533.3h0" stroke="#8a80c8" stroke-width="1.2" stroke-linecap="round" fill="none"/><path d="M181.7 576.2h0M219.3 570.4h0M170.9 582.4h0M177.4 558.3h0M205.6 530.8h0M229.1 558.1h0M183.7 592.5h0M199.1 589.3h0M221.5 568.3h0M230.6 543.4h0M215.5 582.1h0M189.3 569.4h0M179.4 541.5h0M197.1 569.4h0M210.6 583.0h0M232.0 573.0h0M215.5 563.4h0M186.3 554.0h0M194.4 556.1h0M187.7 577.6h0M173.0 563.6h0M216.2 535.6h0M232.0 549.9h0M229.1 530.4h0M196.9 557.3h0" stroke="#8a80c8" stroke-width="1.6" stroke-linecap="round" fill="none"/><path d="M218.9 571.8h0M226.1 588.9h0M181.5 574.6h0M190.3 531.5h0M205.5 567.0h0M204.3 561.7h0M214.9 576.3h0M180.0 585.3h0M213.2 538.3h0M172.0 538.9h0M209.7 577.2h0M236.6 566.7h0M211.6 537.5h0M192.3 574.5h0M201.3 549.5h0M225.0 559.2h0M217.6 559.9h0M221.7 588.2h0M235.8 566.9h0M221.6 532.2h0M196.3 536.5h0M209.9 586.2h0M195.2 568.4h0M182.6 566.4h0M192.5 590.6h0M181.5 575.5h0M181.9 556.4h0M232.9 589.8h0M196.5 589.4h0M235.4 585.7h0M193.3 553.6h0M209.9 579.9h0M219.9 568.8h0M220.6 570.8h0M194.0 569.0h0M169.9 566.9h0M190.7 574.0h0M185.3 544.2h0M214.1 580.6h0M222.0 554.0h0M176.4 562.8h0M208.5 553.0h0M210.9 591.7h0M212.5 580.6h0M186.4 541.1h0M179.0 589.7h0M191.4 550.4h0M172.3 536.7h0M199.1 572.5h0M188.5 534.9h0M184.5 591.2h0M205.1 581.6h0M198.7 539.2h0M214.9 553.6h0" stroke="#e81414" stroke-width="2.0" stroke-linecap="round" fill="none"/><path d="M200.2 591.3h0M213.3 568.7h0M209.4 572.5h0M229.4 549.9h0M172.0 566.5h0M208.0 535.2h0M201.5 591.5h0M173.1 582.3h0M199.4 571.9h0M225.2 589.4h0M221.6 540.9h0M176.8 536.0h0M218.2 547.1h0M204.9 567.1h0M224.1 570.4h0M233.9 554.5h0M177.4 580.2h0M177.0 567.1h0M202.9 592.3h0M171.3 580.8h0M231.3 571.3h0M224.1 575.2h0M198.9 531.5h0M198.7 576.7h0M219.9 540.8h0M229.5 577.6h0M199.7 547.9h0M173.1 544.4h0M214.4 585.6h0M209.5 590.2h0M175.5 567.5h0M178.3 552.4h0M181.9 547.2h0M186.8 538.4h0M208.2 540.0h0M205.4 567.9h0M196.3 574.7h0M199.3 569.2h0M228.4 565.5h0M220.8 547.8h0M190.2 571.8h0M204.5 548.1h0M232.0 584.4h0M236.3 574.7h0M212.6 530.3h0M216.7 535.3h0M230.0 530.3h0M186.1 567.8h0M210.9 540.2h0M215.4 562.8h0M174.9 565.9h0M228.1 562.1h0M221.4 541.8h0M170.7 530.3h0M230.9 529.3h0M192.8 585.6h0" stroke="#e81414" stroke-width="2.4" stroke-linecap="round" fill="none"/><path d="M202.2 567.7h0M227.1 586.8h0M176.3 592.4h0M187.8 578.3h0M177.4 554.9h0M232.8 555.0h0M190.7 533.7h0M184.3 582.1h0M230.2 571.2h0M197.0 541.5h0M232.5 529.8h0M194.9 561.0h0M170.1 542.5h0M181.1 550.5h0M197.9 532.7h0M234.9 555.5h0M229.6 586.6h0M209.6 589.3h0M201.3 552.9h0M207.8 575.7h0M202.3 553.9h0M177.4 571.6h0M171.8 582.6h0M189.3 541.3h0M235.0 531.9h0M230.0 555.1h0M219.1 567.0h0M208.3 562.9h0M196.6 534.5h0M175.3 557.3h0M229.1 545.2h0M199.1 568.0h0M198.1 563.9h0M205.7 536.4h0M197.5 530.2h0M197.3 529.8h0M223.0 538.8h0M211.1 540.5h0M223.2 550.9h0M192.7 581.5h0M208.0 551.4h0M222.5 571.4h0M200.5 557.5h0M194.3 545.6h0M198.9 575.1h0M212.5 580.1h0M228.4 533.1h0M177.4 552.2h0M180.5 565.9h0M180.2 535.2h0M232.3 571.9h0M187.4 556.9h0M223.6 547.3h0M207.2 584.4h0M184.0 562.5h0M231.7 541.0h0M232.8 560.6h0M197.1 533.8h0M171.9 561.0h0M219.7 577.3h0M195.2 553.3h0M186.3 558.4h0M191.4 539.6h0M199.3 565.0h0M216.7 554.8h0" stroke="#e81414" stroke-width="2.8" stroke-linecap="round" fill="none"/><path d="M180.3 541.6h0M194.1 552.0h0M223.5 580.1h0M199.4 539.8h0M226.0 543.9h0M220.2 566.9h0M200.6 552.9h0M203.8 560.5h0M216.0 567.6h0M232.6 568.2h0M226.2 537.0h0M207.0 566.8h0M196.2 563.1h0M214.6 554.9h0M227.8 590.1h0M184.8 583.0h0M227.1 575.2h0M228.0 559.1h0M173.7 580.1h0M179.2 558.2h0M234.2 574.1h0M184.2 553.1h0M204.6 586.0h0M173.4 582.2h0M189.3 534.2h0M221.4 536.3h0M219.8 532.6h0M174.1 538.7h0M205.3 575.4h0M231.9 583.0h0M189.4 561.0h0M231.4 541.9h0M201.8 570.2h0M173.9 546.7h0M178.9 558.3h0M218.7 548.0h0M214.4 540.4h0M172.8 568.6h0M203.2 570.9h0M194.8 560.3h0M179.8 568.0h0M179.6 529.6h0M210.1 578.1h0M235.1 559.2h0" stroke="#e81414" stroke-width="3.2" stroke-linecap="round" fill="none"/><path d="M176.0 562.7h0M214.8 543.5h0M171.8 580.0h0M216.0 540.6h0M196.8 584.7h0M178.1 561.7h0M177.7 548.1h0M222.5 569.7h0M201.7 539.9h0M184.0 588.6h0M209.4 543.1h0M177.0 578.7h0M236.7 550.0h0M235.0 555.1h0M173.0 537.5h0M227.7 567.9h0M216.4 555.4h0M208.2 586.5h0M191.3 545.0h0M172.8 537.2h0M189.8 545.1h0M228.0 555.1h0M222.1 545.8h0M181.3 553.8h0M179.8 549.7h0M198.6 556.8h0M197.7 590.1h0M186.7 592.5h0M197.8 579.0h0M192.5 561.3h0M181.1 573.5h0M172.5 566.1h0M224.1 557.8h0M175.6 583.5h0M210.8 561.2h0M170.3 541.3h0M173.1 588.8h0M194.8 578.8h0M184.1 580.1h0M201.2 553.0h0M227.4 570.4h0M202.0 588.4h0M179.5 535.4h0M218.1 542.4h0M176.7 556.9h0M212.6 546.6h0M171.5 576.4h0M201.0 548.5h0M218.8 558.5h0M184.4 574.8h0M185.2 558.3h0M198.3 561.4h0M236.8 552.0h0" stroke="#e81414" stroke-width="3.6" stroke-linecap="round" fill="none"/><path d="M182.2 555.3h0M213.4 537.1h0M222.3 552.9h0M173.6 560.5h0M202.4 583.6h0M194.3 535.3h0M206.6 551.4h0M204.7 563.5h0M197.9 557.5h0M232.5 577.3h0M213.7 540.1h0M234.3 582.4h0M226.9 582.6h0M234.1 553.3h0M220.5 560.6h0M213.8 542.4h0M231.0 561.7h0M222.4 546.0h0M235.0 534.3h0M236.6 545.3h0M189.8 563.8h0M202.0 578.1h0M197.1 566.4h0M213.2 585.3h0M194.7 572.6h0M176.6 551.3h0M196.5 579.6h0M170.5 563.8h0M211.9 568.2h0M197.5 567.5h0M216.7 534.0h0M228.1 571.7h0M235.4 536.0h0M200.8 569.5h0M175.5 570.8h0M221.2 548.0h0M197.8 562.1h0M186.6 538.9h0M220.4 557.6h0M229.9 591.2h0M215.4 560.8h0M184.8 583.2h0M180.4 566.9h0M228.1 565.1h0M172.5 567.5h0M185.5 553.1h0M216.2 534.8h0M185.7 539.4h0M184.5 562.6h0M209.2 589.6h0M225.2 564.0h0M233.0 566.0h0M212.6 577.2h0M226.6 566.9h0M233.1 575.1h0M222.6 580.6h0M174.4 534.0h0M212.1 581.9h0M199.3 574.6h0M229.3 575.9h0M214.5 530.8h0M189.8 577.9h0M179.6 542.6h0" stroke="#e81414" stroke-width="4.0" stroke-linecap="round" fill="none"/><path d="M204.5 541.1h0M222.2 575.4h0M191.1 536.3h0M190.0 540.4h0M219.7 547.8h0M193.2 539.5h0M222.7 533.0h0M188.5 587.3h0M213.8 575.3h0M231.1 543.6h0M200.7 586.4h0M173.5 550.7h0M170.1 558.0h0M220.6 574.7h0M189.3 543.5h0M183.7 575.3h0M196.7 566.2h0M192.6 578.1h0M177.9 587.9h0M216.9 549.9h0M207.3 531.9h0M226.5 536.1h0M233.3 592.2h0M216.7 568.7h0M234.6 538.1h0M235.0 539.5h0M175.0 554.5h0M190.5 575.2h0M183.6 536.4h0M234.2 574.8h0M213.6 543.4h0M215.1 543.3h0M212.1 530.7h0M196.8 551.8h0M216.0 588.6h0M186.5 529.7h0M229.6 568.7h0M219.6 583.7h0M172.1 575.7h0M211.1 555.1h0M207.9 537.5h0M204.1 591.2h0M180.2 541.6h0M207.1 557.3h0M229.8 546.6h0M230.4 578.3h0M182.3 576.7h0M228.6 536.8h0M224.9 549.8h0M187.5 577.1h0M209.2 537.6h0M196.6 538.5h0M175.8 578.2h0M203.3 588.0h0M180.7 554.2h0M184.0 537.0h0M202.1 584.1h0M197.4 551.9h0M208.1 589.9h0M192.7 550.8h0M205.2 585.2h0M187.3 561.2h0M176.8 564.4h0M232.8 572.8h0" stroke="#e81414" stroke-width="4.4" stroke-linecap="round" fill="none"/><path d="M232.3 548.5h0M185.4 582.8h0M211.3 588.2h0M232.6 534.9h0M227.6 574.1h0M191.4 549.5h0M171.7 531.9h0M218.0 536.0h0M221.7 582.0h0M219.2 534.1h0M180.2 585.0h0M190.9 547.3h0M196.0 587.5h0M228.4 588.1h0M196.3 554.6h0M173.3 536.7h0M213.3 592.7h0M197.2 585.1h0M194.6 574.5h0M177.2 560.3h0M180.8 557.7h0M194.7 538.3h0M207.7 577.8h0M233.3 572.5h0M221.9 568.1h0M209.1 582.5h0M198.4 568.7h0M179.2 576.1h0M198.1 582.4h0M199.6 563.9h0M176.6 589.6h0" stroke="#e81414" stroke-width="4.8" stroke-linecap="round" fill="none"/><path d="M202.7 544.4h0M214.9 557.8h0M194.8 534.5h0M220.2 554.8h0M219.9 546.5h0M233.5 570.6h0M186.6 585.7h0M173.1 571.6h0M225.8 570.6h0M214.7 588.8h0M193.8 572.0h0" stroke="#fff6f8" stroke-width="0.8" stroke-linecap="round" fill="none"/><path d="M177.9 556.3h0M169.9 582.6h0M196.1 550.5h0M180.2 583.4h0M170.8 565.7h0M184.6 566.8h0M228.2 545.8h0M200.6 547.2h0M196.1 591.9h0M229.4 570.0h0M182.3 552.9h0M232.9 553.6h0M217.6 548.5h0M173.8 552.7h0M195.1 585.8h0M214.1 586.5h0M195.2 554.6h0M211.5 591.7h0M224.1 529.5h0M223.7 592.6h0M185.4 536.2h0M194.2 529.4h0" stroke="#fff6f8" stroke-width="1.2" stroke-linecap="round" fill="none"/><path d="M181.4 578.4h0M205.8 535.1h0M193.7 592.8h0M215.9 591.9h0M191.4 550.8h0M181.4 578.5h0M203.3 536.6h0M171.2 565.8h0M191.1 546.8h0M206.7 556.0h0M184.2 531.6h0M210.1 542.6h0M197.6 535.8h0M174.0 535.0h0M190.7 548.6h0M193.1 583.1h0M222.8 533.1h0M223.9 581.7h0M194.6 589.2h0M194.1 540.7h0M170.2 589.3h0M177.9 579.2h0M181.0 574.8h0M176.2 540.5h0M215.4 546.9h0M226.0 544.3h0M171.8 567.9h0M201.0 583.3h0M193.6 546.6h0M216.1 567.2h0" stroke="#fff6f8" stroke-width="1.6" stroke-linecap="round" fill="none"/><path d="M197.0 544.4h0M198.5 587.7h0M200.3 564.3h0M178.6 581.6h0M227.9 585.4h0M171.8 538.5h0M227.6 554.5h0" stroke="#fff6f8" stroke-width="2.0" stroke-linecap="round" fill="none"/><path d="M227.0 576.5h0M212.2 574.4h0M221.2 562.3h0M234.5 555.2h0M172.4 532.3h0M220.1 534.7h0M234.8 550.6h0M172.7 584.1h0M183.8 572.9h0M204.6 555.6h0M236.3 535.7h0M217.3 568.6h0M192.7 576.3h0M203.6 591.4h0M235.5 562.2h0M211.6 529.6h0M185.2 546.9h0M198.8 576.4h0M196.8 532.8h0" stroke="#9088c8" stroke-width="0.8" stroke-linecap="round" fill="none"/><path d="M188.6 587.1h0M171.7 561.5h0M227.0 581.0h0M182.8 558.0h0M188.7 534.1h0M212.1 589.7h0M219.4 550.8h0M217.2 574.0h0M232.0 578.1h0M206.5 589.8h0M235.4 535.7h0M224.0 559.3h0M224.1 579.5h0M214.4 552.8h0M182.3 583.4h0M179.8 544.4h0M226.4 543.3h0M189.0 532.8h0M184.9 529.2h0M220.1 562.2h0M195.0 557.3h0M221.8 532.9h0M223.5 588.8h0M196.1 566.0h0M174.5 557.4h0M202.5 578.4h0M182.7 560.0h0M172.7 592.8h0M232.2 589.7h0M189.6 533.1h0M186.0 555.2h0M230.2 580.9h0M185.9 585.7h0M181.8 546.0h0M234.9 530.1h0M206.0 541.4h0M196.1 578.1h0M227.8 529.3h0M227.6 575.8h0M236.2 541.5h0M200.6 592.4h0M198.6 559.6h0M200.2 545.2h0M170.6 539.4h0M213.6 529.3h0M201.7 550.2h0" stroke="#9088c8" stroke-width="1.2" stroke-linecap="round" fill="none"/><path d="M216.0 567.6h0M182.5 530.7h0M212.5 578.6h0M195.8 567.1h0M170.2 557.2h0M172.5 579.4h0M209.2 575.2h0M235.9 577.3h0M175.5 542.5h0M236.2 571.2h0M191.4 540.2h0M198.9 580.8h0M179.1 565.8h0M229.1 530.8h0M205.1 532.0h0M221.8 589.3h0M231.7 577.5h0M202.7 539.2h0M203.2 585.8h0M173.0 562.8h0M221.4 586.5h0M181.0 576.0h0M171.0 561.0h0M172.4 536.9h0M209.4 589.6h0" stroke="#9088c8" stroke-width="1.6" stroke-linecap="round" fill="none"/><path d="M220.5 562.1h0M217.2 590.6h0M230.1 564.4h0M201.6 555.7h0M208.1 565.4h0M216.0 561.3h0M232.2 560.6h0M226.8 592.4h0M218.9 569.6h0M201.5 566.7h0M201.9 557.2h0" stroke="#8a80c8" stroke-width="0.8" stroke-linecap="round" fill="none"/><path d="M200.4 582.5h0M201.1 578.9h0M221.3 585.0h0M219.3 564.4h0M227.1 577.3h0M232.5 575.0h0M226.1 577.1h0M200.3 569.4h0M213.0 585.6h0M224.3 580.7h0M215.8 584.7h0M207.9 578.0h0M220.2 576.3h0M231.6 584.8h0M224.5 581.0h0M209.6 571.8h0M235.9 561.7h0M224.0 580.2h0M221.3 564.2h0M226.7 569.7h0M227.3 569.9h0M204.0 576.8h0M201.8 562.7h0M206.1 567.3h0M199.9 570.2h0M209.1 574.0h0M219.5 564.4h0M219.3 567.2h0M202.9 567.8h0M214.3 567.1h0M217.4 576.7h0M202.9 560.2h0M201.0 565.4h0M212.1 578.2h0" stroke="#8a80c8" stroke-width="1.2" stroke-linecap="round" fill="none"/><path d="M202.9 579.0h0M226.6 558.2h0M217.7 573.9h0M234.7 588.1h0M210.7 581.1h0M214.8 563.0h0M225.6 576.1h0M231.0 562.0h0M224.8 574.9h0M213.7 584.2h0M207.0 562.7h0M200.4 573.9h0M235.5 568.9h0M231.5 555.1h0M201.5 578.5h0" stroke="#8a80c8" stroke-width="1.6" stroke-linecap="round" fill="none"/></g></g>
<rect x="170.55" y="529.1" width="65.5" height="63.7" fill="none" stroke="#2a2a2a" stroke-width="1.5"/>
<g clip-path="url(#c32)"><g filter="url(#soft)"><rect x="240.5" y="529.1" width="67.3" height="63.7" fill="#aa64a6"/><path d="M242.6 572.4h0M285.7 540.2h0M266.9 583.4h0M287.9 540.6h0M302.3 544.3h0M303.8 535.7h0M257.8 568.9h0M271.3 572.8h0M307.8 531.0h0M247.0 585.0h0M281.6 542.0h0M299.7 578.7h0M255.7 552.4h0M275.3 533.9h0M287.4 576.4h0M243.2 531.0h0M273.0 576.4h0M242.3 557.8h0M293.6 532.9h0M243.9 586.1h0M303.2 538.4h0M264.8 541.3h0M254.5 590.5h0M251.0 561.7h0M283.4 578.7h0M252.2 542.8h0M275.1 550.7h0M245.6 573.8h0M267.7 539.8h0M258.1 553.8h0M245.8 557.1h0M248.4 592.4h0M288.2 572.5h0M264.1 532.7h0M276.7 549.7h0" stroke="#6c66c4" stroke-width="1.6" stroke-linecap="round" fill="none"/><path d="M289.5 535.6h0M292.1 537.7h0M257.0 536.8h0M292.5 592.2h0M302.1 541.8h0M295.5 554.6h0M277.9 567.5h0M276.2 574.0h0M275.4 538.7h0M257.3 575.4h0M294.6 543.5h0M248.0 562.6h0M276.5 543.3h0M306.1 592.0h0M269.2 546.6h0M281.1 545.5h0M299.2 538.4h0M250.2 565.3h0M280.7 589.6h0M292.1 567.7h0M275.7 589.8h0M259.7 560.1h0M278.2 588.5h0M288.8 544.4h0M263.7 529.1h0M266.4 592.3h0M287.9 544.7h0M281.8 584.8h0M289.5 555.3h0M261.5 535.0h0M249.1 574.0h0M296.6 569.7h0M243.4 589.4h0M271.7 585.0h0M304.5 551.9h0M307.1 568.8h0M243.2 570.2h0M300.8 576.9h0M264.8 576.7h0M297.1 564.3h0M240.7 566.2h0M286.4 529.8h0M266.1 556.4h0M244.2 569.0h0M303.2 550.9h0M296.2 577.2h0M306.7 539.0h0M292.4 587.4h0M243.9 549.1h0M269.6 536.8h0M297.8 551.5h0M271.9 548.1h0M247.2 543.7h0M256.1 583.9h0M265.3 537.0h0M294.4 575.9h0M278.7 576.9h0M267.2 546.9h0M282.5 591.9h0M241.8 570.4h0M242.4 559.1h0M287.4 591.6h0M287.4 564.6h0M299.5 584.2h0M272.4 549.0h0M258.9 564.0h0M292.2 588.5h0M278.1 550.5h0M306.5 587.4h0M270.6 592.5h0M283.7 533.9h0M272.4 545.2h0M245.0 592.8h0M282.8 536.1h0" stroke="#6c66c4" stroke-width="2.0" stroke-linecap="round" fill="none"/><path d="M260.5 577.9h0M246.7 581.9h0M264.7 544.7h0M287.6 531.9h0M273.4 563.8h0M276.4 543.6h0M261.5 586.5h0M296.9 567.1h0M278.8 582.6h0M260.8 567.2h0M276.8 565.7h0M285.5 569.9h0M286.5 587.7h0M299.2 568.3h0M283.0 566.8h0M244.2 547.9h0M281.3 534.4h0M260.5 576.6h0M288.8 557.5h0M252.4 548.4h0M275.9 531.7h0M301.6 588.2h0M267.4 535.8h0M257.4 542.6h0M264.1 556.7h0M264.2 564.2h0M264.7 582.5h0M245.0 534.6h0M245.8 530.3h0M275.4 565.3h0M297.4 588.7h0M244.5 541.4h0M256.4 592.2h0M274.4 555.4h0M268.3 550.1h0M282.7 563.7h0M297.4 583.3h0M292.4 541.7h0M248.0 580.9h0M264.5 570.8h0M286.5 534.3h0M302.9 582.0h0M280.9 566.8h0M252.9 573.9h0M275.4 569.0h0M267.2 549.0h0M253.9 568.8h0M285.6 538.1h0M294.0 587.0h0M252.0 548.8h0M250.2 570.7h0M299.5 567.0h0M299.5 591.7h0M292.6 565.3h0M282.6 556.1h0M261.9 581.9h0M303.7 558.5h0M244.9 584.0h0M295.8 542.3h0M286.3 573.0h0M267.1 585.8h0M307.0 543.5h0M307.0 545.2h0M251.1 579.3h0M294.9 590.5h0M290.4 583.5h0M302.0 592.6h0M242.1 591.3h0" stroke="#6c66c4" stroke-width="2.4" stroke-linecap="round" fill="none"/><path d="M273.9 537.7h0M302.9 547.4h0M274.5 563.0h0M275.7 531.4h0M306.0 531.6h0M294.4 572.4h0M256.8 588.1h0M294.9 531.7h0M289.4 540.4h0M279.5 530.3h0M283.2 579.8h0M242.9 531.7h0M252.7 591.6h0M267.3 565.3h0M300.6 552.0h0M270.6 572.5h0M266.3 551.1h0M283.4 562.1h0M295.4 554.2h0M248.4 561.0h0M241.6 564.5h0M242.3 573.7h0M305.8 543.8h0M254.8 540.1h0M295.2 538.5h0M296.7 567.9h0M270.5 570.1h0M243.5 574.9h0M275.9 558.7h0M271.3 590.7h0M269.9 530.6h0M244.1 546.4h0M300.8 561.0h0M306.7 531.6h0M294.6 536.2h0M287.4 577.0h0M249.4 549.1h0M263.9 573.0h0M269.1 536.3h0M290.3 535.5h0M275.5 551.6h0M275.7 581.7h0M295.8 544.9h0M275.6 580.4h0M250.8 572.3h0M260.1 562.7h0M273.1 560.8h0M245.1 533.3h0M278.9 551.8h0M289.1 553.1h0" stroke="#6c66c4" stroke-width="2.8" stroke-linecap="round" fill="none"/><path d="M281.7 549.5h0M260.5 545.4h0M242.5 558.0h0M282.7 592.4h0M291.8 545.1h0M259.1 543.2h0M240.5 536.8h0M243.3 565.3h0M243.7 541.5h0M286.4 540.7h0M274.1 581.4h0M268.5 538.4h0M268.9 553.1h0M292.3 536.3h0M305.9 562.4h0M268.3 583.5h0M271.1 548.3h0M255.7 585.5h0M290.1 583.4h0M276.5 532.9h0M284.2 574.2h0M279.5 529.7h0M268.4 577.3h0M243.2 579.0h0M297.3 590.1h0M300.7 577.0h0M243.4 550.2h0M265.4 577.4h0M295.5 559.1h0M260.2 541.6h0M285.9 561.0h0M270.9 588.3h0M304.2 533.2h0" stroke="#6c66c4" stroke-width="3.2" stroke-linecap="round" fill="none"/><path d="M253.3 558.8h0M305.7 531.9h0M283.8 586.7h0M249.0 555.8h0M241.0 548.0h0M281.7 575.5h0M277.8 572.0h0M283.8 546.5h0M305.6 578.1h0M251.3 586.3h0M302.5 532.7h0M273.1 536.0h0M282.2 568.4h0M276.6 533.1h0M279.4 545.4h0M255.3 558.4h0M251.6 532.9h0M302.5 543.9h0M283.4 563.1h0M278.4 539.9h0M273.2 531.4h0M306.7 577.2h0M263.5 555.2h0M275.9 539.2h0M255.8 547.9h0M259.1 568.4h0M272.4 541.3h0M280.9 591.8h0M275.1 582.1h0M305.1 540.8h0M264.1 578.7h0M291.9 590.0h0M305.2 559.8h0M289.7 538.2h0M292.4 576.5h0M249.6 560.9h0M269.1 548.3h0M263.6 545.1h0M282.6 575.2h0M299.5 530.8h0M246.2 577.0h0M305.5 557.6h0M253.1 559.2h0M270.9 542.3h0M262.3 572.0h0M255.2 564.4h0" stroke="#d44a78" stroke-width="0.8" stroke-linecap="round" fill="none"/><path d="M246.0 584.1h0M270.9 571.1h0M271.4 540.9h0M243.0 567.3h0M267.7 562.7h0M247.4 529.6h0M295.8 574.0h0M261.1 547.9h0M271.4 583.7h0M281.9 592.7h0M272.5 576.3h0M256.1 561.2h0M259.7 580.4h0M286.8 533.4h0M261.8 541.6h0M284.2 541.8h0M259.3 535.5h0M245.8 586.2h0M282.1 587.2h0M255.8 580.7h0M242.7 553.1h0M289.2 587.2h0M250.2 577.8h0M250.7 537.7h0M293.6 580.9h0M264.2 587.6h0M301.7 589.0h0M286.1 571.1h0M304.8 575.4h0M254.0 569.5h0M274.8 541.8h0M276.8 539.7h0M273.3 590.6h0M294.4 561.8h0M300.9 566.0h0M267.0 548.0h0M285.4 569.1h0M252.7 551.6h0M275.9 559.7h0M288.5 585.4h0M266.2 592.2h0M274.7 583.4h0M260.1 559.7h0M252.9 533.0h0M268.9 542.6h0M271.1 535.3h0M258.3 569.6h0M302.2 575.9h0M277.6 589.2h0M305.5 578.4h0M272.5 538.2h0M297.1 555.1h0M258.8 539.6h0M241.7 548.9h0M267.4 534.4h0M301.5 552.0h0M259.0 578.7h0M300.8 539.7h0M286.6 569.0h0M251.1 565.9h0M287.5 532.1h0M256.7 591.7h0M287.3 562.4h0M261.7 546.8h0M241.3 533.0h0M271.9 576.0h0M264.5 548.1h0M253.5 541.2h0M263.1 577.6h0M264.2 537.9h0M244.9 588.6h0M300.2 587.4h0M254.1 569.2h0M258.3 550.8h0M273.3 558.0h0M262.0 590.8h0M299.5 557.2h0M303.6 547.8h0M257.6 534.6h0M278.1 563.0h0M263.4 592.2h0" stroke="#d44a78" stroke-width="1.2" stroke-linecap="round" fill="none"/><path d="M298.7 583.4h0M260.9 572.2h0M279.0 560.1h0M241.6 530.7h0M275.6 572.4h0M263.2 584.9h0M290.1 559.3h0M270.3 534.5h0M280.5 546.4h0M254.2 570.5h0M265.6 584.8h0M282.9 553.8h0M295.4 545.2h0M261.9 584.4h0M282.2 579.0h0M296.3 574.4h0M285.6 555.5h0M296.7 591.6h0M290.5 585.2h0M272.2 583.7h0M305.4 552.6h0M300.9 550.1h0M303.3 568.8h0M292.8 579.3h0M271.8 583.2h0M278.1 562.6h0M296.2 537.2h0M306.9 576.0h0M255.5 548.1h0M297.4 573.8h0M280.1 545.0h0M252.4 566.9h0M250.8 549.2h0M297.6 575.5h0M297.9 577.5h0M248.1 529.3h0M293.2 569.6h0M247.8 540.4h0M267.1 544.0h0M297.7 536.7h0M255.5 584.8h0M258.8 591.0h0M266.8 561.6h0M241.1 584.6h0M247.9 571.3h0M299.6 567.9h0M241.8 539.8h0M252.9 546.6h0M306.3 580.8h0M283.1 559.9h0M305.8 540.5h0M248.6 552.9h0M299.7 537.2h0M247.4 550.5h0M303.8 556.1h0M290.9 579.8h0M260.2 562.9h0M269.3 548.1h0M306.1 534.5h0M295.8 542.0h0M262.0 559.1h0M260.8 566.8h0M300.6 532.5h0M284.9 583.1h0M245.9 534.0h0M278.5 564.6h0M273.6 532.9h0M250.8 592.1h0M279.9 529.1h0M284.7 558.5h0M252.3 541.0h0M267.0 573.3h0M251.3 563.0h0" stroke="#d44a78" stroke-width="1.6" stroke-linecap="round" fill="none"/><path d="M265.3 555.0h0M297.9 541.1h0M283.4 531.0h0M268.2 553.7h0M300.4 586.5h0M272.3 553.0h0M294.7 539.4h0M293.6 532.8h0M264.6 556.1h0M272.8 532.1h0M300.0 555.4h0M290.7 538.6h0M295.4 537.1h0M301.0 579.8h0M278.6 531.8h0M306.1 552.5h0M304.4 586.4h0M258.6 547.6h0M287.1 584.3h0M301.4 584.3h0M243.0 537.8h0M289.1 539.3h0M253.4 583.4h0M292.9 573.6h0M273.8 583.9h0M293.4 530.9h0M240.6 538.1h0M251.3 548.4h0M257.2 583.9h0M240.6 551.0h0M255.8 577.7h0M304.2 581.9h0M241.1 570.5h0M271.8 552.2h0M305.9 549.9h0M294.4 564.9h0M260.2 544.7h0M264.8 552.5h0M290.3 570.4h0M288.9 589.8h0M290.5 574.7h0M284.9 589.5h0M262.7 570.6h0M307.6 578.2h0M262.3 539.5h0M264.8 575.3h0M280.6 575.4h0M269.4 573.5h0M245.8 562.5h0M292.9 566.0h0M263.6 565.0h0M247.5 559.3h0" stroke="#f2e2f4" stroke-width="0.8" stroke-linecap="round" fill="none"/><path d="M276.3 559.7h0M273.1 529.6h0M307.4 560.0h0M265.5 566.7h0M248.9 561.7h0M244.0 536.5h0M243.6 557.0h0M264.3 542.3h0M258.5 554.3h0M283.3 572.4h0M294.6 546.0h0M284.5 533.7h0M305.8 564.3h0M266.5 538.1h0M276.3 573.1h0M245.8 578.5h0M281.3 578.2h0M295.5 584.3h0M270.4 566.9h0M303.7 556.0h0M287.1 546.9h0M249.2 554.1h0M279.5 555.8h0M282.4 530.0h0M287.5 571.9h0M293.6 536.4h0M295.7 565.2h0M253.0 549.8h0M290.3 535.4h0M283.2 552.0h0M290.8 539.3h0M244.3 571.6h0M267.5 565.9h0M245.6 564.1h0M294.1 579.6h0M275.1 547.2h0M244.6 563.3h0M247.3 538.8h0M301.8 591.0h0M271.4 588.9h0M306.4 543.4h0M287.0 545.2h0M253.9 577.4h0M260.7 590.5h0M296.6 560.4h0M273.0 588.6h0M306.0 537.8h0M240.6 545.4h0M258.0 590.8h0M299.9 574.9h0M295.0 557.7h0M298.0 560.4h0M288.7 545.6h0M307.6 544.9h0M267.6 558.7h0M260.2 561.0h0M275.7 534.3h0M249.6 580.4h0M280.2 575.1h0M273.0 585.2h0M254.1 537.4h0M264.8 567.4h0M247.3 572.0h0M244.0 537.2h0M271.3 571.3h0M247.9 557.6h0M298.1 588.4h0M301.3 555.4h0M302.9 570.7h0M277.6 557.4h0M283.3 548.3h0M291.6 587.1h0M302.8 581.4h0M255.1 545.5h0M248.6 560.8h0M304.9 585.4h0M285.2 535.4h0M270.1 531.1h0M305.2 556.0h0M253.5 551.4h0M299.0 590.3h0M263.9 557.9h0M240.9 537.3h0M252.5 540.9h0M276.5 591.2h0M245.3 582.2h0M247.5 577.2h0M302.7 567.4h0M277.6 541.6h0M297.2 580.5h0M261.7 559.1h0M251.7 581.0h0M273.1 576.2h0M265.4 591.3h0M262.4 564.8h0M306.9 530.7h0M307.8 566.3h0M295.7 557.5h0M296.5 539.5h0M245.6 567.8h0M248.9 573.4h0M288.2 535.5h0M259.8 540.2h0M278.7 565.6h0M301.1 589.4h0M246.9 539.7h0M290.0 543.0h0M298.9 531.7h0M299.7 532.4h0M282.1 529.2h0M264.5 536.0h0M258.9 565.8h0" stroke="#f2e2f4" stroke-width="1.2" stroke-linecap="round" fill="none"/><path d="M245.8 557.7h0M253.5 575.5h0M303.5 537.8h0M243.9 563.2h0M270.7 545.4h0M245.0 541.2h0M263.6 558.6h0M273.6 559.6h0M277.1 537.6h0M244.8 540.5h0M285.9 592.3h0M296.6 552.3h0M270.2 585.0h0M300.6 589.3h0M302.1 589.1h0M248.0 564.5h0M282.1 563.2h0M303.5 577.5h0M296.3 559.9h0M246.2 588.7h0M246.7 574.9h0M262.6 550.2h0M274.0 558.8h0M298.1 588.3h0M242.5 587.9h0M304.0 571.6h0M275.5 584.7h0M297.1 587.1h0M284.0 557.9h0M251.2 567.9h0M243.8 574.0h0M245.2 530.4h0M307.5 547.2h0M285.4 548.7h0M302.8 569.9h0M306.8 569.1h0M299.7 568.0h0M252.7 570.3h0M263.2 588.7h0M259.7 592.5h0M261.4 579.9h0M277.1 585.8h0M280.4 591.2h0M262.5 591.4h0M243.5 569.9h0M298.0 589.2h0M271.4 581.9h0M306.5 552.3h0M298.7 529.7h0M270.9 591.5h0M242.0 549.2h0M289.5 560.5h0M300.7 538.3h0M266.2 558.4h0M296.8 548.8h0M246.0 573.7h0M287.4 584.9h0M300.9 544.2h0M268.7 534.2h0M296.0 558.4h0M271.4 580.6h0M267.2 566.3h0M245.0 555.6h0M300.7 586.6h0M299.1 577.9h0M296.2 563.9h0M267.1 575.6h0M297.8 543.4h0M305.6 545.2h0M280.7 539.8h0M255.6 531.3h0M270.3 569.8h0M275.5 564.3h0M260.9 547.9h0M274.2 547.3h0M284.0 544.9h0M287.7 553.3h0M272.8 591.5h0M260.8 541.5h0M259.5 585.7h0M240.5 575.0h0M303.3 552.8h0M244.9 563.4h0M296.1 577.8h0M259.8 537.5h0M272.2 580.5h0M241.8 587.8h0M299.6 545.6h0M244.0 530.8h0M248.1 588.1h0M252.6 575.3h0M295.9 563.8h0M250.2 544.0h0M240.9 556.9h0M251.5 538.1h0M245.7 588.0h0" stroke="#f2e2f4" stroke-width="1.6" stroke-linecap="round" fill="none"/></g></g>
<rect x="241.25" y="529.1" width="65.8" height="63.7" fill="none" stroke="#2a2a2a" stroke-width="1.5"/>
<line x1="69.3" y1="518.8" x2="91" y2="518.8" stroke="#000" stroke-width="1.8"/>
<line x1="69.3" y1="584.1" x2="90.8" y2="584.1" stroke="#000" stroke-width="1.8"/>
<text x="317" y="395.2" font-size="14" font-weight="bold" fill="#000">h</text>
<line x1="361.2" y1="394.58" x2="361.2" y2="477.9" stroke="#777" stroke-width="1.3"/>
<line x1="360.6" y1="477.3" x2="446" y2="477.3" stroke="#777" stroke-width="1.3"/>
<line x1="357.2" y1="477.3" x2="361.2" y2="477.3" stroke="#777" stroke-width="1.2"/>
<text x="355.1" y="481.09" font-size="11" text-anchor="end">0</text>
<line x1="357.2" y1="456.62" x2="361.2" y2="456.62" stroke="#777" stroke-width="1.2"/>
<text x="355.1" y="460.96" font-size="11" text-anchor="end">2</text>
<line x1="357.2" y1="435.94" x2="361.2" y2="435.94" stroke="#777" stroke-width="1.2"/>
<text x="355.1" y="440.83" font-size="11" text-anchor="end">4</text>
<line x1="357.2" y1="415.26" x2="361.2" y2="415.26" stroke="#777" stroke-width="1.2"/>
<text x="355.1" y="420.7" font-size="11" text-anchor="end">6</text>
<line x1="357.2" y1="394.58" x2="361.2" y2="394.58" stroke="#777" stroke-width="1.2"/>
<text x="355.1" y="400.57" font-size="11" text-anchor="end">8</text>
<rect x="369.5" y="437.18" width="10.3" height="40.12" fill="none" stroke="#a6a6a6" stroke-width="2.0"/>
<line x1="374.65" y1="428.7" x2="374.65" y2="445.66" stroke="#a6a6a6" stroke-width="1.3"/>
<line x1="371.65" y1="428.7" x2="377.65" y2="428.7" stroke="#a6a6a6" stroke-width="1.3"/>
<line x1="371.65" y1="445.66" x2="377.65" y2="445.66" stroke="#a6a6a6" stroke-width="1.3"/>
<path d="M370.9 440.8h1.7v1.7h-1.7zM370.2 432.5h1.7v1.7h-1.7zM372.7 435.4h1.7v1.7h-1.7zM373.9 447.6h1.7v1.7h-1.7zM373.2 448.1h1.7v1.7h-1.7zM370.4 447.3h1.7v1.7h-1.7zM376.5 438.3h1.7v1.7h-1.7zM371.5 445.9h1.7v1.7h-1.7z" fill="#a6a6a6"/>
<line x1="374.65" y1="477.3" x2="374.65" y2="479.8" stroke="#777" stroke-width="1"/>
<rect x="389.2" y="442.14" width="10.6" height="35.16" fill="none" stroke="#16167e" stroke-width="2.0"/>
<line x1="394.5" y1="434.49" x2="394.5" y2="449.69" stroke="#16167e" stroke-width="1.3"/>
<line x1="391.5" y1="434.49" x2="397.5" y2="434.49" stroke="#16167e" stroke-width="1.3"/>
<line x1="391.5" y1="449.69" x2="397.5" y2="449.69" stroke="#16167e" stroke-width="1.3"/>
<path d="M397.4 438.4h1.7v1.7h-1.7zM392.8 439.5h1.7v1.7h-1.7zM389.8 430.4h1.7v1.7h-1.7zM391.9 433.1h1.7v1.7h-1.7zM390.4 449.4h1.7v1.7h-1.7zM396.3 445.7h1.7v1.7h-1.7zM394.3 448.6h1.7v1.7h-1.7zM392.6 438.1h1.7v1.7h-1.7z" fill="#16167e"/>
<line x1="394.5" y1="477.3" x2="394.5" y2="479.8" stroke="#777" stroke-width="1"/>
<rect x="409" y="430.36" width="10.7" height="46.94" fill="none" stroke="#1e1eec" stroke-width="2.0"/>
<line x1="414.35" y1="420.74" x2="414.35" y2="437.49" stroke="#1e1eec" stroke-width="1.3"/>
<line x1="411.35" y1="420.74" x2="417.35" y2="420.74" stroke="#1e1eec" stroke-width="1.3"/>
<line x1="411.35" y1="437.49" x2="417.35" y2="437.49" stroke="#1e1eec" stroke-width="1.3"/>
<path d="M409.8 428.3h1.7v1.7h-1.7zM411.0 440.6h1.7v1.7h-1.7zM412.9 425.0h1.7v1.7h-1.7zM414.2 434.2h1.7v1.7h-1.7zM411.8 430.7h1.7v1.7h-1.7zM415.2 422.1h1.7v1.7h-1.7zM414.1 435.9h1.7v1.7h-1.7zM416.7 428.9h1.7v1.7h-1.7z" fill="#1e1eec"/>
<line x1="414.35" y1="477.3" x2="414.35" y2="479.8" stroke="#777" stroke-width="1"/>
<rect x="429" y="473.16" width="10.7" height="4.14" fill="none" stroke="#ec4444" stroke-width="2.0"/>
<line x1="434.35" y1="466.96" x2="434.35" y2="477.3" stroke="#ec4444" stroke-width="1.3"/>
<line x1="431.35" y1="466.96" x2="437.35" y2="466.96" stroke="#ec4444" stroke-width="1.3"/>
<path d="M431.7 468.8h1.7v1.7h-1.7zM430.3 464.9h1.7v1.7h-1.7zM435.7 473.6h1.7v1.7h-1.7zM433.4 477.7h1.7v1.7h-1.7zM434.9 479.5h1.7v1.7h-1.7zM434.1 468.2h1.7v1.7h-1.7zM431.9 466.5h1.7v1.7h-1.7zM434.3 469.3h1.7v1.7h-1.7z" fill="#ec4444"/>
<line x1="434.35" y1="477.3" x2="434.35" y2="479.8" stroke="#777" stroke-width="1"/>
<text x="396.8" y="392.1" font-size="8.8"><tspan font-style="italic">P</tspan>&lt;0.0001</text>
<line x1="394.3" y1="397.2" x2="437.2" y2="397.2" stroke="#333" stroke-width="1.3"/>
<text x="384.1" y="408.6" font-size="8.8"><tspan font-style="italic">P</tspan>=0.0327</text>
<line x1="396.3" y1="413.5" x2="413.7" y2="413.5" stroke="#333" stroke-width="1.3"/>
<text transform="translate(335.3,436.7) rotate(-90)" font-size="11.5" text-anchor="middle">NAS</text>
<text x="316" y="502.9" font-size="14" font-weight="bold" fill="#000">i</text>
<line x1="363" y1="518.8" x2="363" y2="596.1" stroke="#151515" stroke-width="1.3"/>
<line x1="362.4" y1="595.5" x2="448.9" y2="595.5" stroke="#151515" stroke-width="1.3"/>
<line x1="359" y1="595.5" x2="363" y2="595.5" stroke="#151515" stroke-width="1.2"/>
<text x="359.4" y="601.31" font-size="11.2" text-anchor="end">0</text>
<line x1="359" y1="576.33" x2="363" y2="576.33" stroke="#151515" stroke-width="1.2"/>
<text x="359.4" y="581.91" font-size="11.2" text-anchor="end">25</text>
<line x1="359" y1="557.15" x2="363" y2="557.15" stroke="#151515" stroke-width="1.2"/>
<text x="359.4" y="562.51" font-size="11.2" text-anchor="end">50</text>
<line x1="359" y1="537.98" x2="363" y2="537.98" stroke="#151515" stroke-width="1.2"/>
<text x="359.4" y="543.11" font-size="11.2" text-anchor="end">75</text>
<line x1="359" y1="518.8" x2="363" y2="518.8" stroke="#151515" stroke-width="1.2"/>
<text x="359.4" y="523.71" font-size="11.2" text-anchor="end">100</text>
<rect x="370.2" y="545.8" width="10.2" height="49.7" fill="none" stroke="#a6a6a6" stroke-width="2.0"/>
<line x1="375.3" y1="541.2" x2="375.3" y2="550.4" stroke="#a6a6a6" stroke-width="1.3"/>
<line x1="372.3" y1="541.2" x2="378.3" y2="541.2" stroke="#a6a6a6" stroke-width="1.3"/>
<line x1="372.3" y1="550.4" x2="378.3" y2="550.4" stroke="#a6a6a6" stroke-width="1.3"/>
<path d="M374.1 543.8h1.7v1.7h-1.7zM378.2 540.3h1.7v1.7h-1.7zM375.8 545.3h1.7v1.7h-1.7zM376.1 551.0h1.7v1.7h-1.7zM378.6 542.9h1.7v1.7h-1.7zM372.6 540.5h1.7v1.7h-1.7zM375.9 546.5h1.7v1.7h-1.7zM374.1 551.5h1.7v1.7h-1.7z" fill="#a6a6a6"/>
<line x1="375.3" y1="595.5" x2="375.3" y2="598" stroke="#151515" stroke-width="1"/>
<rect x="390" y="557.69" width="10.5" height="37.81" fill="none" stroke="#16167e" stroke-width="2.0"/>
<line x1="395.25" y1="553.85" x2="395.25" y2="561.52" stroke="#16167e" stroke-width="1.3"/>
<line x1="392.25" y1="553.85" x2="398.25" y2="553.85" stroke="#16167e" stroke-width="1.3"/>
<line x1="392.25" y1="561.52" x2="398.25" y2="561.52" stroke="#16167e" stroke-width="1.3"/>
<path d="M391.2 560.7h1.7v1.7h-1.7zM396.7 561.9h1.7v1.7h-1.7zM392.3 561.1h1.7v1.7h-1.7zM397.5 558.1h1.7v1.7h-1.7zM394.0 561.7h1.7v1.7h-1.7zM397.6 556.3h1.7v1.7h-1.7zM397.5 553.2h1.7v1.7h-1.7zM393.7 559.4h1.7v1.7h-1.7z" fill="#16167e"/>
<line x1="395.25" y1="595.5" x2="395.25" y2="598" stroke="#151515" stroke-width="1"/>
<rect x="410" y="527.39" width="10.7" height="68.11" fill="none" stroke="#1e1eec" stroke-width="2.0"/>
<line x1="415.35" y1="523.56" x2="415.35" y2="531.23" stroke="#1e1eec" stroke-width="1.3"/>
<line x1="412.35" y1="523.56" x2="418.35" y2="523.56" stroke="#1e1eec" stroke-width="1.3"/>
<line x1="412.35" y1="531.23" x2="418.35" y2="531.23" stroke="#1e1eec" stroke-width="1.3"/>
<path d="M417.7 528.2h1.7v1.7h-1.7zM411.6 521.3h1.7v1.7h-1.7zM412.2 530.3h1.7v1.7h-1.7zM414.4 529.6h1.7v1.7h-1.7zM412.5 525.5h1.7v1.7h-1.7zM413.8 532.2h1.7v1.7h-1.7zM415.1 528.0h1.7v1.7h-1.7zM416.1 521.3h1.7v1.7h-1.7z" fill="#1e1eec"/>
<line x1="415.35" y1="595.5" x2="415.35" y2="598" stroke="#151515" stroke-width="1"/>
<rect x="429.4" y="573.03" width="11.3" height="22.47" fill="none" stroke="#e62424" stroke-width="2.0"/>
<line x1="435.05" y1="566.89" x2="435.05" y2="579.16" stroke="#e62424" stroke-width="1.3"/>
<line x1="432.05" y1="566.89" x2="438.05" y2="566.89" stroke="#e62424" stroke-width="1.3"/>
<line x1="432.05" y1="579.16" x2="438.05" y2="579.16" stroke="#e62424" stroke-width="1.3"/>
<path d="M435.2 571.9h1.7v1.7h-1.7zM430.5 568.9h1.7v1.7h-1.7zM436.6 564.8h1.7v1.7h-1.7zM436.7 565.3h1.7v1.7h-1.7zM433.4 574.2h1.7v1.7h-1.7zM435.3 579.5h1.7v1.7h-1.7zM430.6 580.2h1.7v1.7h-1.7zM431.4 577.5h1.7v1.7h-1.7z" fill="#e62424"/>
<line x1="435.05" y1="595.5" x2="435.05" y2="598" stroke="#151515" stroke-width="1"/>
<text x="401.9" y="498.8" font-size="8.8"><tspan font-style="italic">P</tspan>&lt;0.0001</text>
<line x1="393.7" y1="502.5" x2="437.6" y2="502.5" stroke="#333" stroke-width="1.3"/>
<text x="391.6" y="513.1" font-size="8.8"><tspan font-style="italic">P</tspan>&lt;0.0001</text>
<line x1="393.7" y1="517.2" x2="412.1" y2="517.2" stroke="#333" stroke-width="1.3"/>
<text x="370.2" y="528" font-size="8.8"><tspan font-style="italic">P</tspan>=0.0001</text>
<line x1="376.3" y1="533.5" x2="395.1" y2="533.5" stroke="#333" stroke-width="1.3"/>
<text transform="translate(335.8,552) rotate(-90)" font-size="11.5" text-anchor="middle">Oil red O area (%)</text>
<text x="468.3" y="395" font-size="14" font-weight="bold" fill="#000">j</text>
<line x1="521.4" y1="394.7" x2="521.4" y2="478.7" stroke="#151515" stroke-width="1.3"/>
<line x1="520.8" y1="478.1" x2="615.2" y2="478.1" stroke="#151515" stroke-width="1.3"/>
<line x1="517.4" y1="478.1" x2="521.4" y2="478.1" stroke="#151515" stroke-width="1.2"/>
<text x="516.3" y="476.24" font-size="11" text-anchor="end">0</text>
<line x1="517.4" y1="457.25" x2="521.4" y2="457.25" stroke="#151515" stroke-width="1.2"/>
<text x="517.7" y="461.46" font-size="11" text-anchor="end">1.0</text>
<line x1="517.4" y1="436.4" x2="521.4" y2="436.4" stroke="#151515" stroke-width="1.2"/>
<text x="517.7" y="441.09" font-size="11" text-anchor="end">2.0</text>
<line x1="517.4" y1="415.55" x2="521.4" y2="415.55" stroke="#151515" stroke-width="1.2"/>
<text x="517.7" y="420.71" font-size="11" text-anchor="end">3.0</text>
<line x1="517.4" y1="394.7" x2="521.4" y2="394.7" stroke="#151515" stroke-width="1.2"/>
<text x="517.7" y="400.34" font-size="11" text-anchor="end">4.0</text>
<rect x="530.6" y="424.31" width="11.3" height="53.79" fill="none" stroke="#a6a6a6" stroke-width="2.0"/>
<line x1="536.25" y1="414.92" x2="536.25" y2="433.69" stroke="#a6a6a6" stroke-width="1.3"/>
<line x1="533.25" y1="414.92" x2="539.25" y2="414.92" stroke="#a6a6a6" stroke-width="1.3"/>
<line x1="533.25" y1="433.69" x2="539.25" y2="433.69" stroke="#a6a6a6" stroke-width="1.3"/>
<path d="M531.6 428.0h1.7v1.7h-1.7zM532.5 437.5h1.7v1.7h-1.7zM534.3 434.7h1.7v1.7h-1.7zM538.5 436.8h1.7v1.7h-1.7zM532.4 420.2h1.7v1.7h-1.7zM534.1 430.4h1.7v1.7h-1.7zM532.2 427.3h1.7v1.7h-1.7zM539.5 413.6h1.7v1.7h-1.7z" fill="#a6a6a6"/>
<line x1="536.25" y1="478.1" x2="536.25" y2="480.6" stroke="#151515" stroke-width="1"/>
<rect x="551.4" y="437.03" width="11.9" height="41.07" fill="none" stroke="#16167e" stroke-width="2.0"/>
<line x1="557.35" y1="429.73" x2="557.35" y2="444.32" stroke="#16167e" stroke-width="1.3"/>
<line x1="554.35" y1="429.73" x2="560.35" y2="429.73" stroke="#16167e" stroke-width="1.3"/>
<line x1="554.35" y1="444.32" x2="560.35" y2="444.32" stroke="#16167e" stroke-width="1.3"/>
<path d="M556.4 436.9h1.7v1.7h-1.7zM553.2 445.2h1.7v1.7h-1.7zM554.5 439.6h1.7v1.7h-1.7zM553.7 429.0h1.7v1.7h-1.7zM560.3 446.6h1.7v1.7h-1.7zM553.5 435.6h1.7v1.7h-1.7zM552.5 435.2h1.7v1.7h-1.7zM560.5 435.6h1.7v1.7h-1.7z" fill="#16167e"/>
<line x1="557.35" y1="478.1" x2="557.35" y2="480.6" stroke="#151515" stroke-width="1"/>
<rect x="572.9" y="419.3" width="11.9" height="58.8" fill="none" stroke="#1e1eec" stroke-width="2.0"/>
<line x1="578.85" y1="410.55" x2="578.85" y2="428.06" stroke="#1e1eec" stroke-width="1.3"/>
<line x1="575.85" y1="410.55" x2="581.85" y2="410.55" stroke="#1e1eec" stroke-width="1.3"/>
<line x1="575.85" y1="428.06" x2="581.85" y2="428.06" stroke="#1e1eec" stroke-width="1.3"/>
<path d="M579.6 408.9h1.7v1.7h-1.7zM576.9 424.7h1.7v1.7h-1.7zM580.3 427.2h1.7v1.7h-1.7zM580.3 417.6h1.7v1.7h-1.7zM575.7 422.9h1.7v1.7h-1.7zM582.1 410.3h1.7v1.7h-1.7zM580.6 409.2h1.7v1.7h-1.7zM580.0 410.1h1.7v1.7h-1.7z" fill="#1e1eec"/>
<line x1="578.85" y1="478.1" x2="578.85" y2="480.6" stroke="#151515" stroke-width="1"/>
<rect x="594" y="455.17" width="12.3" height="22.94" fill="none" stroke="#ec4444" stroke-width="2.0"/>
<line x1="600.15" y1="454.54" x2="600.15" y2="455.79" stroke="#ec4444" stroke-width="1.3"/>
<line x1="597.15" y1="454.54" x2="603.15" y2="454.54" stroke="#ec4444" stroke-width="1.3"/>
<line x1="597.15" y1="455.79" x2="603.15" y2="455.79" stroke="#ec4444" stroke-width="1.3"/>
<path d="M599.4 454.8h1.7v1.7h-1.7zM595.3 454.6h1.7v1.7h-1.7zM597.4 455.2h1.7v1.7h-1.7zM600.9 454.8h1.7v1.7h-1.7zM598.9 453.5h1.7v1.7h-1.7zM603.4 453.5h1.7v1.7h-1.7zM598.2 453.5h1.7v1.7h-1.7zM597.0 454.8h1.7v1.7h-1.7z" fill="#ec4444"/>
<line x1="600.15" y1="478.1" x2="600.15" y2="480.6" stroke="#151515" stroke-width="1"/>
<text x="564.6" y="375.3" font-size="8.8"><tspan font-style="italic">P</tspan>=0.0001</text>
<line x1="559.7" y1="379.3" x2="600.4" y2="379.3" stroke="#333" stroke-width="1.3"/>
<text x="556.9" y="388.2" font-size="8.8"><tspan font-style="italic">P</tspan>=0.0003</text>
<line x1="556.9" y1="391.7" x2="575.4" y2="391.7" stroke="#333" stroke-width="1.3"/>
<text x="524.9" y="402.9" font-size="8.8"><tspan font-style="italic">P</tspan>=0.0119</text>
<line x1="538.8" y1="406.6" x2="556.8" y2="406.6" stroke="#333" stroke-width="1.3"/>
<text transform="translate(491.2,422.6) rotate(-90)" font-size="11.5" text-anchor="middle">Liver weight (g)</text>
<text x="468.5" y="496.8" font-size="14" font-weight="bold" fill="#000">k</text>
<line x1="522" y1="509.32" x2="522" y2="595.6" stroke="#6a6a6a" stroke-width="1.3"/>
<line x1="521.4" y1="595" x2="610.3" y2="595" stroke="#6a6a6a" stroke-width="1.3"/>
<line x1="518" y1="595" x2="522" y2="595" stroke="#6a6a6a" stroke-width="1.2"/>
<text x="516.6" y="598.24" font-size="11" text-anchor="end">0</text>
<line x1="518" y1="573.58" x2="522" y2="573.58" stroke="#6a6a6a" stroke-width="1.2"/>
<text x="516.6" y="577.74" font-size="11" text-anchor="end">2</text>
<line x1="518" y1="552.16" x2="522" y2="552.16" stroke="#6a6a6a" stroke-width="1.2"/>
<text x="516.6" y="557.25" font-size="11" text-anchor="end">4</text>
<line x1="518" y1="530.74" x2="522" y2="530.74" stroke="#6a6a6a" stroke-width="1.2"/>
<text x="516.6" y="536.75" font-size="11" text-anchor="end">6</text>
<line x1="518" y1="509.32" x2="522" y2="509.32" stroke="#6a6a6a" stroke-width="1.2"/>
<text x="516.6" y="516.26" font-size="11" text-anchor="end">8</text>
<rect x="530.3" y="538.67" width="10.6" height="56.33" fill="none" stroke="#a6a6a6" stroke-width="2.0"/>
<line x1="535.6" y1="530.1" x2="535.6" y2="547.23" stroke="#a6a6a6" stroke-width="1.3"/>
<line x1="532.6" y1="530.1" x2="538.6" y2="530.1" stroke="#a6a6a6" stroke-width="1.3"/>
<line x1="532.6" y1="547.23" x2="538.6" y2="547.23" stroke="#a6a6a6" stroke-width="1.3"/>
<path d="M532.3 545.6h1.7v1.7h-1.7zM538.1 534.6h1.7v1.7h-1.7zM534.6 529.1h1.7v1.7h-1.7zM537.3 533.9h1.7v1.7h-1.7zM536.1 548.5h1.7v1.7h-1.7zM537.1 527.3h1.7v1.7h-1.7zM534.6 531.4h1.7v1.7h-1.7zM537.2 546.1h1.7v1.7h-1.7z" fill="#a6a6a6"/>
<line x1="535.6" y1="595" x2="535.6" y2="597.5" stroke="#6a6a6a" stroke-width="1"/>
<rect x="549.9" y="552.8" width="11.1" height="42.2" fill="none" stroke="#16167e" stroke-width="2.0"/>
<line x1="555.45" y1="544.77" x2="555.45" y2="560.84" stroke="#16167e" stroke-width="1.3"/>
<line x1="552.45" y1="544.77" x2="558.45" y2="544.77" stroke="#16167e" stroke-width="1.3"/>
<line x1="552.45" y1="560.84" x2="558.45" y2="560.84" stroke="#16167e" stroke-width="1.3"/>
<path d="M557.1 556.0h1.7v1.7h-1.7zM553.7 540.6h1.7v1.7h-1.7zM558.4 554.3h1.7v1.7h-1.7zM551.8 546.5h1.7v1.7h-1.7zM551.7 560.9h1.7v1.7h-1.7zM557.2 542.2h1.7v1.7h-1.7zM557.3 560.5h1.7v1.7h-1.7zM555.9 540.4h1.7v1.7h-1.7z" fill="#16167e"/>
<line x1="555.45" y1="595" x2="555.45" y2="597.5" stroke="#6a6a6a" stroke-width="1"/>
<rect x="570.5" y="536.2" width="10.8" height="58.8" fill="none" stroke="#1e1eec" stroke-width="2.0"/>
<line x1="575.9" y1="530.85" x2="575.9" y2="541.56" stroke="#1e1eec" stroke-width="1.3"/>
<line x1="572.9" y1="530.85" x2="578.9" y2="530.85" stroke="#1e1eec" stroke-width="1.3"/>
<line x1="572.9" y1="541.56" x2="578.9" y2="541.56" stroke="#1e1eec" stroke-width="1.3"/>
<path d="M575.5 537.8h1.7v1.7h-1.7zM571.0 541.3h1.7v1.7h-1.7zM576.3 527.8h1.7v1.7h-1.7zM578.7 534.9h1.7v1.7h-1.7zM578.2 536.4h1.7v1.7h-1.7zM572.6 530.1h1.7v1.7h-1.7zM573.3 539.3h1.7v1.7h-1.7zM575.8 539.5h1.7v1.7h-1.7z" fill="#1e1eec"/>
<line x1="575.9" y1="595" x2="575.9" y2="597.5" stroke="#6a6a6a" stroke-width="1"/>
<rect x="590.3" y="561.37" width="11.3" height="33.63" fill="none" stroke="#ec4444" stroke-width="2.0"/>
<line x1="595.95" y1="559.23" x2="595.95" y2="563.51" stroke="#ec4444" stroke-width="1.3"/>
<line x1="592.95" y1="559.23" x2="598.95" y2="559.23" stroke="#ec4444" stroke-width="1.3"/>
<line x1="592.95" y1="563.51" x2="598.95" y2="563.51" stroke="#ec4444" stroke-width="1.3"/>
<path d="M594.4 562.1h1.7v1.7h-1.7zM598.5 562.9h1.7v1.7h-1.7zM594.7 561.5h1.7v1.7h-1.7zM598.5 560.0h1.7v1.7h-1.7zM598.6 561.0h1.7v1.7h-1.7zM595.4 560.5h1.7v1.7h-1.7zM591.1 560.4h1.7v1.7h-1.7zM592.4 560.9h1.7v1.7h-1.7z" fill="#ec4444"/>
<line x1="595.95" y1="595" x2="595.95" y2="597.5" stroke="#6a6a6a" stroke-width="1"/>
<text x="547.3" y="500.6" font-size="8.8"><tspan font-style="italic">P</tspan>=0.0001</text>
<line x1="556.6" y1="505.2" x2="573" y2="505.2" stroke="#333" stroke-width="1.3"/>
<text x="526.2" y="517.4" font-size="8.8"><tspan font-style="italic">P</tspan>=0.0007</text>
<line x1="535.6" y1="520.9" x2="555" y2="520.9" stroke="#333" stroke-width="1.3"/>
<text x="568.3" y="517.4" font-size="8.8"><tspan font-style="italic">P</tspan>=0.0439</text>
<line x1="560.6" y1="520.9" x2="598" y2="520.9" stroke="#333" stroke-width="1.3"/>
<text transform="translate(493.6,548) rotate(-90)" font-size="11.5" text-anchor="middle">Liver index (%)</text>
<circle cx="618.9" cy="388.4" r="3" fill="#8a8a8a"/>
<text x="629" y="392.1" font-size="11.5">Vector</text>
<circle cx="618.9" cy="404.8" r="3" fill="#14146e"/>
<text x="629" y="407" font-size="11.5">IDH1- WT</text>
<circle cx="618.9" cy="419.7" r="3" fill="#1414e6"/>
<text x="629" y="423.2" font-size="11.5">IDH1- 4KR</text>
<circle cx="618.9" cy="435" r="3" fill="#e81414"/>
<text x="629" y="441.6" font-size="11.5">IDH1- 4KQ</text>
<text x="3.5" y="620" font-size="14" font-weight="bold" fill="#000">l</text>
<line x1="56.2" y1="628.3" x2="56.2" y2="729.1" stroke="#151515" stroke-width="1.3"/>
<line x1="55.6" y1="728.5" x2="144.5" y2="728.5" stroke="#151515" stroke-width="1.3"/>
<line x1="52.2" y1="728.5" x2="56.2" y2="728.5" stroke="#151515" stroke-width="1.2"/>
<text x="50.8" y="731.84" font-size="11" text-anchor="end">0</text>
<line x1="52.2" y1="695.1" x2="56.2" y2="695.1" stroke="#151515" stroke-width="1.2"/>
<text x="50.8" y="698.77" font-size="11" text-anchor="end">0.2</text>
<line x1="52.2" y1="661.7" x2="56.2" y2="661.7" stroke="#151515" stroke-width="1.2"/>
<text x="50.8" y="665.7" font-size="11" text-anchor="end">0.4</text>
<line x1="52.2" y1="628.3" x2="56.2" y2="628.3" stroke="#151515" stroke-width="1.2"/>
<text x="50.8" y="632.64" font-size="11" text-anchor="end">0.6</text>
<rect x="64.5" y="708.46" width="12.2" height="20.04" fill="none" stroke="#a6a6a6" stroke-width="2.0"/>
<line x1="70.6" y1="701.78" x2="70.6" y2="715.14" stroke="#a6a6a6" stroke-width="1.3"/>
<line x1="67.6" y1="701.78" x2="73.6" y2="701.78" stroke="#a6a6a6" stroke-width="1.3"/>
<line x1="67.6" y1="715.14" x2="73.6" y2="715.14" stroke="#a6a6a6" stroke-width="1.3"/>
<path d="M72.3 717.6h1.7v1.7h-1.7zM69.5 714.2h1.7v1.7h-1.7zM70.2 703.1h1.7v1.7h-1.7zM69.9 711.1h1.7v1.7h-1.7zM72.1 706.5h1.7v1.7h-1.7zM70.3 715.5h1.7v1.7h-1.7zM67.9 712.7h1.7v1.7h-1.7zM69.8 702.2h1.7v1.7h-1.7z" fill="#a6a6a6"/>
<line x1="70.6" y1="728.5" x2="70.6" y2="731" stroke="#151515" stroke-width="1"/>
<rect x="84.2" y="690.09" width="12.2" height="38.41" fill="none" stroke="#16167e" stroke-width="2.0"/>
<line x1="90.3" y1="685.08" x2="90.3" y2="695.1" stroke="#16167e" stroke-width="1.3"/>
<line x1="87.3" y1="685.08" x2="93.3" y2="685.08" stroke="#16167e" stroke-width="1.3"/>
<line x1="87.3" y1="695.1" x2="93.3" y2="695.1" stroke="#16167e" stroke-width="1.3"/>
<path d="M91.6 688.3h1.7v1.7h-1.7zM89.0 683.0h1.7v1.7h-1.7zM89.5 687.5h1.7v1.7h-1.7zM91.1 689.1h1.7v1.7h-1.7zM89.7 690.0h1.7v1.7h-1.7zM93.2 689.6h1.7v1.7h-1.7zM92.6 686.2h1.7v1.7h-1.7zM87.4 682.6h1.7v1.7h-1.7z" fill="#16167e"/>
<line x1="90.3" y1="728.5" x2="90.3" y2="731" stroke="#151515" stroke-width="1"/>
<rect x="103.9" y="713.64" width="12.2" height="14.86" fill="none" stroke="#1e1eec" stroke-width="2.0"/>
<line x1="110" y1="707.79" x2="110" y2="719.48" stroke="#1e1eec" stroke-width="1.3"/>
<line x1="107" y1="707.79" x2="113" y2="707.79" stroke="#1e1eec" stroke-width="1.3"/>
<line x1="107" y1="719.48" x2="113" y2="719.48" stroke="#1e1eec" stroke-width="1.3"/>
<path d="M112.9 711.7h1.7v1.7h-1.7zM106.1 706.8h1.7v1.7h-1.7zM108.7 719.4h1.7v1.7h-1.7zM107.0 720.3h1.7v1.7h-1.7zM110.6 720.3h1.7v1.7h-1.7zM112.5 707.8h1.7v1.7h-1.7zM111.0 718.8h1.7v1.7h-1.7zM106.2 710.0h1.7v1.7h-1.7z" fill="#1e1eec"/>
<line x1="110" y1="728.5" x2="110" y2="731" stroke="#151515" stroke-width="1"/>
<rect x="123.6" y="676.73" width="12.3" height="51.77" fill="none" stroke="#ee1818" stroke-width="2.0"/>
<line x1="129.75" y1="661.7" x2="129.75" y2="690.09" stroke="#ee1818" stroke-width="1.3"/>
<line x1="126.75" y1="661.7" x2="132.75" y2="661.7" stroke="#ee1818" stroke-width="1.3"/>
<line x1="126.75" y1="690.09" x2="132.75" y2="690.09" stroke="#ee1818" stroke-width="1.3"/>
<path d="M132.8 659.6h1.7v1.7h-1.7zM132.7 687.8h1.7v1.7h-1.7zM128.8 680.2h1.7v1.7h-1.7zM131.7 655.0h1.7v1.7h-1.7zM128.3 690.3h1.7v1.7h-1.7zM127.5 675.2h1.7v1.7h-1.7zM127.4 688.8h1.7v1.7h-1.7zM124.9 666.4h1.7v1.7h-1.7z" fill="#ee1818"/>
<line x1="129.75" y1="728.5" x2="129.75" y2="731" stroke="#151515" stroke-width="1"/>
<text x="93" y="635.7" font-size="8.8"><tspan font-style="italic">P</tspan>=0.0183</text>
<line x1="92.4" y1="639.4" x2="131.4" y2="639.4" stroke="#333" stroke-width="1.3"/>
<text x="66.1" y="652.1" font-size="8.8"><tspan font-style="italic">P</tspan>=0.0012</text>
<line x1="69.6" y1="655.2" x2="89.8" y2="655.2" stroke="#333" stroke-width="1.3"/>
<text x="84.3" y="670.5" font-size="8.8"><tspan font-style="italic">P</tspan>&lt;0.0001</text>
<line x1="91.5" y1="675.5" x2="109.5" y2="675.5" stroke="#333" stroke-width="1.3"/>
<text transform="translate(17.1,677) rotate(-90)" font-size="11.5" text-anchor="middle">IDH1 activity</text>
<text transform="translate(32.5,676.6) rotate(-90)" font-size="11.5" text-anchor="middle">(mU/ml)</text>
<text x="157.2" y="619.7" font-size="14" font-weight="bold" fill="#000">m</text>
<line x1="216.9" y1="628.49" x2="216.9" y2="729.5" stroke="#151515" stroke-width="1.3"/>
<line x1="216.3" y1="728.9" x2="302" y2="728.9" stroke="#151515" stroke-width="1.3"/>
<line x1="212.9" y1="728.9" x2="216.9" y2="728.9" stroke="#151515" stroke-width="1.2"/>
<text x="210.7" y="732.84" font-size="11" text-anchor="end">0</text>
<line x1="212.9" y1="708.82" x2="216.9" y2="708.82" stroke="#151515" stroke-width="1.2"/>
<text x="210.7" y="712.91" font-size="11" text-anchor="end">70</text>
<line x1="212.9" y1="688.73" x2="216.9" y2="688.73" stroke="#151515" stroke-width="1.2"/>
<text x="210.7" y="692.99" font-size="11" text-anchor="end">140</text>
<line x1="212.9" y1="668.65" x2="216.9" y2="668.65" stroke="#151515" stroke-width="1.2"/>
<text x="210.7" y="673.07" font-size="11" text-anchor="end">210</text>
<line x1="212.9" y1="648.57" x2="216.9" y2="648.57" stroke="#151515" stroke-width="1.2"/>
<text x="210.7" y="653.15" font-size="11" text-anchor="end">280</text>
<line x1="212.9" y1="628.49" x2="216.9" y2="628.49" stroke="#151515" stroke-width="1.2"/>
<text x="210.7" y="633.22" font-size="11" text-anchor="end">350</text>
<rect x="225" y="665.29" width="11.6" height="63.61" fill="none" stroke="#a6a6a6" stroke-width="2.0"/>
<line x1="230.8" y1="653.24" x2="230.8" y2="677.34" stroke="#a6a6a6" stroke-width="1.3"/>
<line x1="227.8" y1="653.24" x2="233.8" y2="653.24" stroke="#a6a6a6" stroke-width="1.3"/>
<line x1="227.8" y1="677.34" x2="233.8" y2="677.34" stroke="#a6a6a6" stroke-width="1.3"/>
<path d="M229.4 662.5h1.7v1.7h-1.7zM228.5 681.9h1.7v1.7h-1.7zM230.1 660.0h1.7v1.7h-1.7zM234.0 680.2h1.7v1.7h-1.7zM233.9 654.0h1.7v1.7h-1.7zM228.0 678.7h1.7v1.7h-1.7zM232.3 681.1h1.7v1.7h-1.7zM226.8 672.7h1.7v1.7h-1.7z" fill="#a6a6a6"/>
<line x1="230.8" y1="728.9" x2="230.8" y2="731.4" stroke="#151515" stroke-width="1"/>
<rect x="244.7" y="700.21" width="11.6" height="28.69" fill="none" stroke="#16167e" stroke-width="2.0"/>
<line x1="250.5" y1="689.31" x2="250.5" y2="711.11" stroke="#16167e" stroke-width="1.3"/>
<line x1="247.5" y1="689.31" x2="253.5" y2="689.31" stroke="#16167e" stroke-width="1.3"/>
<line x1="247.5" y1="711.11" x2="253.5" y2="711.11" stroke="#16167e" stroke-width="1.3"/>
<path d="M253.1 701.9h1.7v1.7h-1.7zM247.6 688.9h1.7v1.7h-1.7zM253.2 710.8h1.7v1.7h-1.7zM251.3 697.1h1.7v1.7h-1.7zM245.9 712.8h1.7v1.7h-1.7zM249.0 693.2h1.7v1.7h-1.7zM253.3 713.3h1.7v1.7h-1.7zM252.2 695.0h1.7v1.7h-1.7z" fill="#16167e"/>
<line x1="250.5" y1="728.9" x2="250.5" y2="731.4" stroke="#151515" stroke-width="1"/>
<rect x="264.4" y="648.97" width="11.6" height="79.93" fill="none" stroke="#1e1eec" stroke-width="2.0"/>
<line x1="270.2" y1="638.64" x2="270.2" y2="659.3" stroke="#1e1eec" stroke-width="1.3"/>
<line x1="267.2" y1="638.64" x2="273.2" y2="638.64" stroke="#1e1eec" stroke-width="1.3"/>
<line x1="267.2" y1="659.3" x2="273.2" y2="659.3" stroke="#1e1eec" stroke-width="1.3"/>
<path d="M272.3 661.0h1.7v1.7h-1.7zM272.4 661.5h1.7v1.7h-1.7zM268.0 649.6h1.7v1.7h-1.7zM272.9 646.5h1.7v1.7h-1.7zM266.2 655.3h1.7v1.7h-1.7zM267.2 647.3h1.7v1.7h-1.7zM266.5 660.2h1.7v1.7h-1.7zM266.8 662.1h1.7v1.7h-1.7z" fill="#1e1eec"/>
<line x1="270.2" y1="728.9" x2="270.2" y2="731.4" stroke="#151515" stroke-width="1"/>
<rect x="284.1" y="713.98" width="11.2" height="14.92" fill="none" stroke="#ec4444" stroke-width="2.0"/>
<line x1="289.7" y1="708.82" x2="289.7" y2="719.15" stroke="#ec4444" stroke-width="1.3"/>
<line x1="286.7" y1="708.82" x2="292.7" y2="708.82" stroke="#ec4444" stroke-width="1.3"/>
<line x1="286.7" y1="719.15" x2="292.7" y2="719.15" stroke="#ec4444" stroke-width="1.3"/>
<path d="M287.2 716.0h1.7v1.7h-1.7zM287.1 709.1h1.7v1.7h-1.7zM286.1 713.1h1.7v1.7h-1.7zM284.8 715.5h1.7v1.7h-1.7zM284.8 717.0h1.7v1.7h-1.7zM289.3 709.5h1.7v1.7h-1.7zM288.6 717.9h1.7v1.7h-1.7zM285.5 706.4h1.7v1.7h-1.7z" fill="#ec4444"/>
<line x1="289.7" y1="728.9" x2="289.7" y2="731.4" stroke="#151515" stroke-width="1"/>
<text x="254" y="609.9" font-size="8.8"><tspan font-style="italic">P</tspan>=0.0324</text>
<line x1="252.9" y1="613.6" x2="292.3" y2="613.6" stroke="#333" stroke-width="1.3"/>
<text x="247.4" y="622.6" font-size="8.8"><tspan font-style="italic">P</tspan>&lt;0.0001</text>
<line x1="251.2" y1="626.3" x2="270.9" y2="626.3" stroke="#333" stroke-width="1.3"/>
<text x="227.1" y="635.5" font-size="8.8"><tspan font-style="italic">P</tspan>&lt;0.0001</text>
<line x1="232.1" y1="639.4" x2="250.7" y2="639.4" stroke="#333" stroke-width="1.3"/>
<text transform="translate(170.4,679.5) rotate(-90)" font-size="11.5" text-anchor="middle">Isocitrate</text>
<text transform="translate(183.1,679.5) rotate(-90)" font-size="11.5" text-anchor="middle">(μg/L)</text>
<text x="316.5" y="619.3" font-size="14" font-weight="bold" fill="#000">n</text>
<line x1="366.6" y1="628" x2="366.6" y2="729.2" stroke="#151515" stroke-width="1.3"/>
<line x1="366" y1="728.6" x2="453" y2="728.6" stroke="#151515" stroke-width="1.3"/>
<line x1="362.6" y1="728.6" x2="366.6" y2="728.6" stroke="#151515" stroke-width="1.2"/>
<text x="359.8" y="732.84" font-size="11" text-anchor="end">0</text>
<line x1="362.6" y1="695.07" x2="366.6" y2="695.07" stroke="#151515" stroke-width="1.2"/>
<text x="359.8" y="699.57" font-size="11" text-anchor="end">30</text>
<line x1="362.6" y1="661.53" x2="366.6" y2="661.53" stroke="#151515" stroke-width="1.2"/>
<text x="359.8" y="666.3" font-size="11" text-anchor="end">60</text>
<line x1="362.6" y1="628" x2="366.6" y2="628" stroke="#151515" stroke-width="1.2"/>
<text x="359.8" y="633.04" font-size="11" text-anchor="end">90</text>
<rect x="375" y="670.47" width="11.1" height="58.13" fill="none" stroke="#a6a6a6" stroke-width="2.0"/>
<line x1="380.55" y1="664.89" x2="380.55" y2="676.06" stroke="#a6a6a6" stroke-width="1.3"/>
<line x1="377.55" y1="664.89" x2="383.55" y2="664.89" stroke="#a6a6a6" stroke-width="1.3"/>
<line x1="377.55" y1="676.06" x2="383.55" y2="676.06" stroke="#a6a6a6" stroke-width="1.3"/>
<path d="M379.1 664.3h1.7v1.7h-1.7zM382.5 669.7h1.7v1.7h-1.7zM379.8 671.4h1.7v1.7h-1.7zM383.8 666.5h1.7v1.7h-1.7zM382.5 672.3h1.7v1.7h-1.7zM380.8 666.2h1.7v1.7h-1.7zM378.4 671.2h1.7v1.7h-1.7zM376.6 677.1h1.7v1.7h-1.7z" fill="#a6a6a6"/>
<line x1="380.55" y1="728.6" x2="380.55" y2="731.1" stroke="#151515" stroke-width="1"/>
<rect x="394.7" y="660.86" width="11.2" height="67.74" fill="none" stroke="#16167e" stroke-width="2.0"/>
<line x1="400.3" y1="656.39" x2="400.3" y2="665.33" stroke="#16167e" stroke-width="1.3"/>
<line x1="397.3" y1="656.39" x2="403.3" y2="656.39" stroke="#16167e" stroke-width="1.3"/>
<line x1="397.3" y1="665.33" x2="403.3" y2="665.33" stroke="#16167e" stroke-width="1.3"/>
<path d="M401.5 665.8h1.7v1.7h-1.7zM396.6 663.3h1.7v1.7h-1.7zM402.3 665.6h1.7v1.7h-1.7zM400.9 655.0h1.7v1.7h-1.7zM397.3 662.9h1.7v1.7h-1.7zM399.1 662.8h1.7v1.7h-1.7zM399.0 664.6h1.7v1.7h-1.7zM403.3 663.2h1.7v1.7h-1.7z" fill="#16167e"/>
<line x1="400.3" y1="728.6" x2="400.3" y2="731.1" stroke="#151515" stroke-width="1"/>
<rect x="414.4" y="676.18" width="11.2" height="52.42" fill="none" stroke="#1e1eec" stroke-width="2.0"/>
<line x1="420" y1="670.59" x2="420" y2="681.76" stroke="#1e1eec" stroke-width="1.3"/>
<line x1="417" y1="670.59" x2="423" y2="670.59" stroke="#1e1eec" stroke-width="1.3"/>
<line x1="417" y1="681.76" x2="423" y2="681.76" stroke="#1e1eec" stroke-width="1.3"/>
<path d="M419.5 667.4h1.7v1.7h-1.7zM423.1 679.6h1.7v1.7h-1.7zM417.9 678.5h1.7v1.7h-1.7zM418.2 683.7h1.7v1.7h-1.7zM419.2 675.8h1.7v1.7h-1.7zM419.2 680.3h1.7v1.7h-1.7zM417.2 683.6h1.7v1.7h-1.7zM418.3 682.2h1.7v1.7h-1.7z" fill="#1e1eec"/>
<line x1="420" y1="728.6" x2="420" y2="731.1" stroke="#151515" stroke-width="1"/>
<rect x="434.1" y="644.88" width="11.2" height="83.72" fill="none" stroke="#ee1818" stroke-width="2.0"/>
<line x1="439.7" y1="641.52" x2="439.7" y2="648.23" stroke="#ee1818" stroke-width="1.3"/>
<line x1="436.7" y1="641.52" x2="442.7" y2="641.52" stroke="#ee1818" stroke-width="1.3"/>
<line x1="436.7" y1="648.23" x2="442.7" y2="648.23" stroke="#ee1818" stroke-width="1.3"/>
<path d="M434.8 648.6h1.7v1.7h-1.7zM436.6 646.0h1.7v1.7h-1.7zM439.1 643.2h1.7v1.7h-1.7zM440.2 641.5h1.7v1.7h-1.7zM442.0 641.9h1.7v1.7h-1.7zM437.4 645.1h1.7v1.7h-1.7zM435.9 639.2h1.7v1.7h-1.7zM440.1 641.8h1.7v1.7h-1.7z" fill="#ee1818"/>
<line x1="439.7" y1="728.6" x2="439.7" y2="731.1" stroke="#151515" stroke-width="1"/>
<text x="399.6" y="617.5" font-size="8.8"><tspan font-style="italic">P</tspan>&lt;0.0001</text>
<line x1="399" y1="621.2" x2="437.9" y2="621.2" stroke="#333" stroke-width="1.3"/>
<text x="396.8" y="633.9" font-size="8.8"><tspan font-style="italic">P</tspan>&lt;0.0001</text>
<line x1="401.2" y1="637.7" x2="420.9" y2="637.7" stroke="#333" stroke-width="1.3"/>
<text x="374.9" y="648.2" font-size="8.8"><tspan font-style="italic">P</tspan>=0.0007</text>
<line x1="378.4" y1="652.1" x2="398.5" y2="652.1" stroke="#333" stroke-width="1.3"/>
<text transform="translate(329.2,677.5) rotate(-90)" font-size="11.5" text-anchor="middle">α-Ketoglutarate</text>
<text transform="translate(342.3,677.5) rotate(-90)" font-size="11.5" text-anchor="middle">(ng/μl)</text>
<text x="476" y="619.3" font-size="14" font-weight="bold" fill="#000">o</text>
<line x1="517.5" y1="626.32" x2="517.5" y2="729.1" stroke="#151515" stroke-width="1.3"/>
<line x1="516.9" y1="728.5" x2="612" y2="728.5" stroke="#151515" stroke-width="1.3"/>
<line x1="513.5" y1="728.5" x2="517.5" y2="728.5" stroke="#151515" stroke-width="1.2"/>
<text x="512" y="732.94" font-size="11" text-anchor="end">0</text>
<line x1="513.5" y1="694.44" x2="517.5" y2="694.44" stroke="#151515" stroke-width="1.2"/>
<text x="512" y="699.04" font-size="11" text-anchor="end">2</text>
<line x1="513.5" y1="660.38" x2="517.5" y2="660.38" stroke="#151515" stroke-width="1.2"/>
<text x="512" y="665.15" font-size="11" text-anchor="end">4</text>
<line x1="513.5" y1="626.32" x2="517.5" y2="626.32" stroke="#151515" stroke-width="1.2"/>
<text x="512" y="631.26" font-size="11" text-anchor="end">6</text>
<rect x="526.8" y="658.68" width="11.2" height="69.82" fill="none" stroke="#a6a6a6" stroke-width="2.0"/>
<line x1="532.4" y1="648.46" x2="532.4" y2="668.89" stroke="#a6a6a6" stroke-width="1.3"/>
<line x1="529.4" y1="648.46" x2="535.4" y2="648.46" stroke="#a6a6a6" stroke-width="1.3"/>
<line x1="529.4" y1="668.89" x2="535.4" y2="668.89" stroke="#a6a6a6" stroke-width="1.3"/>
<path d="M534.4 671.8h1.7v1.7h-1.7zM532.6 645.8h1.7v1.7h-1.7zM534.2 650.7h1.7v1.7h-1.7zM531.7 668.9h1.7v1.7h-1.7zM534.4 657.7h1.7v1.7h-1.7zM534.3 648.5h1.7v1.7h-1.7zM534.8 655.3h1.7v1.7h-1.7zM533.2 652.2h1.7v1.7h-1.7z" fill="#a6a6a6"/>
<line x1="532.4" y1="728.5" x2="532.4" y2="731" stroke="#151515" stroke-width="1"/>
<rect x="548.1" y="674" width="11.8" height="54.5" fill="none" stroke="#16167e" stroke-width="2.0"/>
<line x1="554" y1="666.34" x2="554" y2="681.67" stroke="#16167e" stroke-width="1.3"/>
<line x1="551" y1="666.34" x2="557" y2="666.34" stroke="#16167e" stroke-width="1.3"/>
<line x1="551" y1="681.67" x2="557" y2="681.67" stroke="#16167e" stroke-width="1.3"/>
<path d="M549.2 679.4h1.7v1.7h-1.7zM552.0 681.6h1.7v1.7h-1.7zM556.0 682.2h1.7v1.7h-1.7zM554.2 671.8h1.7v1.7h-1.7zM554.7 670.3h1.7v1.7h-1.7zM549.0 673.4h1.7v1.7h-1.7zM555.2 666.3h1.7v1.7h-1.7zM553.4 673.1h1.7v1.7h-1.7z" fill="#16167e"/>
<line x1="554" y1="728.5" x2="554" y2="731" stroke="#151515" stroke-width="1"/>
<rect x="570.6" y="651.01" width="11.8" height="77.49" fill="none" stroke="#1e1eec" stroke-width="2.0"/>
<line x1="576.5" y1="640.8" x2="576.5" y2="661.23" stroke="#1e1eec" stroke-width="1.3"/>
<line x1="573.5" y1="640.8" x2="579.5" y2="640.8" stroke="#1e1eec" stroke-width="1.3"/>
<line x1="573.5" y1="661.23" x2="579.5" y2="661.23" stroke="#1e1eec" stroke-width="1.3"/>
<path d="M572.0 645.3h1.7v1.7h-1.7zM573.6 642.9h1.7v1.7h-1.7zM573.7 663.2h1.7v1.7h-1.7zM573.2 643.1h1.7v1.7h-1.7zM579.6 642.8h1.7v1.7h-1.7zM574.7 650.3h1.7v1.7h-1.7zM577.2 650.8h1.7v1.7h-1.7zM576.6 642.0h1.7v1.7h-1.7z" fill="#1e1eec"/>
<line x1="576.5" y1="728.5" x2="576.5" y2="731" stroke="#151515" stroke-width="1"/>
<rect x="592.5" y="686.95" width="11.8" height="41.55" fill="none" stroke="#ec4444" stroke-width="2.0"/>
<line x1="598.4" y1="675.88" x2="598.4" y2="698.02" stroke="#ec4444" stroke-width="1.3"/>
<line x1="595.4" y1="675.88" x2="601.4" y2="675.88" stroke="#ec4444" stroke-width="1.3"/>
<line x1="595.4" y1="698.02" x2="601.4" y2="698.02" stroke="#ec4444" stroke-width="1.3"/>
<path d="M594.0 681.4h1.7v1.7h-1.7zM595.5 697.8h1.7v1.7h-1.7zM595.9 678.0h1.7v1.7h-1.7zM593.5 683.8h1.7v1.7h-1.7zM595.6 700.7h1.7v1.7h-1.7zM599.2 680.4h1.7v1.7h-1.7zM595.8 680.3h1.7v1.7h-1.7zM597.3 685.5h1.7v1.7h-1.7z" fill="#ec4444"/>
<line x1="598.4" y1="728.5" x2="598.4" y2="731" stroke="#151515" stroke-width="1"/>
<text x="554.3" y="607.7" font-size="8.8"><tspan font-style="italic">P</tspan>=0.0365</text>
<line x1="557.6" y1="611.4" x2="598.1" y2="611.4" stroke="#333" stroke-width="1.3"/>
<text x="554.3" y="624.1" font-size="8.8"><tspan font-style="italic">P</tspan>=0.0002</text>
<line x1="557.6" y1="628" x2="577.7" y2="628" stroke="#333" stroke-width="1.3"/>
<text x="524.7" y="638.3" font-size="8.8"><tspan font-style="italic">P</tspan>=0.0144</text>
<line x1="536.1" y1="642" x2="555.8" y2="642" stroke="#333" stroke-width="1.3"/>
<text transform="translate(497,678.8) rotate(-90)" font-size="11.5" text-anchor="middle">NADP<tspan font-size="7.5" baseline-shift="4">+</tspan>/NADPH</text>
<text x="3.5" y="766" font-size="14" font-weight="bold" fill="#000">p</text>
<line x1="55.8" y1="778.6" x2="55.8" y2="881.5" stroke="#151515" stroke-width="1.3"/>
<line x1="55.2" y1="880.9" x2="144" y2="880.9" stroke="#151515" stroke-width="1.3"/>
<line x1="51.8" y1="880.9" x2="55.8" y2="880.9" stroke="#151515" stroke-width="1.2"/>
<text x="50.4" y="883.54" font-size="11" text-anchor="end">0</text>
<line x1="51.8" y1="860.44" x2="55.8" y2="860.44" stroke="#151515" stroke-width="1.2"/>
<text x="50.4" y="863.54" font-size="11" text-anchor="end">0.2</text>
<line x1="51.8" y1="839.98" x2="55.8" y2="839.98" stroke="#151515" stroke-width="1.2"/>
<text x="50.4" y="843.54" font-size="11" text-anchor="end">0.4</text>
<line x1="51.8" y1="819.52" x2="55.8" y2="819.52" stroke="#151515" stroke-width="1.2"/>
<text x="50.4" y="823.54" font-size="11" text-anchor="end">0.6</text>
<line x1="51.8" y1="799.06" x2="55.8" y2="799.06" stroke="#151515" stroke-width="1.2"/>
<text x="50.4" y="803.54" font-size="11" text-anchor="end">0.8</text>
<line x1="51.8" y1="778.6" x2="55.8" y2="778.6" stroke="#151515" stroke-width="1.2"/>
<text x="50.4" y="783.54" font-size="11" text-anchor="end">1.0</text>
<rect x="64.5" y="824.23" width="10" height="56.67" fill="none" stroke="#a6a6a6" stroke-width="2.0"/>
<line x1="69.5" y1="815.02" x2="69.5" y2="833.43" stroke="#a6a6a6" stroke-width="1.3"/>
<line x1="66.5" y1="815.02" x2="72.5" y2="815.02" stroke="#a6a6a6" stroke-width="1.3"/>
<line x1="66.5" y1="833.43" x2="72.5" y2="833.43" stroke="#a6a6a6" stroke-width="1.3"/>
<path d="M65.4 824.3h1.7v1.7h-1.7zM66.1 812.5h1.7v1.7h-1.7zM72.3 810.2h1.7v1.7h-1.7zM68.3 836.7h1.7v1.7h-1.7zM72.6 814.5h1.7v1.7h-1.7zM66.7 824.8h1.7v1.7h-1.7zM72.4 831.4h1.7v1.7h-1.7zM69.3 831.4h1.7v1.7h-1.7z" fill="#a6a6a6"/>
<line x1="69.5" y1="880.9" x2="69.5" y2="883.4" stroke="#151515" stroke-width="1"/>
<rect x="84.2" y="814.3" width="11.1" height="66.6" fill="none" stroke="#16167e" stroke-width="2.0"/>
<line x1="89.75" y1="808.16" x2="89.75" y2="820.44" stroke="#16167e" stroke-width="1.3"/>
<line x1="86.75" y1="808.16" x2="92.75" y2="808.16" stroke="#16167e" stroke-width="1.3"/>
<line x1="86.75" y1="820.44" x2="92.75" y2="820.44" stroke="#16167e" stroke-width="1.3"/>
<path d="M89.1 820.0h1.7v1.7h-1.7zM85.8 805.1h1.7v1.7h-1.7zM89.0 807.6h1.7v1.7h-1.7zM90.6 806.3h1.7v1.7h-1.7zM92.2 818.4h1.7v1.7h-1.7zM84.9 813.7h1.7v1.7h-1.7zM88.8 822.6h1.7v1.7h-1.7zM87.2 814.4h1.7v1.7h-1.7z" fill="#16167e"/>
<line x1="89.75" y1="880.9" x2="89.75" y2="883.4" stroke="#151515" stroke-width="1"/>
<rect x="103.9" y="835.07" width="11.6" height="45.83" fill="none" stroke="#1e1eec" stroke-width="2.0"/>
<line x1="109.7" y1="826.89" x2="109.7" y2="843.25" stroke="#1e1eec" stroke-width="1.3"/>
<line x1="106.7" y1="826.89" x2="112.7" y2="826.89" stroke="#1e1eec" stroke-width="1.3"/>
<line x1="106.7" y1="843.25" x2="112.7" y2="843.25" stroke="#1e1eec" stroke-width="1.3"/>
<path d="M107.5 843.0h1.7v1.7h-1.7zM111.7 838.7h1.7v1.7h-1.7zM111.0 846.5h1.7v1.7h-1.7zM105.7 825.9h1.7v1.7h-1.7zM110.6 823.8h1.7v1.7h-1.7zM107.1 824.4h1.7v1.7h-1.7zM108.0 837.4h1.7v1.7h-1.7zM109.6 822.0h1.7v1.7h-1.7z" fill="#1e1eec"/>
<line x1="109.7" y1="880.9" x2="109.7" y2="883.4" stroke="#151515" stroke-width="1"/>
<rect x="124.7" y="802.03" width="10.5" height="78.87" fill="none" stroke="#ec4444" stroke-width="2.0"/>
<line x1="129.95" y1="795.89" x2="129.95" y2="808.16" stroke="#ec4444" stroke-width="1.3"/>
<line x1="126.95" y1="795.89" x2="132.95" y2="795.89" stroke="#ec4444" stroke-width="1.3"/>
<line x1="126.95" y1="808.16" x2="132.95" y2="808.16" stroke="#ec4444" stroke-width="1.3"/>
<path d="M128.5 803.7h1.7v1.7h-1.7zM125.3 805.3h1.7v1.7h-1.7zM131.9 808.5h1.7v1.7h-1.7zM132.8 805.1h1.7v1.7h-1.7zM127.1 805.8h1.7v1.7h-1.7zM126.5 801.0h1.7v1.7h-1.7zM132.9 803.5h1.7v1.7h-1.7zM131.7 794.1h1.7v1.7h-1.7z" fill="#ec4444"/>
<line x1="129.95" y1="880.9" x2="129.95" y2="883.4" stroke="#151515" stroke-width="1"/>
<text x="90.2" y="779.3" font-size="8.8"><tspan font-style="italic">P</tspan>=0.0066</text>
<line x1="89.8" y1="782.6" x2="128.7" y2="782.6" stroke="#333" stroke-width="1.3"/>
<text x="80.6" y="797.2" font-size="8.8"><tspan font-style="italic">P</tspan>&lt;0.0001</text>
<line x1="92" y1="801.6" x2="111.7" y2="801.6" stroke="#333" stroke-width="1.3"/>
<text transform="translate(24.9,827) rotate(-90)" font-size="11.5" text-anchor="middle">FAO (U/gprot)</text>
<text x="168" y="766" font-size="14" font-weight="bold" fill="#000">q</text>
<line x1="213.5" y1="779.64" x2="213.5" y2="882" stroke="#151515" stroke-width="1.3"/>
<line x1="212.9" y1="881.4" x2="305" y2="881.4" stroke="#151515" stroke-width="1.3"/>
<line x1="209.5" y1="881.4" x2="213.5" y2="881.4" stroke="#151515" stroke-width="1.2"/>
<text x="208.2" y="885.84" font-size="11" text-anchor="end">0</text>
<line x1="209.5" y1="855.96" x2="213.5" y2="855.96" stroke="#151515" stroke-width="1.2"/>
<text x="208.2" y="860.52" font-size="11" text-anchor="end">2</text>
<line x1="209.5" y1="830.52" x2="213.5" y2="830.52" stroke="#151515" stroke-width="1.2"/>
<text x="208.2" y="835.21" font-size="11" text-anchor="end">4</text>
<line x1="209.5" y1="805.08" x2="213.5" y2="805.08" stroke="#151515" stroke-width="1.2"/>
<text x="208.2" y="809.89" font-size="11" text-anchor="end">6</text>
<line x1="209.5" y1="779.64" x2="213.5" y2="779.64" stroke="#151515" stroke-width="1.2"/>
<text x="208.2" y="784.58" font-size="11" text-anchor="end">8</text>
<rect x="222.8" y="836.5" width="11.6" height="44.9" fill="none" stroke="#a6a6a6" stroke-width="2.0"/>
<line x1="228.6" y1="829.5" x2="228.6" y2="843.49" stroke="#a6a6a6" stroke-width="1.3"/>
<line x1="225.6" y1="829.5" x2="231.6" y2="829.5" stroke="#a6a6a6" stroke-width="1.3"/>
<line x1="225.6" y1="843.49" x2="231.6" y2="843.49" stroke="#a6a6a6" stroke-width="1.3"/>
<path d="M231.2 832.9h1.7v1.7h-1.7zM228.2 826.4h1.7v1.7h-1.7zM224.0 831.0h1.7v1.7h-1.7zM227.3 830.8h1.7v1.7h-1.7zM229.0 830.3h1.7v1.7h-1.7zM224.0 840.1h1.7v1.7h-1.7zM224.6 826.7h1.7v1.7h-1.7zM226.4 836.2h1.7v1.7h-1.7z" fill="#a6a6a6"/>
<line x1="228.6" y1="881.4" x2="228.6" y2="883.9" stroke="#151515" stroke-width="1"/>
<rect x="243.4" y="850.36" width="11.8" height="31.04" fill="none" stroke="#16167e" stroke-width="2.0"/>
<line x1="249.3" y1="840.19" x2="249.3" y2="860.54" stroke="#16167e" stroke-width="1.3"/>
<line x1="246.3" y1="840.19" x2="252.3" y2="840.19" stroke="#16167e" stroke-width="1.3"/>
<line x1="246.3" y1="860.54" x2="252.3" y2="860.54" stroke="#16167e" stroke-width="1.3"/>
<path d="M250.5 855.7h1.7v1.7h-1.7zM246.4 835.0h1.7v1.7h-1.7zM246.8 844.8h1.7v1.7h-1.7zM247.6 847.8h1.7v1.7h-1.7zM245.6 859.7h1.7v1.7h-1.7zM251.9 858.4h1.7v1.7h-1.7zM246.1 849.6h1.7v1.7h-1.7zM252.6 837.1h1.7v1.7h-1.7z" fill="#16167e"/>
<line x1="249.3" y1="881.4" x2="249.3" y2="883.9" stroke="#151515" stroke-width="1"/>
<rect x="264.4" y="815.76" width="12" height="65.64" fill="none" stroke="#1e1eec" stroke-width="2.0"/>
<line x1="270.4" y1="808.13" x2="270.4" y2="823.4" stroke="#1e1eec" stroke-width="1.3"/>
<line x1="267.4" y1="808.13" x2="273.4" y2="808.13" stroke="#1e1eec" stroke-width="1.3"/>
<line x1="267.4" y1="823.4" x2="273.4" y2="823.4" stroke="#1e1eec" stroke-width="1.3"/>
<path d="M266.5 816.1h1.7v1.7h-1.7zM266.1 822.0h1.7v1.7h-1.7zM266.1 818.5h1.7v1.7h-1.7zM267.5 820.9h1.7v1.7h-1.7zM272.8 813.3h1.7v1.7h-1.7zM268.8 809.2h1.7v1.7h-1.7zM269.8 816.9h1.7v1.7h-1.7zM268.2 817.7h1.7v1.7h-1.7z" fill="#1e1eec"/>
<line x1="270.4" y1="881.4" x2="270.4" y2="883.9" stroke="#151515" stroke-width="1"/>
<rect x="285.7" y="862.83" width="11.3" height="18.57" fill="none" stroke="#ec4444" stroke-width="2.0"/>
<line x1="291.35" y1="859.01" x2="291.35" y2="866.64" stroke="#ec4444" stroke-width="1.3"/>
<line x1="288.35" y1="859.01" x2="294.35" y2="859.01" stroke="#ec4444" stroke-width="1.3"/>
<line x1="288.35" y1="866.64" x2="294.35" y2="866.64" stroke="#ec4444" stroke-width="1.3"/>
<path d="M288.6 867.0h1.7v1.7h-1.7zM287.4 856.6h1.7v1.7h-1.7zM291.6 861.9h1.7v1.7h-1.7zM288.1 857.8h1.7v1.7h-1.7zM288.4 864.6h1.7v1.7h-1.7zM290.0 863.1h1.7v1.7h-1.7zM293.4 856.8h1.7v1.7h-1.7zM286.5 857.7h1.7v1.7h-1.7z" fill="#ec4444"/>
<line x1="291.35" y1="881.4" x2="291.35" y2="883.9" stroke="#151515" stroke-width="1"/>
<text x="254" y="777.4" font-size="8.8"><tspan font-style="italic">P</tspan>=0.0036</text>
<line x1="253.4" y1="780.7" x2="292.3" y2="780.7" stroke="#333" stroke-width="1.3"/>
<text x="238.7" y="791.2" font-size="8.8"><tspan font-style="italic">P</tspan>&lt;0.0001</text>
<line x1="250.3" y1="795.3" x2="269.3" y2="795.3" stroke="#333" stroke-width="1.3"/>
<text x="219.6" y="805.8" font-size="8.8"><tspan font-style="italic">P</tspan>=0.0056</text>
<line x1="230.6" y1="809.6" x2="250.3" y2="809.6" stroke="#333" stroke-width="1.3"/>
<text transform="translate(177,833.8) rotate(-90)" font-size="11.5" text-anchor="middle">Hepatic TC</text>
<text transform="translate(191.2,833.8) rotate(-90)" font-size="11.5" text-anchor="middle">(mg/g)</text>
<text x="321" y="765.8" font-size="14" font-weight="bold" fill="#000">r</text>
<line x1="377.7" y1="779.6" x2="377.7" y2="882.4" stroke="#151515" stroke-width="1.3"/>
<line x1="377.1" y1="881.8" x2="464" y2="881.8" stroke="#151515" stroke-width="1.3"/>
<line x1="373.7" y1="881.8" x2="377.7" y2="881.8" stroke="#151515" stroke-width="1.2"/>
<text x="370.8" y="885.42" font-size="11.5" text-anchor="end">0</text>
<line x1="373.7" y1="856.25" x2="377.7" y2="856.25" stroke="#151515" stroke-width="1.2"/>
<text x="370.8" y="860.49" font-size="11.5" text-anchor="end">50</text>
<line x1="373.7" y1="830.7" x2="377.7" y2="830.7" stroke="#151515" stroke-width="1.2"/>
<text x="370.8" y="835.57" font-size="11.5" text-anchor="end">100</text>
<line x1="373.7" y1="805.15" x2="377.7" y2="805.15" stroke="#151515" stroke-width="1.2"/>
<text x="370.8" y="810.64" font-size="11.5" text-anchor="end">150</text>
<line x1="373.7" y1="779.6" x2="377.7" y2="779.6" stroke="#151515" stroke-width="1.2"/>
<text x="370.8" y="785.72" font-size="11.5" text-anchor="end">200</text>
<rect x="386.6" y="807.4" width="11.1" height="74.4" fill="none" stroke="#a6a6a6" stroke-width="1.6"/>
<line x1="392.15" y1="803.31" x2="392.15" y2="811.49" stroke="#a6a6a6" stroke-width="1.3"/>
<line x1="389.15" y1="803.31" x2="395.15" y2="803.31" stroke="#a6a6a6" stroke-width="1.3"/>
<line x1="389.15" y1="811.49" x2="395.15" y2="811.49" stroke="#a6a6a6" stroke-width="1.3"/>
<path d="M393.1 812.3h1.7v1.7h-1.7zM391.1 801.7h1.7v1.7h-1.7zM387.1 805.5h1.7v1.7h-1.7zM394.9 807.9h1.7v1.7h-1.7zM394.3 802.6h1.7v1.7h-1.7zM389.2 800.8h1.7v1.7h-1.7zM388.4 811.3h1.7v1.7h-1.7zM392.8 806.3h1.7v1.7h-1.7z" fill="#a6a6a6"/>
<line x1="392.15" y1="881.8" x2="392.15" y2="884.3" stroke="#151515" stroke-width="1"/>
<rect x="405.9" y="824.06" width="11.1" height="57.74" fill="none" stroke="#16167e" stroke-width="1.6"/>
<line x1="411.45" y1="816.39" x2="411.45" y2="831.72" stroke="#16167e" stroke-width="1.3"/>
<line x1="408.45" y1="816.39" x2="414.45" y2="816.39" stroke="#16167e" stroke-width="1.3"/>
<line x1="408.45" y1="831.72" x2="414.45" y2="831.72" stroke="#16167e" stroke-width="1.3"/>
<path d="M412.5 813.1h1.7v1.7h-1.7zM412.8 819.8h1.7v1.7h-1.7zM411.0 824.2h1.7v1.7h-1.7zM413.0 833.8h1.7v1.7h-1.7zM414.1 829.4h1.7v1.7h-1.7zM409.0 819.9h1.7v1.7h-1.7zM408.5 831.8h1.7v1.7h-1.7zM412.3 820.1h1.7v1.7h-1.7z" fill="#16167e"/>
<line x1="411.45" y1="881.8" x2="411.45" y2="884.3" stroke="#151515" stroke-width="1"/>
<rect x="425.2" y="792.02" width="10.9" height="89.78" fill="none" stroke="#1e1eec" stroke-width="1.6"/>
<line x1="430.65" y1="786.91" x2="430.65" y2="797.13" stroke="#1e1eec" stroke-width="1.3"/>
<line x1="427.65" y1="786.91" x2="433.65" y2="786.91" stroke="#1e1eec" stroke-width="1.3"/>
<line x1="427.65" y1="797.13" x2="433.65" y2="797.13" stroke="#1e1eec" stroke-width="1.3"/>
<path d="M426.2 797.1h1.7v1.7h-1.7zM430.5 790.8h1.7v1.7h-1.7zM427.5 792.9h1.7v1.7h-1.7zM425.7 789.6h1.7v1.7h-1.7zM429.5 794.2h1.7v1.7h-1.7zM431.0 784.1h1.7v1.7h-1.7zM429.6 785.3h1.7v1.7h-1.7zM427.7 795.2h1.7v1.7h-1.7z" fill="#1e1eec"/>
<line x1="430.65" y1="881.8" x2="430.65" y2="884.3" stroke="#151515" stroke-width="1"/>
<rect x="444.3" y="858.7" width="11.5" height="23.1" fill="none" stroke="#ec4444" stroke-width="1.6"/>
<line x1="450.05" y1="854.61" x2="450.05" y2="862.79" stroke="#ec4444" stroke-width="1.3"/>
<line x1="447.05" y1="854.61" x2="453.05" y2="854.61" stroke="#ec4444" stroke-width="1.3"/>
<line x1="447.05" y1="862.79" x2="453.05" y2="862.79" stroke="#ec4444" stroke-width="1.3"/>
<path d="M450.9 852.2h1.7v1.7h-1.7zM445.2 860.2h1.7v1.7h-1.7zM450.7 857.9h1.7v1.7h-1.7zM447.2 858.8h1.7v1.7h-1.7zM452.8 855.8h1.7v1.7h-1.7zM445.3 861.2h1.7v1.7h-1.7zM448.5 859.8h1.7v1.7h-1.7zM446.7 855.6h1.7v1.7h-1.7z" fill="#ec4444"/>
<line x1="450.05" y1="881.8" x2="450.05" y2="884.3" stroke="#151515" stroke-width="1"/>
<text x="413.6" y="761" font-size="8.8"><tspan font-style="italic">P</tspan>&lt;0.0001</text>
<line x1="410.1" y1="764.8" x2="451.4" y2="764.8" stroke="#333" stroke-width="1.3"/>
<text x="396.8" y="776.7" font-size="8.8"><tspan font-style="italic">P</tspan>&lt;0.0001</text>
<line x1="407.7" y1="780.7" x2="428.1" y2="780.7" stroke="#333" stroke-width="1.3"/>
<text x="382.1" y="791.2" font-size="8.8"><tspan font-style="italic">P</tspan>&lt;0.0001</text>
<line x1="393.7" y1="795.5" x2="413.4" y2="795.5" stroke="#333" stroke-width="1.3"/>
<text transform="translate(329.2,832.7) rotate(-90)" font-size="11.5" text-anchor="middle">Hepatic TG</text>
<text transform="translate(343.4,832.7) rotate(-90)" font-size="11.5" text-anchor="middle">(mg/g)</text>
<text x="484" y="765.4" font-size="14" font-weight="bold" fill="#000">s</text>
<line x1="525.7" y1="779.3" x2="525.7" y2="882.1" stroke="#151515" stroke-width="1.3"/>
<line x1="525.1" y1="881.5" x2="611.8" y2="881.5" stroke="#151515" stroke-width="1.3"/>
<line x1="521.7" y1="881.5" x2="525.7" y2="881.5" stroke="#151515" stroke-width="1.2"/>
<text x="520.3" y="885.94" font-size="11" text-anchor="end">0</text>
<line x1="521.7" y1="861.06" x2="525.7" y2="861.06" stroke="#151515" stroke-width="1.2"/>
<text x="520.3" y="865.6" font-size="11" text-anchor="end">1</text>
<line x1="521.7" y1="840.62" x2="525.7" y2="840.62" stroke="#151515" stroke-width="1.2"/>
<text x="520.3" y="845.26" font-size="11" text-anchor="end">2</text>
<line x1="521.7" y1="820.18" x2="525.7" y2="820.18" stroke="#151515" stroke-width="1.2"/>
<text x="520.3" y="824.92" font-size="11" text-anchor="end">3</text>
<line x1="521.7" y1="799.74" x2="525.7" y2="799.74" stroke="#151515" stroke-width="1.2"/>
<text x="520.3" y="804.58" font-size="11" text-anchor="end">4</text>
<line x1="521.7" y1="779.3" x2="525.7" y2="779.3" stroke="#151515" stroke-width="1.2"/>
<text x="520.3" y="784.24" font-size="11" text-anchor="end">5</text>
<rect x="534.1" y="829.38" width="11.2" height="52.12" fill="none" stroke="#a6a6a6" stroke-width="2.0"/>
<line x1="539.7" y1="821.2" x2="539.7" y2="837.55" stroke="#a6a6a6" stroke-width="1.3"/>
<line x1="536.7" y1="821.2" x2="542.7" y2="821.2" stroke="#a6a6a6" stroke-width="1.3"/>
<line x1="536.7" y1="837.55" x2="542.7" y2="837.55" stroke="#a6a6a6" stroke-width="1.3"/>
<path d="M540.9 821.2h1.7v1.7h-1.7zM536.4 828.4h1.7v1.7h-1.7zM537.3 817.0h1.7v1.7h-1.7zM536.6 820.7h1.7v1.7h-1.7zM541.0 835.4h1.7v1.7h-1.7zM542.6 833.6h1.7v1.7h-1.7zM536.2 828.6h1.7v1.7h-1.7zM538.2 835.3h1.7v1.7h-1.7z" fill="#a6a6a6"/>
<line x1="539.7" y1="881.5" x2="539.7" y2="884" stroke="#151515" stroke-width="1"/>
<rect x="553.3" y="846.34" width="11.9" height="35.16" fill="none" stroke="#16167e" stroke-width="2.0"/>
<line x1="559.25" y1="845.12" x2="559.25" y2="847.57" stroke="#16167e" stroke-width="1.3"/>
<line x1="556.25" y1="845.12" x2="562.25" y2="845.12" stroke="#16167e" stroke-width="1.3"/>
<line x1="556.25" y1="847.57" x2="562.25" y2="847.57" stroke="#16167e" stroke-width="1.3"/>
<path d="M562.2 844.9h1.7v1.7h-1.7zM557.5 846.8h1.7v1.7h-1.7zM562.4 846.5h1.7v1.7h-1.7zM554.6 846.8h1.7v1.7h-1.7zM557.5 847.1h1.7v1.7h-1.7zM561.6 844.0h1.7v1.7h-1.7zM562.6 844.6h1.7v1.7h-1.7zM557.0 843.9h1.7v1.7h-1.7z" fill="#16167e"/>
<line x1="559.25" y1="881.5" x2="559.25" y2="884" stroke="#151515" stroke-width="1"/>
<rect x="572.6" y="795.45" width="11.7" height="86.05" fill="none" stroke="#1e1eec" stroke-width="2.0"/>
<line x1="578.45" y1="780.12" x2="578.45" y2="810.78" stroke="#1e1eec" stroke-width="1.3"/>
<line x1="575.45" y1="780.12" x2="581.45" y2="780.12" stroke="#1e1eec" stroke-width="1.3"/>
<line x1="575.45" y1="810.78" x2="581.45" y2="810.78" stroke="#1e1eec" stroke-width="1.3"/>
<path d="M581.3 809.1h1.7v1.7h-1.7zM573.7 783.3h1.7v1.7h-1.7zM576.6 787.0h1.7v1.7h-1.7zM576.2 800.4h1.7v1.7h-1.7zM573.4 809.8h1.7v1.7h-1.7zM576.4 804.7h1.7v1.7h-1.7zM574.4 773.6h1.7v1.7h-1.7zM575.1 773.2h1.7v1.7h-1.7z" fill="#1e1eec"/>
<line x1="578.45" y1="881.5" x2="578.45" y2="884" stroke="#151515" stroke-width="1"/>
<rect x="592.5" y="868.62" width="10.9" height="12.88" fill="none" stroke="#ec4444" stroke-width="2.0"/>
<line x1="597.95" y1="867.4" x2="597.95" y2="869.85" stroke="#ec4444" stroke-width="1.3"/>
<line x1="594.95" y1="867.4" x2="600.95" y2="867.4" stroke="#ec4444" stroke-width="1.3"/>
<line x1="594.95" y1="869.85" x2="600.95" y2="869.85" stroke="#ec4444" stroke-width="1.3"/>
<path d="M599.8 868.3h1.7v1.7h-1.7zM596.5 866.6h1.7v1.7h-1.7zM596.9 869.4h1.7v1.7h-1.7zM600.6 868.2h1.7v1.7h-1.7zM596.0 868.9h1.7v1.7h-1.7zM593.2 866.3h1.7v1.7h-1.7zM599.7 868.1h1.7v1.7h-1.7zM593.2 866.8h1.7v1.7h-1.7z" fill="#ec4444"/>
<line x1="597.95" y1="881.5" x2="597.95" y2="884" stroke="#151515" stroke-width="1"/>
<text x="562.9" y="757" font-size="8.8"><tspan font-style="italic">P</tspan>=0.0002</text>
<line x1="562.2" y1="761.2" x2="600.9" y2="761.2" stroke="#333" stroke-width="1.3"/>
<text x="546.8" y="771.8" font-size="8.8"><tspan font-style="italic">P</tspan>&lt;0.0001</text>
<line x1="558" y1="775.3" x2="577.8" y2="775.3" stroke="#333" stroke-width="1.3"/>
<text x="527.4" y="811.6" font-size="8.8"><tspan font-style="italic">P</tspan>=0.0013</text>
<line x1="537.4" y1="815.8" x2="559.2" y2="815.8" stroke="#333" stroke-width="1.3"/>
<text transform="translate(488.7,832.8) rotate(-90)" font-size="11.5" text-anchor="middle">Hepatic FFA</text>
<text transform="translate(502.4,832.8) rotate(-90)" font-size="11.5" text-anchor="middle">(mM/g)</text>
</svg>
</body></html>
